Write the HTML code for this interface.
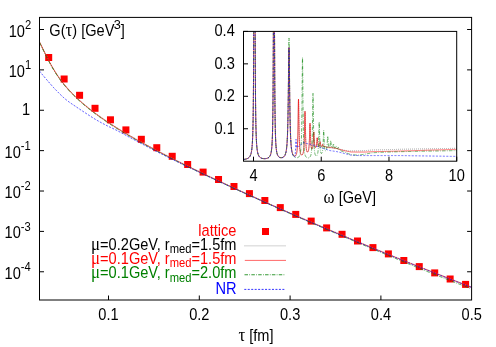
<!DOCTYPE html><html><head><meta charset="utf-8"><title>plot</title><style>html,body{margin:0;padding:0;background:#fff}svg{display:block;will-change:transform}text{font-family:"Liberation Sans",sans-serif;font-size:14.6px;fill:#000}.sy{font-family:"Liberation Serif",serif;font-size:16.8px}</style></head><body>
<svg width="496" height="347" viewBox="0 0 496 347">
<rect width="496" height="347" fill="#fff"/>
<defs><clipPath id="cm"><rect x="39.5" y="17.4" width="432.1" height="282.6"/></clipPath><clipPath id="ci"><rect x="243.5" y="31.4" width="213.2" height="129.79999999999998"/></clipPath></defs>
<g fill="#f00">
<rect x="45.20" y="54.00" width="7" height="7"/>
<rect x="60.64" y="75.50" width="7" height="7"/>
<rect x="76.08" y="91.80" width="7" height="7"/>
<rect x="91.52" y="104.80" width="7" height="7"/>
<rect x="106.96" y="116.30" width="7" height="7"/>
<rect x="122.40" y="126.40" width="7" height="7"/>
<rect x="137.84" y="135.80" width="7" height="7"/>
<rect x="153.28" y="144.20" width="7" height="7"/>
<rect x="168.72" y="152.80" width="7" height="7"/>
<rect x="184.16" y="161.00" width="7" height="7"/>
<rect x="199.60" y="168.60" width="7" height="7"/>
<rect x="215.04" y="176.00" width="7" height="7"/>
<rect x="230.48" y="183.00" width="7" height="7"/>
<rect x="245.92" y="190.10" width="7" height="7"/>
<rect x="261.36" y="197.00" width="7" height="7"/>
<rect x="276.80" y="204.10" width="7" height="7"/>
<rect x="292.24" y="210.90" width="7" height="7"/>
<rect x="307.68" y="217.60" width="7" height="7"/>
<rect x="323.12" y="224.40" width="7" height="7"/>
<rect x="338.56" y="230.80" width="7" height="7"/>
<rect x="354.00" y="237.50" width="7" height="7"/>
<rect x="369.44" y="244.10" width="7" height="7"/>
<rect x="384.88" y="250.40" width="7" height="7"/>
<rect x="400.32" y="257.00" width="7" height="7"/>
<rect x="415.76" y="263.10" width="7" height="7"/>
<rect x="431.20" y="269.40" width="7" height="7"/>
<rect x="446.64" y="275.50" width="7" height="7"/>
<rect x="462.08" y="280.90" width="7" height="7"/>
<rect x="262" y="228" width="7" height="7"/>
</g>
<g clip-path="url(#cm)" fill="none" stroke-width="0.7">
<path d="M39.50,41.75 L40.50,43.71 L41.50,45.73 L42.50,47.79 L43.50,49.86 L44.50,51.91 L45.50,53.95 L46.50,55.96 L47.50,57.94 L48.50,59.87 L49.50,61.77 L50.50,63.61 L51.50,65.41 L52.50,67.16 L53.50,68.86 L54.50,70.52 L55.50,72.13 L56.50,73.69 L57.50,75.21 L58.50,76.68 L59.50,78.11 L60.50,79.49 L61.50,80.83 L62.50,82.14 L63.50,83.40 L64.50,84.63 L65.50,85.83 L66.50,87.00 L67.50,88.15 L68.50,89.26 L69.50,90.35 L70.50,91.42 L71.50,92.47 L72.50,93.49 L73.50,94.50 L74.50,95.49 L75.50,96.46 L76.50,97.41 L77.50,98.35 L78.50,99.27 L79.50,100.18 L80.50,101.07 L81.50,101.95 L82.50,102.82 L83.50,103.68 L84.50,104.53 L85.50,105.36 L86.50,106.19 L87.50,107.00 L88.50,107.81 L89.50,108.61 L90.50,109.39 L91.50,110.17 L92.50,110.94 L93.50,111.70 L94.50,112.46 L95.50,113.20 L96.50,113.94 L97.50,114.67 L98.50,115.40 L99.50,116.12 L100.50,116.83 L101.50,117.54 L102.50,118.24 L103.50,118.93 L104.50,119.62 L105.50,120.30 L106.50,120.98 L107.50,121.65 L108.50,122.31 L109.50,122.98 L110.50,123.63 L111.50,124.28 L112.50,124.93 L113.50,125.57 L114.50,126.21 L115.50,126.85 L116.50,127.48 L117.50,128.10 L118.50,128.72 L119.50,129.34 L120.50,129.95 L121.50,130.56 L122.50,131.17 L123.50,131.77 L124.50,132.37 L125.50,132.97 L126.50,133.56 L127.50,134.15 L128.50,134.73 L129.50,135.32 L130.50,135.90 L131.50,136.47 L132.50,137.05 L133.50,137.62 L134.50,138.19 L135.50,138.75 L136.50,139.31 L137.50,139.87 L138.50,140.43 L139.50,140.99 L140.50,141.54 L141.50,142.09 L142.50,142.64 L143.50,143.19 L144.50,143.74 L145.50,144.28 L146.50,144.82 L147.50,145.36 L148.50,145.90 L149.50,146.43 L150.50,146.97 L151.50,147.50 L152.50,148.03 L153.50,148.56 L154.50,149.09 L155.50,149.61 L156.50,150.14 L157.50,150.66 L158.50,151.18 L159.50,151.70 L160.50,152.22 L161.50,152.74 L162.50,153.25 L163.50,153.77 L164.50,154.28 L165.50,154.79 L166.50,155.30 L167.50,155.81 L168.50,156.32 L169.50,156.83 L170.50,157.34 L171.50,157.84 L172.50,158.35 L173.50,158.85 L174.50,159.35 L175.50,159.85 L176.50,160.35 L177.50,160.85 L178.50,161.35 L179.50,161.84 L180.50,162.34 L181.50,162.83 L182.50,163.33 L183.50,163.82 L184.50,164.31 L185.50,164.81 L186.50,165.30 L187.50,165.79 L188.50,166.27 L189.50,166.76 L190.50,167.25 L191.50,167.74 L192.50,168.22 L193.50,168.71 L194.50,169.19 L195.50,169.67 L196.50,170.16 L197.50,170.64 L198.50,171.12 L199.50,171.60 L200.50,172.08 L201.50,172.56 L202.50,173.03 L203.50,173.51 L204.50,173.99 L205.50,174.47 L206.50,174.94 L207.50,175.42 L208.50,175.89 L209.50,176.36 L210.50,176.84 L211.50,177.31 L212.50,177.78 L213.50,178.25 L214.50,178.72 L215.50,179.19 L216.50,179.66 L217.50,180.13 L218.50,180.60 L219.50,181.07 L220.50,181.53 L221.50,182.00 L222.50,182.46 L223.50,182.93 L224.50,183.39 L225.50,183.86 L226.50,184.32 L227.50,184.79 L228.50,185.25 L229.50,185.71 L230.50,186.17 L231.50,186.63 L232.50,187.09 L233.50,187.55 L234.50,188.01 L235.50,188.47 L236.50,188.93 L237.50,189.39 L238.50,189.85 L239.50,190.30 L240.50,190.76 L241.50,191.22 L242.50,191.67 L243.50,192.13 L244.50,192.58 L245.50,193.04 L246.50,193.49 L247.50,193.94 L248.50,194.40 L249.50,194.85 L250.50,195.30 L251.50,195.75 L252.50,196.20 L253.50,196.65 L254.50,197.10 L255.50,197.55 L256.50,198.00 L257.50,198.45 L258.50,198.90 L259.50,199.35 L260.50,199.80 L261.50,200.24 L262.50,200.69 L263.50,201.14 L264.50,201.58 L265.50,202.03 L266.50,202.47 L267.50,202.92 L268.50,203.36 L269.50,203.81 L270.50,204.25 L271.50,204.69 L272.50,205.14 L273.50,205.58 L274.50,206.02 L275.50,206.46 L276.50,206.90 L277.50,207.34 L278.50,207.78 L279.50,208.22 L280.50,208.66 L281.50,209.10 L282.50,209.54 L283.50,209.98 L284.50,210.42 L285.50,210.86 L286.50,211.29 L287.50,211.73 L288.50,212.17 L289.50,212.61 L290.50,213.04 L291.50,213.48 L292.50,213.91 L293.50,214.35 L294.50,214.78 L295.50,215.22 L296.50,215.65 L297.50,216.08 L298.50,216.52 L299.50,216.95 L300.50,217.38 L301.50,217.81 L302.50,218.25 L303.50,218.68 L304.50,219.11 L305.50,219.54 L306.50,219.97 L307.50,220.40 L308.50,220.83 L309.50,221.26 L310.50,221.69 L311.50,222.12 L312.50,222.54 L313.50,222.97 L314.50,223.40 L315.50,223.83 L316.50,224.25 L317.50,224.68 L318.50,225.11 L319.50,225.53 L320.50,225.96 L321.50,226.39 L322.50,226.81 L323.50,227.23 L324.50,227.66 L325.50,228.08 L326.50,228.51 L327.50,228.93 L328.50,229.35 L329.50,229.78 L330.50,230.20 L331.50,230.62 L332.50,231.04 L333.50,231.47 L334.50,231.89 L335.50,232.31 L336.50,232.73 L337.50,233.15 L338.50,233.57 L339.50,233.99 L340.50,234.41 L341.50,234.83 L342.50,235.25 L343.50,235.66 L344.50,236.08 L345.50,236.50 L346.50,236.92 L347.50,237.34 L348.50,237.75 L349.50,238.17 L350.50,238.59 L351.50,239.00 L352.50,239.42 L353.50,239.83 L354.50,240.25 L355.50,240.66 L356.50,241.08 L357.50,241.49 L358.50,241.91 L359.50,242.32 L360.50,242.73 L361.50,243.15 L362.50,243.56 L363.50,243.97 L364.50,244.38 L365.50,244.80 L366.50,245.21 L367.50,245.62 L368.50,246.03 L369.50,246.44 L370.50,246.85 L371.50,247.26 L372.50,247.67 L373.50,248.08 L374.50,248.49 L375.50,248.90 L376.50,249.31 L377.50,249.72 L378.50,250.13 L379.50,250.53 L380.50,250.94 L381.50,251.35 L382.50,251.76 L383.50,252.16 L384.50,252.57 L385.50,252.98 L386.50,253.38 L387.50,253.79 L388.50,254.19 L389.50,254.60 L390.50,255.00 L391.50,255.41 L392.50,255.81 L393.50,256.22 L394.50,256.62 L395.50,257.03 L396.50,257.43 L397.50,257.83 L398.50,258.23 L399.50,258.64 L400.50,259.04 L401.50,259.44 L402.50,259.84 L403.50,260.24 L404.50,260.65 L405.50,261.05 L406.50,261.45 L407.50,261.85 L408.50,262.25 L409.50,262.65 L410.50,263.05 L411.50,263.45 L412.50,263.85 L413.50,264.25 L414.50,264.64 L415.50,265.04 L416.50,265.44 L417.50,265.84 L418.50,266.24 L419.50,266.63 L420.50,267.03 L421.50,267.43 L422.50,267.82 L423.50,268.22 L424.50,268.62 L425.50,269.01 L426.50,269.41 L427.50,269.80 L428.50,270.20 L429.50,270.59 L430.50,270.99 L431.50,271.38 L432.50,271.78 L433.50,272.17 L434.50,272.56 L435.50,272.96 L436.50,273.35 L437.50,273.74 L438.50,274.14 L439.50,274.53 L440.50,274.92 L441.50,275.31 L442.50,275.70 L443.50,276.09 L444.50,276.49 L445.50,276.88 L446.50,277.27 L447.50,277.66 L448.50,278.05 L449.50,278.44 L450.50,278.83 L451.50,279.22 L452.50,279.61 L453.50,279.99 L454.50,280.38 L455.50,280.77 L456.50,281.16 L457.50,281.55 L458.50,281.93 L459.50,282.32 L460.50,282.71 L461.50,283.10 L462.50,283.48 L463.50,283.87 L464.50,284.26 L465.50,284.64 L466.50,285.03 L467.50,285.41 L468.50,285.80 L469.50,286.18 L470.50,286.57 L471.50,286.95" stroke="#999" stroke-dasharray="1 1" stroke-width="1"/>
<path d="M39.50,42.05 L40.50,44.01 L41.50,46.03 L42.50,48.09 L43.50,50.16 L44.50,52.21 L45.50,54.25 L46.50,56.26 L47.50,58.24 L48.50,60.17 L49.50,62.07 L50.50,63.91 L51.50,65.71 L52.50,67.46 L53.50,69.16 L54.50,70.82 L55.50,72.43 L56.50,73.99 L57.50,75.51 L58.50,76.98 L59.50,78.41 L60.50,79.79 L61.50,81.13 L62.50,82.44 L63.50,83.70 L64.50,84.93 L65.50,86.13 L66.50,87.30 L67.50,88.45 L68.50,89.56 L69.50,90.65 L70.50,91.72 L71.50,92.77 L72.50,93.79 L73.50,94.80 L74.50,95.79 L75.50,96.76 L76.50,97.71 L77.50,98.65 L78.50,99.57 L79.50,100.48 L80.50,101.37 L81.50,102.25 L82.50,103.12 L83.50,103.98 L84.50,104.83 L85.50,105.66 L86.50,106.49 L87.50,107.30 L88.50,108.11 L89.50,108.91 L90.50,109.69 L91.50,110.47 L92.50,111.24 L93.50,112.00 L94.50,112.76 L95.50,113.50 L96.50,114.24 L97.50,114.97 L98.50,115.70 L99.50,116.42 L100.50,117.13 L101.50,117.84 L102.50,118.54 L103.50,119.23 L104.50,119.92 L105.50,120.60 L106.50,121.28 L107.50,121.95 L108.50,122.61 L109.50,123.28 L110.50,123.93 L111.50,124.58 L112.50,125.23 L113.50,125.87 L114.50,126.51 L115.50,127.15 L116.50,127.78 L117.50,128.40 L118.50,129.02 L119.50,129.64 L120.50,130.25 L121.50,130.86 L122.50,131.47 L123.50,132.07 L124.50,132.67 L125.50,133.27 L126.50,133.86 L127.50,134.45 L128.50,135.03 L129.50,135.62 L130.50,136.20 L131.50,136.77 L132.50,137.35 L133.50,137.92 L134.50,138.49 L135.50,139.05 L136.50,139.61 L137.50,140.17 L138.50,140.73 L139.50,141.29 L140.50,141.84 L141.50,142.39 L142.50,142.94 L143.50,143.49 L144.50,144.04 L145.50,144.58 L146.50,145.12 L147.50,145.66 L148.50,146.20 L149.50,146.73 L150.50,147.27 L151.50,147.80 L152.50,148.33 L153.50,148.86 L154.50,149.39 L155.50,149.91 L156.50,150.44 L157.50,150.96 L158.50,151.48 L159.50,152.00 L160.50,152.52 L161.50,153.04 L162.50,153.55 L163.50,154.07 L164.50,154.58 L165.50,155.09 L166.50,155.60 L167.50,156.11 L168.50,156.62 L169.50,157.13 L170.50,157.64 L171.50,158.14 L172.50,158.65 L173.50,159.15 L174.50,159.65 L175.50,160.15 L176.50,160.65 L177.50,161.15 L178.50,161.65 L179.50,162.14 L180.50,162.64 L181.50,163.13 L182.50,163.63 L183.50,164.12 L184.50,164.61 L185.50,165.11 L186.50,165.60 L187.50,166.09 L188.50,166.57 L189.50,167.06 L190.50,167.55 L191.50,168.04 L192.50,168.52 L193.50,169.01 L194.50,169.49 L195.50,169.97 L196.50,170.46 L197.50,170.94 L198.50,171.42 L199.50,171.90 L200.50,172.38 L201.50,172.86 L202.50,173.33 L203.50,173.81 L204.50,174.29 L205.50,174.77 L206.50,175.24 L207.50,175.72 L208.50,176.19 L209.50,176.66 L210.50,177.14 L211.50,177.61 L212.50,178.08 L213.50,178.55 L214.50,179.02 L215.50,179.49 L216.50,179.96 L217.50,180.43 L218.50,180.90 L219.50,181.37 L220.50,181.83 L221.50,182.30 L222.50,182.76 L223.50,183.23 L224.50,183.69 L225.50,184.16 L226.50,184.62 L227.50,185.09 L228.50,185.55 L229.50,186.01 L230.50,186.47 L231.50,186.93 L232.50,187.39 L233.50,187.85 L234.50,188.31 L235.50,188.77 L236.50,189.23 L237.50,189.69 L238.50,190.15 L239.50,190.60 L240.50,191.06 L241.50,191.52 L242.50,191.97 L243.50,192.43 L244.50,192.88 L245.50,193.34 L246.50,193.79 L247.50,194.24 L248.50,194.70 L249.50,195.15 L250.50,195.60 L251.50,196.05 L252.50,196.50 L253.50,196.95 L254.50,197.40 L255.50,197.85 L256.50,198.30 L257.50,198.75 L258.50,199.20 L259.50,199.65 L260.50,200.10 L261.50,200.54 L262.50,200.99 L263.50,201.44 L264.50,201.88 L265.50,202.33 L266.50,202.77 L267.50,203.22 L268.50,203.66 L269.50,204.11 L270.50,204.55 L271.50,204.99 L272.50,205.44 L273.50,205.88 L274.50,206.32 L275.50,206.76 L276.50,207.20 L277.50,207.64 L278.50,208.08 L279.50,208.52 L280.50,208.96 L281.50,209.40 L282.50,209.84 L283.50,210.28 L284.50,210.72 L285.50,211.16 L286.50,211.59 L287.50,212.03 L288.50,212.47 L289.50,212.91 L290.50,213.34 L291.50,213.78 L292.50,214.21 L293.50,214.65 L294.50,215.08 L295.50,215.52 L296.50,215.95 L297.50,216.38 L298.50,216.82 L299.50,217.25 L300.50,217.68 L301.50,218.11 L302.50,218.55 L303.50,218.98 L304.50,219.41 L305.50,219.84 L306.50,220.27 L307.50,220.70 L308.50,221.13 L309.50,221.56 L310.50,221.99 L311.50,222.42 L312.50,222.84 L313.50,223.27 L314.50,223.70 L315.50,224.13 L316.50,224.55 L317.50,224.98 L318.50,225.41 L319.50,225.83 L320.50,226.26 L321.50,226.69 L322.50,227.11 L323.50,227.53 L324.50,227.96 L325.50,228.38 L326.50,228.81 L327.50,229.23 L328.50,229.65 L329.50,230.08 L330.50,230.50 L331.50,230.92 L332.50,231.34 L333.50,231.77 L334.50,232.19 L335.50,232.61 L336.50,233.03 L337.50,233.45 L338.50,233.87 L339.50,234.29 L340.50,234.71 L341.50,235.13 L342.50,235.55 L343.50,235.96 L344.50,236.38 L345.50,236.80 L346.50,237.22 L347.50,237.64 L348.50,238.05 L349.50,238.47 L350.50,238.89 L351.50,239.30 L352.50,239.72 L353.50,240.13 L354.50,240.55 L355.50,240.96 L356.50,241.38 L357.50,241.79 L358.50,242.21 L359.50,242.62 L360.50,243.03 L361.50,243.45 L362.50,243.86 L363.50,244.27 L364.50,244.68 L365.50,245.10 L366.50,245.51 L367.50,245.92 L368.50,246.33 L369.50,246.74 L370.50,247.15 L371.50,247.56 L372.50,247.97 L373.50,248.38 L374.50,248.79 L375.50,249.20 L376.50,249.61 L377.50,250.02 L378.50,250.43 L379.50,250.83 L380.50,251.24 L381.50,251.65 L382.50,252.06 L383.50,252.46 L384.50,252.87 L385.50,253.28 L386.50,253.68 L387.50,254.09 L388.50,254.49 L389.50,254.90 L390.50,255.30 L391.50,255.71 L392.50,256.11 L393.50,256.52 L394.50,256.92 L395.50,257.33 L396.50,257.73 L397.50,258.13 L398.50,258.53 L399.50,258.94 L400.50,259.34 L401.50,259.74 L402.50,260.14 L403.50,260.54 L404.50,260.95 L405.50,261.35 L406.50,261.75 L407.50,262.15 L408.50,262.55 L409.50,262.95 L410.50,263.35 L411.50,263.75 L412.50,264.15 L413.50,264.55 L414.50,264.94 L415.50,265.34 L416.50,265.74 L417.50,266.14 L418.50,266.54 L419.50,266.93 L420.50,267.33 L421.50,267.73 L422.50,268.12 L423.50,268.52 L424.50,268.92 L425.50,269.31 L426.50,269.71 L427.50,270.10 L428.50,270.50 L429.50,270.89 L430.50,271.29 L431.50,271.68 L432.50,272.08 L433.50,272.47 L434.50,272.86 L435.50,273.26 L436.50,273.65 L437.50,274.04 L438.50,274.44 L439.50,274.83 L440.50,275.22 L441.50,275.61 L442.50,276.00 L443.50,276.39 L444.50,276.79 L445.50,277.18 L446.50,277.57 L447.50,277.96 L448.50,278.35 L449.50,278.74 L450.50,279.13 L451.50,279.52 L452.50,279.91 L453.50,280.29 L454.50,280.68 L455.50,281.07 L456.50,281.46 L457.50,281.85 L458.50,282.23 L459.50,282.62 L460.50,283.01 L461.50,283.40 L462.50,283.78 L463.50,284.17 L464.50,284.56 L465.50,284.94 L466.50,285.33 L467.50,285.71 L468.50,286.10 L469.50,286.48 L470.50,286.87 L471.50,287.25" stroke="#f00"/>
<path d="M39.50,42.55 L40.50,44.51 L41.50,46.53 L42.50,48.59 L43.50,50.66 L44.50,52.71 L45.50,54.75 L46.50,56.76 L47.50,58.74 L48.50,60.67 L49.50,62.57 L50.50,64.41 L51.50,66.21 L52.50,67.96 L53.50,69.66 L54.50,71.32 L55.50,72.93 L56.50,74.49 L57.50,76.01 L58.50,77.48 L59.50,78.91 L60.50,80.29 L61.50,81.63 L62.50,82.94 L63.50,84.20 L64.50,85.43 L65.50,86.63 L66.50,87.80 L67.50,88.95 L68.50,90.06 L69.50,91.15 L70.50,92.22 L71.50,93.27 L72.50,94.29 L73.50,95.30 L74.50,96.29 L75.50,97.26 L76.50,98.21 L77.50,99.15 L78.50,100.07 L79.50,100.98 L80.50,101.87 L81.50,102.75 L82.50,103.62 L83.50,104.48 L84.50,105.33 L85.50,106.16 L86.50,106.99 L87.50,107.80 L88.50,108.61 L89.50,109.41 L90.50,110.19 L91.50,110.97 L92.50,111.74 L93.50,112.50 L94.50,113.26 L95.50,114.00 L96.50,114.74 L97.50,115.47 L98.50,116.20 L99.50,116.92 L100.50,117.63 L101.50,118.34 L102.50,119.04 L103.50,119.73 L104.50,120.42 L105.50,121.10 L106.50,121.78 L107.50,122.45 L108.50,123.11 L109.50,123.78 L110.50,124.43 L111.50,125.08 L112.50,125.73 L113.50,126.37 L114.50,127.01 L115.50,127.65 L116.50,128.28 L117.50,128.90 L118.50,129.52 L119.50,130.14 L120.50,130.75 L121.50,131.36 L122.50,131.97 L123.50,132.57 L124.50,133.17 L125.50,133.77 L126.50,134.36 L127.50,134.95 L128.50,135.53 L129.50,136.12 L130.50,136.70 L131.50,137.27 L132.50,137.85 L133.50,138.42 L134.50,138.99 L135.50,139.55 L136.50,140.11 L137.50,140.67 L138.50,141.23 L139.50,141.79 L140.50,142.34 L141.50,142.89 L142.50,143.44 L143.50,143.99 L144.50,144.54 L145.50,145.08 L146.50,145.62 L147.50,146.16 L148.50,146.70 L149.50,147.23 L150.50,147.77 L151.50,148.30 L152.50,148.83 L153.50,149.35 L154.50,149.88 L155.50,150.40 L156.50,150.92 L157.50,151.45 L158.50,151.96 L159.50,152.48 L160.50,153.00 L161.50,153.51 L162.50,154.03 L163.50,154.54 L164.50,155.05 L165.50,155.56 L166.50,156.07 L167.50,156.58 L168.50,157.09 L169.50,157.59 L170.50,158.10 L171.50,158.60 L172.50,159.10 L173.50,159.60 L174.50,160.10 L175.50,160.60 L176.50,161.10 L177.50,161.59 L178.50,162.09 L179.50,162.58 L180.50,163.08 L181.50,163.57 L182.50,164.06 L183.50,164.55 L184.50,165.04 L185.50,165.53 L186.50,166.02 L187.50,166.51 L188.50,167.00 L189.50,167.48 L190.50,167.97 L191.50,168.45 L192.50,168.94 L193.50,169.42 L194.50,169.90 L195.50,170.38 L196.50,170.86 L197.50,171.34 L198.50,171.82 L199.50,172.30 L200.50,172.78 L201.50,173.25 L202.50,173.73 L203.50,174.21 L204.50,174.68 L205.50,175.15 L206.50,175.63 L207.50,176.10 L208.50,176.57 L209.50,177.04 L210.50,177.52 L211.50,177.99 L212.50,178.46 L213.50,178.92 L214.50,179.39 L215.50,179.86 L216.50,180.33 L217.50,180.79 L218.50,181.26 L219.50,181.73 L220.50,182.19 L221.50,182.66 L222.50,183.12 L223.50,183.58 L224.50,184.05 L225.50,184.51 L226.50,184.97 L227.50,185.43 L228.50,185.89 L229.50,186.35 L230.50,186.81 L231.50,187.27 L232.50,187.73 L233.50,188.19 L234.50,188.64 L235.50,189.10 L236.50,189.56 L237.50,190.01 L238.50,190.47 L239.50,190.92 L240.50,191.38 L241.50,191.83 L242.50,192.29 L243.50,192.74 L244.50,193.19 L245.50,193.64 L246.50,194.10 L247.50,194.55 L248.50,195.00 L249.50,195.45 L250.50,195.90 L251.50,196.36 L252.50,196.81 L253.50,197.26 L254.50,197.71 L255.50,198.17 L256.50,198.62 L257.50,199.07 L258.50,199.52 L259.50,199.97 L260.50,200.42 L261.50,200.87 L262.50,201.32 L263.50,201.77 L264.50,202.22 L265.50,202.67 L266.50,203.11 L267.50,203.56 L268.50,204.01 L269.50,204.46 L270.50,204.90 L271.50,205.35 L272.50,205.79 L273.50,206.24 L274.50,206.68 L275.50,207.13 L276.50,207.57 L277.50,208.01 L278.50,208.46 L279.50,208.90 L280.50,209.34 L281.50,209.78 L282.50,210.22 L283.50,210.67 L284.50,211.11 L285.50,211.55 L286.50,211.99 L287.50,212.43 L288.50,212.87 L289.50,213.30 L290.50,213.74 L291.50,214.18 L292.50,214.62 L293.50,215.06 L294.50,215.49 L295.50,215.93 L296.50,216.37 L297.50,216.80 L298.50,217.24 L299.50,217.67 L300.50,218.11 L301.50,218.54 L302.50,218.98 L303.50,219.41 L304.50,219.84 L305.50,220.28 L306.50,220.71 L307.50,221.14 L308.50,221.58 L309.50,222.01 L310.50,222.44 L311.50,222.87 L312.50,223.30 L313.50,223.73 L314.50,224.16 L315.50,224.59 L316.50,225.02 L317.50,225.45 L318.50,225.88 L319.50,226.31 L320.50,226.74 L321.50,227.16 L322.50,227.59 L323.50,228.02 L324.50,228.45 L325.50,228.87 L326.50,229.30 L327.50,229.72 L328.50,230.15 L329.50,230.58 L330.50,231.00 L331.50,231.43 L332.50,231.86 L333.50,232.29 L334.50,232.72 L335.50,233.15 L336.50,233.58 L337.50,234.01 L338.50,234.44 L339.50,234.86 L340.50,235.29 L341.50,235.72 L342.50,236.15 L343.50,236.57 L344.50,237.00 L345.50,237.42 L346.50,237.85 L347.50,238.28 L348.50,238.70 L349.50,239.12 L350.50,239.55 L351.50,239.97 L352.50,240.40 L353.50,240.82 L354.50,241.24 L355.50,241.67 L356.50,242.09 L357.50,242.51 L358.50,242.93 L359.50,243.36 L360.50,243.78 L361.50,244.20 L362.50,244.62 L363.50,245.04 L364.50,245.46 L365.50,245.88 L366.50,246.30 L367.50,246.72 L368.50,247.14 L369.50,247.56 L370.50,247.98 L371.50,248.39 L372.50,248.81 L373.50,249.23 L374.50,249.65 L375.50,250.06 L376.50,250.48 L377.50,250.90 L378.50,251.31 L379.50,251.73 L380.50,252.15 L381.50,252.57 L382.50,252.99 L383.50,253.41 L384.50,253.83 L385.50,254.25 L386.50,254.67 L387.50,255.09 L388.50,255.50 L389.50,255.92 L390.50,256.34 L391.50,256.76 L392.50,257.18 L393.50,257.59 L394.50,258.01 L395.50,258.43 L396.50,258.84 L397.50,259.26 L398.50,259.68 L399.50,260.09 L400.50,260.51 L401.50,260.92 L402.50,261.34 L403.50,261.75 L404.50,262.17 L405.50,262.58 L406.50,262.99 L407.50,263.41 L408.50,263.82 L409.50,264.23 L410.50,264.65 L411.50,265.06 L412.50,265.47 L413.50,265.88 L414.50,266.29 L415.50,266.71 L416.50,267.12 L417.50,267.53 L418.50,267.94 L419.50,268.35 L420.50,268.76 L421.50,269.17 L422.50,269.58 L423.50,269.99 L424.50,270.40 L425.50,270.81 L426.50,271.21 L427.50,271.61 L428.50,272.00 L429.50,272.40 L430.50,272.80 L431.50,273.19 L432.50,273.59 L433.50,273.99 L434.50,274.38 L435.50,274.78 L436.50,275.17 L437.50,275.57 L438.50,275.96 L439.50,276.36 L440.50,276.75 L441.50,277.15 L442.50,277.54 L443.50,277.93 L444.50,278.33 L445.50,278.72 L446.50,279.11 L447.50,279.50 L448.50,279.90 L449.50,280.29 L450.50,280.68 L451.50,281.07 L452.50,281.46 L453.50,281.85 L454.50,282.25 L455.50,282.64 L456.50,283.03 L457.50,283.42 L458.50,283.81 L459.50,284.20 L460.50,284.59 L461.50,284.97 L462.50,285.36 L463.50,285.75 L464.50,286.14 L465.50,286.53 L466.50,286.92 L467.50,287.30 L468.50,287.69 L469.50,288.08 L470.50,288.47 L471.50,288.85" stroke="#008000" stroke-dasharray="3.5 1.3 0.75 1.3"/>
<path d="M39.50,71.10 L40.50,72.32 L41.50,73.53 L42.50,74.74 L43.50,75.94 L44.50,77.12 L45.50,78.30 L46.50,79.47 L47.50,80.63 L48.50,81.80 L49.50,82.96 L50.50,84.12 L51.50,85.26 L52.50,86.38 L53.50,87.48 L54.50,88.56 L55.50,89.61 L56.50,90.64 L57.50,91.67 L58.50,92.68 L59.50,93.68 L60.50,94.67 L61.50,95.63 L62.50,96.57 L63.50,97.49 L64.50,98.37 L65.50,99.23 L66.50,100.04 L67.50,100.82 L68.50,101.57 L69.50,102.29 L70.50,102.99 L71.50,103.68 L72.50,104.35 L73.50,105.02 L74.50,105.69 L75.50,106.36 L76.50,107.04 L77.50,107.72 L78.50,108.39 L79.50,109.06 L80.50,109.73 L81.50,110.39 L82.50,111.05 L83.50,111.71 L84.50,112.36 L85.50,113.02 L86.50,113.66 L87.50,114.31 L88.50,114.97 L89.50,115.62 L90.50,116.27 L91.50,116.91 L92.50,117.55 L93.50,118.18 L94.50,118.80 L95.50,119.41 L96.50,120.00 L97.50,120.58 L98.50,121.15 L99.50,121.72 L100.50,122.27 L101.50,122.82 L102.50,123.36 L103.50,123.89 L104.50,124.42 L105.50,124.94 L106.50,125.45 L107.50,125.95 L108.50,126.44 L109.50,126.91 L110.50,127.38 L111.50,127.85 L112.50,128.31 L113.50,128.78 L114.50,129.26 L115.50,129.75 L116.50,130.25 L117.50,130.77 L118.50,131.29 L119.50,131.82 L120.50,132.35 L121.50,132.89 L122.50,133.44 L123.50,133.98 L124.50,134.53 L125.50,135.08 L126.50,135.63 L127.50,136.18 L128.50,136.72 L129.50,137.26 L130.50,137.80 L131.50,138.33 L132.50,138.87 L133.50,139.40 L134.50,139.93 L135.50,140.46 L136.50,140.99 L137.50,141.52 L138.50,142.05 L139.50,142.58 L140.50,143.11 L141.50,143.64 L142.50,144.16 L143.50,144.69 L144.50,145.22 L145.50,145.74 L146.50,146.27 L147.50,146.79 L148.50,147.32 L149.50,147.84 L150.50,148.36 L151.50,148.88 L152.50,149.40 L153.50,149.91 L154.50,150.42 L155.50,150.94 L156.50,151.45 L157.50,151.96 L158.50,152.46 L159.50,152.97 L160.50,153.47 L161.50,153.98 L162.50,154.48 L163.50,154.98 L164.50,155.48 L165.50,155.98 L166.50,156.47 L167.50,156.97 L168.50,157.46 L169.50,157.96 L170.50,158.45 L171.50,158.94 L172.50,159.43 L173.50,159.92 L174.50,160.41 L175.50,160.89 L176.50,161.38 L177.50,161.86 L178.50,162.35 L179.50,162.83 L180.50,163.31 L181.50,163.79 L182.50,164.27 L183.50,164.75 L184.50,165.23 L185.50,165.71 L186.50,166.18 L187.50,166.66 L188.50,167.13 L189.50,167.61 L190.50,168.08 L191.50,168.55 L192.50,169.03 L193.50,169.50 L194.50,169.97 L195.50,170.44 L196.50,170.90 L197.50,171.37 L198.50,171.84 L199.50,172.31 L200.50,172.78 L201.50,173.25 L202.50,173.73 L203.50,174.20 L204.50,174.67 L205.50,175.15 L206.50,175.62 L207.50,176.09 L208.50,176.56 L209.50,177.03 L210.50,177.50 L211.50,177.97 L212.50,178.44 L213.50,178.91 L214.50,179.37 L215.50,179.84 L216.50,180.31 L217.50,180.77 L218.50,181.24 L219.50,181.70 L220.50,182.16 L221.50,182.63 L222.50,183.09 L223.50,183.55 L224.50,184.01 L225.50,184.47 L226.50,184.93 L227.50,185.39 L228.50,185.85 L229.50,186.31 L230.50,186.77 L231.50,187.23 L232.50,187.68 L233.50,188.14 L234.50,188.60 L235.50,189.05 L236.50,189.51 L237.50,189.96 L238.50,190.42 L239.50,190.87 L240.50,191.32 L241.50,191.78 L242.50,192.23 L243.50,192.68 L244.50,193.13 L245.50,193.58 L246.50,194.03 L247.50,194.48 L248.50,194.93 L249.50,195.38 L250.50,195.83 L251.50,196.28 L252.50,196.73 L253.50,197.17 L254.50,197.62 L255.50,198.07 L256.50,198.51 L257.50,198.96 L258.50,199.41 L259.50,199.85 L260.50,200.30 L261.50,200.74 L262.50,201.19 L263.50,201.64 L264.50,202.08 L265.50,202.53 L266.50,202.97 L267.50,203.42 L268.50,203.86 L269.50,204.31 L270.50,204.75 L271.50,205.19 L272.50,205.64 L273.50,206.08 L274.50,206.52 L275.50,206.96 L276.50,207.40 L277.50,207.84 L278.50,208.28 L279.50,208.72 L280.50,209.16 L281.50,209.60 L282.50,210.04 L283.50,210.48 L284.50,210.92 L285.50,211.36 L286.50,211.79 L287.50,212.23 L288.50,212.67 L289.50,213.11 L290.50,213.54 L291.50,213.98 L292.50,214.41 L293.50,214.85 L294.50,215.28 L295.50,215.72 L296.50,216.15 L297.50,216.58 L298.50,217.02 L299.50,217.45 L300.50,217.88 L301.50,218.31 L302.50,218.75 L303.50,219.18 L304.50,219.61 L305.50,220.04 L306.50,220.47 L307.50,220.90 L308.50,221.33 L309.50,221.76 L310.50,222.19 L311.50,222.62 L312.50,223.04 L313.50,223.47 L314.50,223.90 L315.50,224.33 L316.50,224.75 L317.50,225.18 L318.50,225.61 L319.50,226.03 L320.50,226.46 L321.50,226.89 L322.50,227.31 L323.50,227.73 L324.50,228.16 L325.50,228.58 L326.50,229.01 L327.50,229.43 L328.50,229.85 L329.50,230.28 L330.50,230.70 L331.50,231.12 L332.50,231.54 L333.50,231.97 L334.50,232.39 L335.50,232.81 L336.50,233.23 L337.50,233.65 L338.50,234.07 L339.50,234.49 L340.50,234.91 L341.50,235.33 L342.50,235.75 L343.50,236.16 L344.50,236.58 L345.50,237.00 L346.50,237.42 L347.50,237.84 L348.50,238.25 L349.50,238.67 L350.50,239.09 L351.50,239.50 L352.50,239.92 L353.50,240.33 L354.50,240.75 L355.50,241.16 L356.50,241.58 L357.50,241.99 L358.50,242.41 L359.50,242.82 L360.50,243.23 L361.50,243.65 L362.50,244.06 L363.50,244.47 L364.50,244.88 L365.50,245.30 L366.50,245.71 L367.50,246.12 L368.50,246.53 L369.50,246.94 L370.50,247.35 L371.50,247.76 L372.50,248.17 L373.50,248.58 L374.50,248.99 L375.50,249.40 L376.50,249.81 L377.50,250.22 L378.50,250.63 L379.50,251.03 L380.50,251.44 L381.50,251.85 L382.50,252.26 L383.50,252.66 L384.50,253.07 L385.50,253.48 L386.50,253.88 L387.50,254.29 L388.50,254.69 L389.50,255.10 L390.50,255.50 L391.50,255.91 L392.50,256.31 L393.50,256.72 L394.50,257.12 L395.50,257.53 L396.50,257.93 L397.50,258.33 L398.50,258.73 L399.50,259.14 L400.50,259.54 L401.50,259.94 L402.50,260.34 L403.50,260.74 L404.50,261.15 L405.50,261.55 L406.50,261.95 L407.50,262.35 L408.50,262.75 L409.50,263.15 L410.50,263.55 L411.50,263.95 L412.50,264.35 L413.50,264.75 L414.50,265.14 L415.50,265.54 L416.50,265.94 L417.50,266.34 L418.50,266.74 L419.50,267.13 L420.50,267.53 L421.50,267.93 L422.50,268.32 L423.50,268.72 L424.50,269.12 L425.50,269.51 L426.50,269.91 L427.50,270.30 L428.50,270.70 L429.50,271.09 L430.50,271.49 L431.50,271.88 L432.50,272.28 L433.50,272.67 L434.50,273.06 L435.50,273.46 L436.50,273.85 L437.50,274.24 L438.50,274.64 L439.50,275.03 L440.50,275.42 L441.50,275.81 L442.50,276.20 L443.50,276.59 L444.50,276.99 L445.50,277.38 L446.50,277.77 L447.50,278.16 L448.50,278.55 L449.50,278.94 L450.50,279.33 L451.50,279.72 L452.50,280.11 L453.50,280.49 L454.50,280.88 L455.50,281.27 L456.50,281.66 L457.50,282.05 L458.50,282.43 L459.50,282.82 L460.50,283.21 L461.50,283.60 L462.50,283.98 L463.50,284.37 L464.50,284.76 L465.50,285.14 L466.50,285.53 L467.50,285.91 L468.50,286.30 L469.50,286.68 L470.50,287.07 L471.50,287.45" stroke="#00f" stroke-dasharray="2 1.46"/>
</g>
<rect x="243.5" y="31.4" width="213.2" height="129.79999999999998" fill="#fff"/>
<g clip-path="url(#ci)" fill="none" stroke-width="0.6">
<path d="M243.50,159.48 L243.60,159.47 L243.70,159.45 L243.80,159.44 L243.90,159.43 L244.00,159.41 L244.10,159.40 L244.20,159.38 L244.30,159.37 L244.40,159.35 L244.50,159.34 L244.60,159.32 L244.70,159.30 L244.80,159.29 L244.90,159.27 L245.00,159.25 L245.10,159.23 L245.20,159.21 L245.30,159.19 L245.40,159.17 L245.50,159.15 L245.60,159.13 L245.70,159.10 L245.80,159.08 L245.90,159.05 L246.00,159.03 L246.10,159.00 L246.20,158.98 L246.30,158.95 L246.40,158.92 L246.50,158.89 L246.60,158.85 L246.70,158.82 L246.80,158.79 L246.90,158.75 L247.00,158.72 L247.10,158.68 L247.20,158.64 L247.30,158.60 L247.40,158.55 L247.50,158.51 L247.60,158.46 L247.70,158.41 L247.80,158.36 L247.90,158.30 L248.00,158.25 L248.10,158.19 L248.20,158.13 L248.30,158.06 L248.40,157.99 L248.50,157.92 L248.60,157.85 L248.70,157.77 L248.80,157.69 L248.90,157.60 L249.00,157.51 L249.10,157.41 L249.20,157.31 L249.30,157.20 L249.40,157.08 L249.50,156.96 L249.60,156.83 L249.70,156.69 L249.80,156.54 L249.90,156.39 L250.00,156.22 L250.10,156.04 L250.20,155.85 L250.30,155.64 L250.40,155.42 L250.50,155.18 L250.60,154.93 L250.70,154.65 L250.80,154.35 L250.90,154.03 L251.00,153.68 L251.10,153.29 L251.20,152.87 L251.30,152.41 L251.40,151.91 L251.50,151.35 L251.60,150.73 L251.70,150.05 L251.80,149.29 L251.90,148.44 L252.00,147.49 L252.10,146.42 L252.20,145.20 L252.30,143.81 L252.40,142.23 L252.50,140.39 L252.60,138.27 L252.70,135.78 L252.80,132.85 L252.90,129.36 L253.00,125.16 L253.10,120.06 L253.20,113.77 L253.30,105.91 L253.40,95.93 L253.50,83.01 L253.60,65.95 L253.70,42.89 L253.80,15.17 L253.90,15.17 L254.00,15.17 L254.10,15.17 L254.20,15.17 L254.30,15.17 L254.40,15.17 L254.50,15.17 L254.60,15.17 L254.70,15.17 L254.80,15.17 L254.90,15.17 L255.00,15.17 L255.10,15.17 L255.20,42.86 L255.30,65.92 L255.40,82.97 L255.50,95.89 L255.60,105.86 L255.70,113.72 L255.80,120.00 L255.90,125.10 L256.00,129.30 L256.10,132.78 L256.20,135.71 L256.30,138.19 L256.40,140.31 L256.50,142.14 L256.60,143.73 L256.70,145.11 L256.80,146.32 L256.90,147.39 L257.00,148.34 L257.10,149.18 L257.20,149.94 L257.30,150.62 L257.40,151.23 L257.50,151.78 L257.60,152.28 L257.70,152.73 L257.80,153.15 L257.90,153.53 L258.00,153.88 L258.10,154.20 L258.20,154.49 L258.30,154.76 L258.40,155.01 L258.50,155.25 L258.60,155.46 L258.70,155.66 L258.80,155.85 L258.90,156.02 L259.00,156.18 L259.10,156.34 L259.20,156.48 L259.30,156.61 L259.40,156.74 L259.50,156.85 L259.60,156.96 L259.70,157.07 L259.80,157.16 L259.90,157.25 L260.00,157.34 L260.10,157.42 L260.20,157.50 L260.30,157.57 L260.40,157.64 L260.50,157.71 L260.60,157.77 L260.70,157.83 L260.80,157.88 L260.90,157.93 L261.00,157.98 L261.10,158.03 L261.20,158.07 L261.30,158.11 L261.40,158.15 L261.50,158.19 L261.60,158.23 L261.70,158.26 L261.80,158.29 L261.90,158.32 L262.00,158.35 L262.10,158.38 L262.20,158.40 L262.30,158.43 L262.40,158.45 L262.50,158.47 L262.60,158.49 L262.70,158.51 L262.80,158.53 L262.90,158.54 L263.00,158.56 L263.10,158.57 L263.20,158.59 L263.30,158.60 L263.40,158.61 L263.50,158.62 L263.60,158.63 L263.70,158.63 L263.80,158.64 L263.90,158.65 L264.00,158.65 L264.10,158.66 L264.20,158.66 L264.30,158.66 L264.40,158.66 L264.50,158.66 L264.60,158.66 L264.70,158.66 L264.80,158.66 L264.90,158.66 L265.00,158.65 L265.10,158.65 L265.20,158.64 L265.30,158.64 L265.40,158.63 L265.50,158.62 L265.60,158.61 L265.70,158.60 L265.80,158.59 L265.90,158.57 L266.00,158.56 L266.10,158.54 L266.20,158.53 L266.30,158.51 L266.40,158.49 L266.50,158.47 L266.60,158.45 L266.70,158.43 L266.80,158.40 L266.90,158.38 L267.00,158.35 L267.10,158.32 L267.20,158.29 L267.30,158.25 L267.40,158.22 L267.50,158.18 L267.60,158.14 L267.70,158.10 L267.80,158.06 L267.90,158.01 L268.00,157.96 L268.10,157.91 L268.20,157.85 L268.30,157.79 L268.40,157.73 L268.50,157.67 L268.60,157.60 L268.70,157.52 L268.80,157.44 L268.90,157.36 L269.00,157.27 L269.10,157.17 L269.20,157.07 L269.30,156.96 L269.40,156.84 L269.50,156.72 L269.60,156.59 L269.70,156.44 L269.80,156.29 L269.90,156.12 L270.00,155.94 L270.10,155.75 L270.20,155.54 L270.30,155.31 L270.40,155.07 L270.50,154.80 L270.60,154.51 L270.70,154.19 L270.80,153.84 L270.90,153.46 L271.00,153.03 L271.10,152.56 L271.20,152.04 L271.30,151.46 L271.40,150.82 L271.50,150.09 L271.60,149.27 L271.70,148.34 L271.80,147.28 L271.90,146.07 L272.00,144.67 L272.10,143.05 L272.20,141.15 L272.30,138.91 L272.40,136.24 L272.50,133.03 L272.60,129.13 L272.70,124.32 L272.80,118.32 L272.90,110.69 L273.00,100.81 L273.10,87.77 L273.20,70.15 L273.30,45.69 L273.40,28.12 L273.50,16.44 L273.60,15.17 L273.70,15.17 L273.80,15.17 L273.90,15.17 L274.00,15.17 L274.10,15.17 L274.20,15.17 L274.30,15.17 L274.40,16.40 L274.50,28.07 L274.60,45.66 L274.70,70.10 L274.80,87.73 L274.90,100.76 L275.00,110.63 L275.10,118.25 L275.20,124.26 L275.30,129.06 L275.40,132.95 L275.50,136.15 L275.60,138.82 L275.70,141.05 L275.80,142.94 L275.90,144.56 L276.00,145.95 L276.10,147.16 L276.20,148.21 L276.30,149.14 L276.40,149.95 L276.50,150.67 L276.60,151.31 L276.70,151.89 L276.80,152.40 L276.90,152.86 L277.00,153.28 L277.10,153.65 L277.20,154.00 L277.30,154.31 L277.40,154.59 L277.50,154.85 L277.60,155.09 L277.70,155.31 L277.80,155.51 L277.90,155.69 L278.00,155.86 L278.10,156.02 L278.20,156.17 L278.30,156.30 L278.40,156.43 L278.50,156.54 L278.60,156.65 L278.70,156.75 L278.80,156.84 L278.90,156.92 L279.00,157.00 L279.10,157.07 L279.20,157.14 L279.30,157.20 L279.40,157.26 L279.50,157.32 L279.60,157.36 L279.70,157.41 L279.80,157.45 L279.90,157.49 L280.00,157.52 L280.10,157.55 L280.20,157.58 L280.30,157.61 L280.40,157.63 L280.50,157.65 L280.60,157.67 L280.70,157.68 L280.80,157.69 L280.90,157.70 L281.00,157.71 L281.10,157.71 L281.20,157.71 L281.30,157.71 L281.40,157.71 L281.50,157.70 L281.60,157.69 L281.70,157.68 L281.80,157.67 L281.90,157.65 L282.00,157.63 L282.10,157.61 L282.20,157.59 L282.30,157.56 L282.40,157.53 L282.50,157.50 L282.60,157.47 L282.70,157.43 L282.80,157.39 L282.90,157.34 L283.00,157.30 L283.10,157.24 L283.20,157.19 L283.30,157.13 L283.40,157.07 L283.50,157.00 L283.60,156.92 L283.70,156.84 L283.80,156.76 L283.90,156.67 L284.00,156.57 L284.10,156.47 L284.20,156.36 L284.30,156.24 L284.40,156.12 L284.50,155.98 L284.60,155.84 L284.70,155.68 L284.80,155.51 L284.90,155.33 L285.00,155.14 L285.10,154.93 L285.20,154.70 L285.30,154.46 L285.40,154.20 L285.50,153.91 L285.60,153.60 L285.70,153.26 L285.80,152.90 L285.90,152.50 L286.00,152.06 L286.10,151.58 L286.20,151.05 L286.30,150.46 L286.40,149.82 L286.50,149.10 L286.60,148.31 L286.70,147.42 L286.80,146.43 L286.90,145.32 L287.00,144.07 L287.10,142.65 L287.20,141.04 L287.30,139.21 L287.40,137.12 L287.50,134.72 L287.60,131.95 L287.70,128.76 L287.80,125.06 L287.90,120.78 L288.00,115.82 L288.10,110.09 L288.20,103.53 L288.30,96.09 L288.40,87.85 L288.50,78.99 L288.60,69.93 L288.70,61.34 L288.80,54.12 L288.90,49.25 L289.00,47.52 L289.10,49.24 L289.20,54.10 L289.30,61.31 L289.40,69.90 L289.50,78.95 L289.60,87.80 L289.70,96.04 L289.80,103.46 L289.90,110.02 L290.00,115.73 L290.10,120.69 L290.20,124.96 L290.30,128.65 L290.40,131.83 L290.50,134.59 L290.60,136.98 L290.70,139.07 L290.80,140.89 L290.90,142.48 L291.00,143.89 L291.10,145.13 L291.20,146.23 L291.30,147.21 L291.40,148.09 L291.50,148.87 L291.60,149.57 L291.70,150.20 L291.80,150.78 L291.90,151.29 L292.00,151.76 L292.10,152.18 L292.20,152.57 L292.30,152.92 L292.40,153.24 L292.50,153.54 L292.60,153.81 L292.70,154.05 L292.80,154.28 L292.90,154.48 L293.00,154.67 L293.10,154.84 L293.20,155.00 L293.30,155.14 L293.40,155.27 L293.50,155.39 L293.60,155.50 L293.70,155.59 L293.80,155.68 L293.90,155.76 L294.00,155.82 L294.10,155.88 L294.20,155.93 L294.30,155.97 L294.40,156.01 L294.50,156.03 L294.60,156.04 L294.70,156.05 L294.80,156.05 L294.90,156.04 L295.00,156.02 L295.10,155.99 L295.20,155.94 L295.30,155.89 L295.40,155.83 L295.50,155.75 L295.60,155.66 L295.70,155.55 L295.80,155.42 L295.90,155.28 L296.00,155.11 L296.10,154.91 L296.20,154.69 L296.30,154.43 L296.40,154.14 L296.50,153.80 L296.60,153.40 L296.70,152.94 L296.80,152.40 L296.90,151.77 L297.00,151.03 L297.10,150.14 L297.20,149.09 L297.30,147.81 L297.40,146.26 L297.50,144.37 L297.60,142.04 L297.70,139.15 L297.80,135.58 L297.90,131.17 L298.00,125.82 L298.10,119.55 L298.20,112.69 L298.30,106.06 L298.40,101.07 L298.50,99.17 L298.60,101.04 L298.70,106.02 L298.80,112.62 L298.90,119.47 L299.00,125.72 L299.10,131.05 L299.20,135.43 L299.30,138.98 L299.40,141.85 L299.50,144.15 L299.60,146.03 L299.70,147.55 L299.80,148.80 L299.90,149.84 L300.00,150.70 L300.10,151.42 L300.20,152.02 L300.30,152.54 L300.40,152.97 L300.50,153.34 L300.60,153.65 L300.70,153.92 L300.80,154.15 L300.90,154.34 L301.00,154.50 L301.10,154.63 L301.20,154.74 L301.30,154.83 L301.40,154.90 L301.50,154.95 L301.60,154.98 L301.70,154.99 L301.80,154.99 L301.90,154.97 L302.00,154.94 L302.10,154.89 L302.20,154.82 L302.30,154.74 L302.40,154.63 L302.50,154.51 L302.60,154.36 L302.70,154.19 L302.80,153.99 L302.90,153.76 L303.00,153.49 L303.10,153.17 L303.20,152.81 L303.30,152.39 L303.40,151.89 L303.50,151.30 L303.60,150.61 L303.70,149.78 L303.80,148.78 L303.90,147.58 L304.00,146.11 L304.10,144.30 L304.20,142.08 L304.30,139.32 L304.40,135.93 L304.50,131.81 L304.60,127.00 L304.70,121.72 L304.80,116.63 L304.90,112.79 L305.00,111.31 L305.10,112.70 L305.20,116.46 L305.30,121.46 L305.40,126.64 L305.50,131.37 L305.60,135.40 L305.70,138.70 L305.80,141.37 L305.90,143.51 L306.00,145.22 L306.10,146.60 L306.20,147.71 L306.30,148.61 L306.40,149.35 L306.50,149.94 L306.60,150.43 L306.70,150.83 L306.80,151.15 L306.90,151.41 L307.00,151.62 L307.10,151.77 L307.20,151.89 L307.30,151.97 L307.40,152.01 L307.50,152.03 L307.60,152.01 L307.70,151.96 L307.80,151.88 L307.90,151.77 L308.00,151.63 L308.10,151.45 L308.20,151.23 L308.30,150.96 L308.40,150.64 L308.50,150.25 L308.60,149.79 L308.70,149.24 L308.80,148.57 L308.90,147.75 L309.00,146.76 L309.10,145.54 L309.20,144.03 L309.30,142.17 L309.40,139.88 L309.50,137.11 L309.60,133.87 L309.70,130.32 L309.80,126.89 L309.90,124.29 L310.00,123.27 L310.10,124.16 L310.20,126.64 L310.30,129.94 L310.40,133.37 L310.50,136.48 L310.60,139.13 L310.70,141.29 L310.80,143.02 L310.90,144.40 L311.00,145.49 L311.10,146.35 L311.20,147.03 L311.30,147.56 L311.40,147.98 L311.50,148.30 L311.60,148.53 L311.70,148.70 L311.80,148.80 L311.90,148.85 L312.00,148.85 L312.10,148.79 L312.20,148.68 L312.30,148.52 L312.40,148.29 L312.50,148.00 L312.60,147.62 L312.70,147.14 L312.80,146.55 L312.90,145.80 L313.00,144.88 L313.10,143.72 L313.20,142.29 L313.30,140.55 L313.40,138.51 L313.50,136.28 L313.60,134.12 L313.70,132.48 L313.80,131.83 L313.90,132.39 L314.00,133.94 L314.10,136.01 L314.20,138.16 L314.30,140.11 L314.40,141.76 L314.50,143.11 L314.60,144.18 L314.70,145.03 L314.80,145.70 L314.90,146.21 L315.00,146.62 L315.10,146.92 L315.20,147.15 L315.30,147.31 L315.40,147.42 L315.50,147.47 L315.60,147.48 L315.70,147.44 L315.80,147.35 L315.90,147.22 L316.00,147.02 L316.10,146.77 L316.20,146.43 L316.30,146.01 L316.40,145.47 L316.50,144.79 L316.60,143.95 L316.70,142.92 L316.80,141.71 L316.90,140.38 L317.00,139.09 L317.10,138.12 L317.20,137.73 L317.30,138.06 L317.40,138.98 L317.50,140.20 L317.60,141.47 L317.70,142.63 L317.80,143.60 L317.90,144.39 L318.00,145.01 L318.10,145.50 L318.20,145.88 L318.30,146.16 L318.40,146.37 L318.50,146.52 L318.60,146.61 L318.70,146.66 L318.80,146.66 L318.90,146.61 L319.00,146.52 L319.10,146.38 L319.20,146.18 L319.30,145.90 L319.40,145.55 L319.50,145.10 L319.60,144.54 L319.70,143.87 L319.80,143.14 L319.90,142.43 L320.00,141.89 L320.10,141.68 L320.20,141.87 L320.30,142.39 L320.40,143.08 L320.50,143.80 L320.60,144.44 L320.70,144.99 L320.80,145.43 L320.90,145.78 L321.00,146.04 L321.10,146.25 L321.20,146.40 L321.30,146.50 L321.40,146.57 L321.50,146.60 L321.60,146.59 L321.70,146.56 L321.80,146.48 L321.90,146.37 L322.00,146.21 L322.10,146.00 L322.20,145.73 L322.30,145.40 L322.40,145.04 L322.50,144.69 L322.60,144.42 L322.70,144.32 L322.80,144.43 L322.90,144.69 L323.00,145.05 L323.10,145.41 L323.20,145.74 L323.30,146.02 L323.40,146.24 L323.50,146.42 L323.60,146.56 L323.70,146.66 L323.80,146.73 L323.90,146.78 L324.00,146.81 L324.10,146.82 L324.20,146.81 L324.30,146.78 L324.40,146.73 L324.50,146.65 L324.60,146.56 L324.70,146.45 L324.80,146.34 L324.90,146.26 L325.00,146.23 L325.10,146.28 L325.20,146.39 L325.30,146.52 L325.40,146.66 L325.50,146.78 L325.60,146.89 L325.70,146.98 L325.80,147.06 L325.90,147.12 L326.00,147.17 L326.10,147.21 L326.20,147.25 L326.30,147.28 L326.40,147.31 L326.50,147.33 L326.60,147.35 L326.70,147.36 L326.80,147.38 L326.90,147.39 L327.00,147.40 L327.10,147.42 L327.20,147.43 L327.30,147.45 L327.40,147.46 L327.50,147.48 L327.60,147.49 L327.70,147.51 L327.80,147.52 L327.90,147.53 L328.00,147.55 L328.10,147.56 L328.20,147.57 L328.30,147.58 L328.40,147.59 L328.50,147.60 L328.60,147.61 L328.70,147.62 L328.80,147.63 L328.90,147.64 L329.00,147.65 L329.10,147.66 L329.20,147.67 L329.30,147.68 L329.40,147.69 L329.50,147.70 L329.60,147.71 L329.70,147.72 L329.80,147.73 L329.90,147.74 L330.00,147.75 L330.10,147.76 L330.20,147.77 L330.30,147.78 L330.40,147.79 L330.50,147.80 L330.60,147.81 L330.70,147.82 L330.80,147.83 L330.90,147.84 L331.00,147.85 L331.10,147.86 L331.20,147.87 L331.30,147.88 L331.40,147.89 L331.50,147.90 L331.60,147.91 L331.70,147.92 L331.80,147.94 L331.90,147.95 L332.00,147.96 L332.10,147.97 L332.20,147.98 L332.30,147.99 L332.40,148.00 L332.50,148.01 L332.60,148.02 L332.70,148.03 L332.80,148.05 L332.90,148.06 L333.00,148.07 L333.10,148.08 L333.20,148.09 L333.30,148.10 L333.40,148.11 L333.50,148.12 L333.60,148.14 L333.70,148.15 L333.80,148.16 L333.90,148.17 L334.00,148.18 L334.10,148.19 L334.20,148.21 L334.30,148.22 L334.40,148.23 L334.50,148.24 L334.60,148.25 L334.70,148.27 L334.80,148.28 L334.90,148.29 L335.00,148.30 L335.10,148.31 L335.20,148.33 L335.30,148.34 L335.40,148.35 L335.50,148.36 L335.60,148.37 L335.70,148.39 L335.80,148.40 L335.90,148.41 L336.00,148.42 L336.10,148.44 L336.20,148.45 L336.30,148.46 L336.40,148.47 L336.50,148.49 L336.60,148.50 L336.70,148.51 L336.80,148.52 L336.90,148.54 L337.00,148.55 L337.10,148.57 L337.20,148.60 L337.30,148.62 L337.40,148.64 L337.50,148.67 L337.60,148.69 L337.70,148.71 L337.80,148.74 L337.90,148.76 L338.00,148.78 L338.10,148.81 L338.20,148.83 L338.30,148.86 L338.40,148.88 L338.50,148.90 L338.60,148.93 L338.70,148.95 L338.80,148.97 L338.90,149.00 L339.00,149.02 L339.10,149.05 L339.20,149.07 L339.30,149.09 L339.40,149.12 L339.50,149.14 L339.60,149.17 L339.70,149.19 L339.80,149.21 L339.90,149.24 L340.00,149.26 L340.10,149.29 L340.20,149.31 L340.30,149.33 L340.40,149.36 L340.50,149.38 L340.60,149.41 L340.70,149.43 L340.80,149.45 L340.90,149.48 L341.00,149.50 L341.10,149.53 L341.20,149.55 L341.30,149.57 L341.40,149.60 L341.50,149.62 L341.60,149.65 L341.70,149.67 L341.80,149.69 L341.90,149.72 L342.00,149.74 L342.10,149.77 L342.20,149.79 L342.30,149.82 L342.40,149.84 L342.50,149.86 L342.60,149.89 L342.70,149.91 L342.80,149.94 L342.90,149.96 L343.00,149.99 L343.10,150.01 L343.20,150.03 L343.30,150.06 L343.40,150.08 L343.50,150.11 L343.60,150.13 L343.70,150.16 L343.80,150.18 L343.90,150.20 L344.00,150.23 L344.10,150.25 L344.20,150.26 L344.30,150.28 L344.40,150.29 L344.50,150.31 L344.60,150.33 L344.70,150.34 L344.80,150.36 L344.90,150.38 L345.00,150.39 L345.10,150.41 L345.20,150.43 L345.30,150.44 L345.40,150.46 L345.50,150.47 L345.60,150.49 L345.70,150.51 L345.80,150.52 L345.90,150.54 L346.00,150.56 L346.10,150.57 L346.20,150.59 L346.30,150.61 L346.40,150.62 L346.50,150.64 L346.60,150.65 L346.70,150.67 L346.80,150.69 L346.90,150.70 L347.00,150.72 L347.10,150.74 L347.20,150.75 L347.30,150.77 L347.40,150.79 L347.50,150.80 L347.60,150.82 L347.70,150.84 L347.80,150.85 L347.90,150.87 L348.00,150.88 L348.10,150.90 L348.20,150.92 L348.30,150.93 L348.40,150.93 L348.50,150.93 L348.60,150.93 L348.70,150.93 L348.80,150.93 L348.90,150.92 L349.00,150.92 L349.10,150.92 L349.20,150.92 L349.30,150.92 L349.40,150.92 L349.50,150.91 L349.60,150.91 L349.70,150.91 L349.80,150.91 L349.90,150.91 L350.00,150.91 L350.10,150.90 L350.20,150.90 L350.30,150.90 L350.40,150.90 L350.50,150.90 L350.60,150.90 L350.70,150.90 L350.80,150.89 L350.90,150.89 L351.00,150.89 L351.10,150.89 L351.20,150.89 L351.30,150.89 L351.40,150.88 L351.50,150.88 L351.60,150.88 L351.70,150.88 L351.80,150.88 L351.90,150.88 L352.00,150.87 L352.10,150.87 L352.20,150.87 L352.30,150.87 L352.40,150.87 L352.50,150.87 L352.60,150.87 L352.70,150.86 L352.80,150.86 L352.90,150.86 L353.00,150.86 L353.10,150.86 L353.20,150.86 L353.30,150.85 L353.40,150.85 L353.50,150.85 L353.60,150.85 L353.70,150.85 L353.80,150.85 L353.90,150.84 L354.00,150.84 L354.10,150.84 L354.20,150.84 L354.30,150.84 L354.40,150.84 L354.50,150.83 L354.60,150.83 L354.70,150.83 L354.80,150.83 L354.90,150.83 L355.00,150.83 L355.10,150.82 L355.20,150.82 L355.30,150.82 L355.40,150.82 L355.50,150.82 L355.60,150.82 L355.70,150.82 L355.80,150.81 L355.90,150.81 L356.00,150.81 L356.10,150.81 L356.20,150.81 L356.30,150.81 L356.40,150.80 L356.50,150.80 L356.60,150.80 L356.70,150.80 L356.80,150.80 L356.90,150.80 L357.00,150.79 L357.10,150.79 L357.20,150.79 L357.30,150.79 L357.40,150.79 L357.50,150.79 L357.60,150.78 L357.70,150.78 L357.80,150.78 L357.90,150.78 L358.00,150.78 L358.10,150.78 L358.20,150.77 L358.30,150.77 L358.40,150.77 L358.50,150.77 L358.60,150.77 L358.70,150.77 L358.80,150.77 L358.90,150.76 L359.00,150.76 L359.10,150.76 L359.20,150.76 L359.30,150.76 L359.40,150.76 L359.50,150.75 L359.60,150.75 L359.70,150.75 L359.80,150.75 L359.90,150.75 L360.00,150.75 L360.10,150.74 L360.20,150.74 L360.30,150.74 L360.40,150.74 L360.50,150.74 L360.60,150.74 L360.70,150.73 L360.80,150.73 L360.90,150.73 L361.00,150.73 L361.10,150.73 L361.20,150.73 L361.30,150.72 L361.40,150.72 L361.50,150.72 L361.60,150.72 L361.70,150.72 L361.80,150.72 L361.90,150.71 L362.00,150.71 L362.10,150.71 L362.20,150.71 L362.30,150.71 L362.40,150.71 L362.50,150.70 L362.60,150.70 L362.70,150.70 L362.80,150.70 L362.90,150.70 L363.00,150.70 L363.10,150.69 L363.20,150.69 L363.30,150.69 L363.40,150.69 L363.50,150.69 L363.60,150.69 L363.70,150.69 L363.80,150.68 L363.90,150.68 L364.00,150.68 L364.10,150.68 L364.20,150.68 L364.30,150.68 L364.40,150.67 L364.50,150.67 L364.60,150.67 L364.70,150.67 L364.80,150.67 L364.90,150.67 L365.00,150.66 L365.10,150.66 L365.20,150.66 L365.30,150.66 L365.40,150.65 L365.50,150.64 L365.60,150.63 L365.70,150.62 L365.80,150.61 L365.90,150.60 L366.00,150.59 L366.10,150.58 L366.20,150.57 L366.30,150.56 L366.40,150.55 L366.50,150.54 L366.60,150.53 L366.70,150.52 L366.80,150.51 L366.90,150.50 L367.00,150.49 L367.10,150.48 L367.20,150.47 L367.30,150.46 L367.40,150.45 L367.50,150.44 L367.60,150.43 L367.70,150.42 L367.80,150.41 L367.90,150.40 L368.00,150.39 L368.10,150.38 L368.20,150.37 L368.30,150.36 L368.40,150.35 L368.50,150.34 L368.60,150.33 L368.70,150.32 L368.80,150.31 L368.90,150.30 L369.00,150.29 L369.10,150.28 L369.20,150.27 L369.30,150.26 L369.40,150.25 L369.50,150.24 L369.60,150.23 L369.70,150.22 L369.80,150.21 L369.90,150.20 L370.00,150.19 L370.10,150.18 L370.20,150.17 L370.30,150.16 L370.40,150.15 L370.50,150.14 L370.60,150.13 L370.70,150.12 L370.80,150.11 L370.90,150.10 L371.00,150.09 L371.10,150.08 L371.20,150.07 L371.30,150.06 L371.40,150.05 L371.50,150.04 L371.60,150.03 L371.70,150.03 L371.80,150.02 L371.90,150.01 L372.00,150.00 L372.10,149.99 L372.20,149.98 L372.30,149.97 L372.40,149.96 L372.50,149.96 L372.60,149.96 L372.70,149.96 L372.80,149.96 L372.90,149.95 L373.00,149.95 L373.10,149.95 L373.20,149.95 L373.30,149.95 L373.40,149.94 L373.50,149.94 L373.60,149.94 L373.70,149.94 L373.80,149.93 L373.90,149.93 L374.00,149.93 L374.10,149.93 L374.20,149.93 L374.30,149.92 L374.40,149.92 L374.50,149.92 L374.60,149.92 L374.70,149.92 L374.80,149.91 L374.90,149.91 L375.00,149.91 L375.10,149.91 L375.20,149.91 L375.30,149.90 L375.40,149.90 L375.50,149.90 L375.60,149.90 L375.70,149.90 L375.80,149.89 L375.90,149.89 L376.00,149.89 L376.10,149.89 L376.20,149.89 L376.30,149.88 L376.40,149.88 L376.50,149.88 L376.60,149.88 L376.70,149.88 L376.80,149.87 L376.90,149.87 L377.00,149.87 L377.10,149.87 L377.20,149.87 L377.30,149.86 L377.40,149.86 L377.50,149.86 L377.60,149.86 L377.70,149.85 L377.80,149.85 L377.90,149.85 L378.00,149.85 L378.10,149.85 L378.20,149.84 L378.30,149.84 L378.40,149.84 L378.50,149.84 L378.60,149.84 L378.70,149.83 L378.80,149.83 L378.90,149.83 L379.00,149.83 L379.10,149.83 L379.20,149.82 L379.30,149.82 L379.40,149.82 L379.50,149.82 L379.60,149.82 L379.70,149.81 L379.80,149.81 L379.90,149.81 L380.00,149.81 L380.10,149.81 L380.20,149.80 L380.30,149.80 L380.40,149.80 L380.50,149.80 L380.60,149.80 L380.70,149.79 L380.80,149.79 L380.90,149.79 L381.00,149.79 L381.10,149.78 L381.20,149.78 L381.30,149.78 L381.40,149.78 L381.50,149.78 L381.60,149.77 L381.70,149.77 L381.80,149.77 L381.90,149.77 L382.00,149.77 L382.10,149.76 L382.20,149.76 L382.30,149.76 L382.40,149.76 L382.50,149.76 L382.60,149.75 L382.70,149.75 L382.80,149.75 L382.90,149.75 L383.00,149.75 L383.10,149.74 L383.20,149.74 L383.30,149.74 L383.40,149.74 L383.50,149.74 L383.60,149.73 L383.70,149.73 L383.80,149.73 L383.90,149.73 L384.00,149.72 L384.10,149.72 L384.20,149.72 L384.30,149.72 L384.40,149.72 L384.50,149.71 L384.60,149.71 L384.70,149.71 L384.80,149.71 L384.90,149.71 L385.00,149.70 L385.10,149.70 L385.20,149.70 L385.30,149.70 L385.40,149.70 L385.50,149.69 L385.60,149.69 L385.70,149.69 L385.80,149.69 L385.90,149.69 L386.00,149.68 L386.10,149.68 L386.20,149.68 L386.30,149.68 L386.40,149.67 L386.50,149.67 L386.60,149.67 L386.70,149.67 L386.80,149.66 L386.90,149.66 L387.00,149.66 L387.10,149.65 L387.20,149.65 L387.30,149.65 L387.40,149.65 L387.50,149.64 L387.60,149.64 L387.70,149.64 L387.80,149.63 L387.90,149.63 L388.00,149.63 L388.10,149.63 L388.20,149.62 L388.30,149.62 L388.40,149.62 L388.50,149.61 L388.60,149.61 L388.70,149.61 L388.80,149.61 L388.90,149.60 L389.00,149.60 L389.10,149.60 L389.20,149.59 L389.30,149.59 L389.40,149.59 L389.50,149.59 L389.60,149.58 L389.70,149.58 L389.80,149.58 L389.90,149.57 L390.00,149.57 L390.10,149.57 L390.20,149.57 L390.30,149.56 L390.40,149.56 L390.50,149.56 L390.60,149.55 L390.70,149.55 L390.80,149.55 L390.90,149.54 L391.00,149.54 L391.10,149.54 L391.20,149.54 L391.30,149.53 L391.40,149.53 L391.50,149.53 L391.60,149.52 L391.70,149.52 L391.80,149.52 L391.90,149.52 L392.00,149.51 L392.10,149.51 L392.20,149.51 L392.30,149.50 L392.40,149.50 L392.50,149.50 L392.60,149.50 L392.70,149.49 L392.80,149.49 L392.90,149.49 L393.00,149.48 L393.10,149.48 L393.20,149.48 L393.30,149.48 L393.40,149.47 L393.50,149.47 L393.60,149.47 L393.70,149.46 L393.80,149.46 L393.90,149.46 L394.00,149.45 L394.10,149.45 L394.20,149.45 L394.30,149.45 L394.40,149.44 L394.50,149.44 L394.60,149.44 L394.70,149.43 L394.80,149.43 L394.90,149.43 L395.00,149.43 L395.10,149.42 L395.20,149.42 L395.30,149.42 L395.40,149.41 L395.50,149.41 L395.60,149.41 L395.70,149.41 L395.80,149.40 L395.90,149.40 L396.00,149.40 L396.10,149.39 L396.20,149.39 L396.30,149.39 L396.40,149.39 L396.50,149.38 L396.60,149.38 L396.70,149.38 L396.80,149.37 L396.90,149.37 L397.00,149.37 L397.10,149.37 L397.20,149.36 L397.30,149.36 L397.40,149.36 L397.50,149.35 L397.60,149.35 L397.70,149.35 L397.80,149.34 L397.90,149.34 L398.00,149.34 L398.10,149.34 L398.20,149.33 L398.30,149.33 L398.40,149.33 L398.50,149.32 L398.60,149.32 L398.70,149.32 L398.80,149.32 L398.90,149.31 L399.00,149.31 L399.10,149.31 L399.20,149.30 L399.30,149.30 L399.40,149.30 L399.50,149.30 L399.60,149.29 L399.70,149.29 L399.80,149.29 L399.90,149.28 L400.00,149.28 L400.10,149.28 L400.20,149.28 L400.30,149.28 L400.40,149.27 L400.50,149.27 L400.60,149.27 L400.70,149.27 L400.80,149.27 L400.90,149.27 L401.00,149.26 L401.10,149.26 L401.20,149.26 L401.30,149.26 L401.40,149.26 L401.50,149.25 L401.60,149.25 L401.70,149.25 L401.80,149.25 L401.90,149.25 L402.00,149.25 L402.10,149.24 L402.20,149.24 L402.30,149.24 L402.40,149.24 L402.50,149.24 L402.60,149.24 L402.70,149.23 L402.80,149.23 L402.90,149.23 L403.00,149.23 L403.10,149.23 L403.20,149.23 L403.30,149.22 L403.40,149.22 L403.50,149.22 L403.60,149.22 L403.70,149.22 L403.80,149.21 L403.90,149.21 L404.00,149.21 L404.10,149.21 L404.20,149.21 L404.30,149.21 L404.40,149.20 L404.50,149.20 L404.60,149.20 L404.70,149.20 L404.80,149.20 L404.90,149.20 L405.00,149.19 L405.10,149.19 L405.20,149.19 L405.30,149.19 L405.40,149.19 L405.50,149.19 L405.60,149.18 L405.70,149.18 L405.80,149.18 L405.90,149.18 L406.00,149.18 L406.10,149.18 L406.20,149.17 L406.30,149.17 L406.40,149.17 L406.50,149.17 L406.60,149.17 L406.70,149.16 L406.80,149.16 L406.90,149.16 L407.00,149.16 L407.10,149.16 L407.20,149.16 L407.30,149.15 L407.40,149.15 L407.50,149.15 L407.60,149.15 L407.70,149.15 L407.80,149.15 L407.90,149.14 L408.00,149.14 L408.10,149.14 L408.20,149.14 L408.30,149.14 L408.40,149.14 L408.50,149.13 L408.60,149.13 L408.70,149.13 L408.80,149.13 L408.90,149.13 L409.00,149.12 L409.10,149.12 L409.20,149.12 L409.30,149.12 L409.40,149.12 L409.50,149.12 L409.60,149.11 L409.70,149.11 L409.80,149.11 L409.90,149.11 L410.00,149.11 L410.10,149.11 L410.20,149.10 L410.30,149.10 L410.40,149.10 L410.50,149.10 L410.60,149.10 L410.70,149.10 L410.80,149.09 L410.90,149.09 L411.00,149.09 L411.10,149.09 L411.20,149.09 L411.30,149.08 L411.40,149.08 L411.50,149.08 L411.60,149.08 L411.70,149.08 L411.80,149.08 L411.90,149.07 L412.00,149.07 L412.10,149.07 L412.20,149.07 L412.30,149.07 L412.40,149.07 L412.50,149.06 L412.60,149.06 L412.70,149.06 L412.80,149.06 L412.90,149.06 L413.00,149.06 L413.10,149.05 L413.20,149.05 L413.30,149.05 L413.40,149.05 L413.50,149.05 L413.60,149.04 L413.70,149.04 L413.80,149.04 L413.90,149.04 L414.00,149.04 L414.10,149.04 L414.20,149.03 L414.30,149.03 L414.40,149.03 L414.50,149.03 L414.60,149.03 L414.70,149.03 L414.80,149.02 L414.90,149.02 L415.00,149.02 L415.10,149.02 L415.20,149.02 L415.30,149.02 L415.40,149.01 L415.50,149.01 L415.60,149.01 L415.70,149.01 L415.80,149.01 L415.90,149.00 L416.00,149.00 L416.10,149.00 L416.20,149.00 L416.30,149.00 L416.40,149.00 L416.50,148.99 L416.60,148.99 L416.70,148.99 L416.80,148.99 L416.90,148.99 L417.00,148.99 L417.10,148.98 L417.20,148.98 L417.30,148.98 L417.40,148.98 L417.50,148.98 L417.60,148.98 L417.70,148.97 L417.80,148.97 L417.90,148.97 L418.00,148.97 L418.10,148.97 L418.20,148.96 L418.30,148.96 L418.40,148.96 L418.50,148.96 L418.60,148.96 L418.70,148.96 L418.80,148.95 L418.90,148.95 L419.00,148.95 L419.10,148.95 L419.20,148.95 L419.30,148.95 L419.40,148.94 L419.50,148.94 L419.60,148.94 L419.70,148.94 L419.80,148.94 L419.90,148.94 L420.00,148.93 L420.10,148.93 L420.20,148.93 L420.30,148.93 L420.40,148.93 L420.50,148.92 L420.60,148.92 L420.70,148.92 L420.80,148.92 L420.90,148.92 L421.00,148.92 L421.10,148.91 L421.20,148.91 L421.30,148.91 L421.40,148.91 L421.50,148.91 L421.60,148.91 L421.70,148.90 L421.80,148.90 L421.90,148.90 L422.00,148.90 L422.10,148.90 L422.20,148.90 L422.30,148.89 L422.40,148.89 L422.50,148.89 L422.60,148.89 L422.70,148.89 L422.80,148.88 L422.90,148.88 L423.00,148.88 L423.10,148.88 L423.20,148.88 L423.30,148.88 L423.40,148.87 L423.50,148.87 L423.60,148.87 L423.70,148.87 L423.80,148.87 L423.90,148.87 L424.00,148.86 L424.10,148.86 L424.20,148.86 L424.30,148.86 L424.40,148.86 L424.50,148.85 L424.60,148.85 L424.70,148.85 L424.80,148.85 L424.90,148.85 L425.00,148.85 L425.10,148.84 L425.20,148.84 L425.30,148.84 L425.40,148.84 L425.50,148.84 L425.60,148.84 L425.70,148.83 L425.80,148.83 L425.90,148.83 L426.00,148.83 L426.10,148.83 L426.20,148.83 L426.30,148.82 L426.40,148.82 L426.50,148.82 L426.60,148.82 L426.70,148.82 L426.80,148.81 L426.90,148.81 L427.00,148.81 L427.10,148.81 L427.20,148.81 L427.30,148.81 L427.40,148.80 L427.50,148.80 L427.60,148.80 L427.70,148.80 L427.80,148.80 L427.90,148.80 L428.00,148.79 L428.10,148.79 L428.20,148.79 L428.30,148.79 L428.40,148.79 L428.50,148.79 L428.60,148.78 L428.70,148.78 L428.80,148.78 L428.90,148.78 L429.00,148.78 L429.10,148.77 L429.20,148.77 L429.30,148.77 L429.40,148.77 L429.50,148.77 L429.60,148.77 L429.70,148.76 L429.80,148.76 L429.90,148.76 L430.00,148.76 L430.10,148.76 L430.20,148.76 L430.30,148.75 L430.40,148.75 L430.50,148.75 L430.60,148.75 L430.70,148.75 L430.80,148.74 L430.90,148.74 L431.00,148.74 L431.10,148.74 L431.20,148.74 L431.30,148.74 L431.40,148.73 L431.50,148.73 L431.60,148.73 L431.70,148.73 L431.80,148.73 L431.90,148.73 L432.00,148.72 L432.10,148.72 L432.20,148.72 L432.30,148.72 L432.40,148.72 L432.50,148.72 L432.60,148.71 L432.70,148.71 L432.80,148.71 L432.90,148.71 L433.00,148.71 L433.10,148.70 L433.20,148.70 L433.30,148.70 L433.40,148.70 L433.50,148.70 L433.60,148.70 L433.70,148.69 L433.80,148.69 L433.90,148.69 L434.00,148.69 L434.10,148.69 L434.20,148.69 L434.30,148.68 L434.40,148.68 L434.50,148.68 L434.60,148.68 L434.70,148.68 L434.80,148.68 L434.90,148.67 L435.00,148.67 L435.10,148.67 L435.20,148.67 L435.30,148.67 L435.40,148.66 L435.50,148.66 L435.60,148.66 L435.70,148.66 L435.80,148.66 L435.90,148.66 L436.00,148.65 L436.10,148.65 L436.20,148.65 L436.30,148.65 L436.40,148.65 L436.50,148.65 L436.60,148.64 L436.70,148.64 L436.80,148.64 L436.90,148.64 L437.00,148.64 L437.10,148.63 L437.20,148.63 L437.30,148.63 L437.40,148.63 L437.50,148.63 L437.60,148.63 L437.70,148.62 L437.80,148.62 L437.90,148.62 L438.00,148.62 L438.10,148.62 L438.20,148.62 L438.30,148.61 L438.40,148.61 L438.50,148.61 L438.60,148.61 L438.70,148.61 L438.80,148.61 L438.90,148.60 L439.00,148.60 L439.10,148.60 L439.20,148.60 L439.30,148.60 L439.40,148.59 L439.50,148.59 L439.60,148.59 L439.70,148.59 L439.80,148.59 L439.90,148.59 L440.00,148.58 L440.10,148.58 L440.20,148.58 L440.30,148.58 L440.40,148.58 L440.50,148.58 L440.60,148.57 L440.70,148.57 L440.80,148.57 L440.90,148.57 L441.00,148.57 L441.10,148.56 L441.20,148.56 L441.30,148.56 L441.40,148.56 L441.50,148.56 L441.60,148.56 L441.70,148.55 L441.80,148.55 L441.90,148.55 L442.00,148.55 L442.10,148.55 L442.20,148.55 L442.30,148.54 L442.40,148.54 L442.50,148.54 L442.60,148.54 L442.70,148.54 L442.80,148.54 L442.90,148.53 L443.00,148.53 L443.10,148.53 L443.20,148.53 L443.30,148.53 L443.40,148.52 L443.50,148.52 L443.60,148.52 L443.70,148.52 L443.80,148.52 L443.90,148.52 L444.00,148.51 L444.10,148.51 L444.20,148.51 L444.30,148.51 L444.40,148.51 L444.50,148.51 L444.60,148.50 L444.70,148.50 L444.80,148.50 L444.90,148.50 L445.00,148.50 L445.10,148.49 L445.20,148.49 L445.30,148.49 L445.40,148.49 L445.50,148.49 L445.60,148.49 L445.70,148.48 L445.80,148.48 L445.90,148.48 L446.00,148.48 L446.10,148.48 L446.20,148.48 L446.30,148.47 L446.40,148.47 L446.50,148.47 L446.60,148.47 L446.70,148.47 L446.80,148.47 L446.90,148.46 L447.00,148.46 L447.10,148.46 L447.20,148.46 L447.30,148.46 L447.40,148.45 L447.50,148.45 L447.60,148.45 L447.70,148.45 L447.80,148.45 L447.90,148.45 L448.00,148.44 L448.10,148.44 L448.20,148.44 L448.30,148.44 L448.40,148.44 L448.50,148.44 L448.60,148.43 L448.70,148.43 L448.80,148.43 L448.90,148.43 L449.00,148.43 L449.10,148.42 L449.20,148.42 L449.30,148.42 L449.40,148.42 L449.50,148.42 L449.60,148.42 L449.70,148.41 L449.80,148.41 L449.90,148.41 L450.00,148.41 L450.10,148.41 L450.20,148.41 L450.30,148.40 L450.40,148.40 L450.50,148.40 L450.60,148.40 L450.70,148.40 L450.80,148.39 L450.90,148.39 L451.00,148.39 L451.10,148.39 L451.20,148.39 L451.30,148.39 L451.40,148.38 L451.50,148.38 L451.60,148.38 L451.70,148.38 L451.80,148.38 L451.90,148.38 L452.00,148.37 L452.10,148.37 L452.20,148.37 L452.30,148.37 L452.40,148.37 L452.50,148.37 L452.60,148.36 L452.70,148.36 L452.80,148.36 L452.90,148.36 L453.00,148.36 L453.10,148.35 L453.20,148.35 L453.30,148.35 L453.40,148.35 L453.50,148.35 L453.60,148.35 L453.70,148.34 L453.80,148.34 L453.90,148.34 L454.00,148.34 L454.10,148.34 L454.20,148.34 L454.30,148.33 L454.40,148.33 L454.50,148.33 L454.60,148.33 L454.70,148.33 L454.80,148.32 L454.90,148.32 L455.00,148.32 L455.10,148.32 L455.20,148.32 L455.30,148.32 L455.40,148.31 L455.50,148.31 L455.60,148.31 L455.70,148.31 L455.80,148.31 L455.90,148.31 L456.00,148.30 L456.10,148.30 L456.20,148.30 L456.30,148.30 L456.40,148.30 L456.50,148.29 L456.60,148.29 L456.70,148.29" stroke="#999" stroke-dasharray="1 1" stroke-width="1"/>
<path d="M243.50,159.48 L243.60,159.47 L243.70,159.45 L243.80,159.44 L243.90,159.43 L244.00,159.41 L244.10,159.40 L244.20,159.38 L244.30,159.37 L244.40,159.35 L244.50,159.34 L244.60,159.32 L244.70,159.30 L244.80,159.29 L244.90,159.27 L245.00,159.25 L245.10,159.23 L245.20,159.21 L245.30,159.19 L245.40,159.17 L245.50,159.15 L245.60,159.13 L245.70,159.10 L245.80,159.08 L245.90,159.05 L246.00,159.03 L246.10,159.00 L246.20,158.98 L246.30,158.95 L246.40,158.92 L246.50,158.89 L246.60,158.85 L246.70,158.82 L246.80,158.79 L246.90,158.75 L247.00,158.72 L247.10,158.68 L247.20,158.64 L247.30,158.60 L247.40,158.55 L247.50,158.51 L247.60,158.46 L247.70,158.41 L247.80,158.36 L247.90,158.30 L248.00,158.25 L248.10,158.19 L248.20,158.13 L248.30,158.06 L248.40,157.99 L248.50,157.92 L248.60,157.85 L248.70,157.77 L248.80,157.69 L248.90,157.60 L249.00,157.51 L249.10,157.41 L249.20,157.31 L249.30,157.20 L249.40,157.08 L249.50,156.96 L249.60,156.83 L249.70,156.69 L249.80,156.54 L249.90,156.39 L250.00,156.22 L250.10,156.04 L250.20,155.85 L250.30,155.64 L250.40,155.42 L250.50,155.18 L250.60,154.93 L250.70,154.65 L250.80,154.35 L250.90,154.03 L251.00,153.68 L251.10,153.29 L251.20,152.87 L251.30,152.41 L251.40,151.91 L251.50,151.35 L251.60,150.73 L251.70,150.05 L251.80,149.29 L251.90,148.44 L252.00,147.49 L252.10,146.42 L252.20,145.20 L252.30,143.81 L252.40,142.23 L252.50,140.39 L252.60,138.27 L252.70,135.78 L252.80,132.85 L252.90,129.36 L253.00,125.16 L253.10,120.06 L253.20,113.77 L253.30,105.91 L253.40,95.93 L253.50,83.01 L253.60,65.95 L253.70,42.89 L253.80,15.17 L253.90,15.17 L254.00,15.17 L254.10,15.17 L254.20,15.17 L254.30,15.17 L254.40,15.17 L254.50,15.17 L254.60,15.17 L254.70,15.17 L254.80,15.17 L254.90,15.17 L255.00,15.17 L255.10,15.17 L255.20,42.86 L255.30,65.92 L255.40,82.97 L255.50,95.89 L255.60,105.86 L255.70,113.72 L255.80,120.00 L255.90,125.10 L256.00,129.30 L256.10,132.78 L256.20,135.71 L256.30,138.19 L256.40,140.31 L256.50,142.14 L256.60,143.73 L256.70,145.11 L256.80,146.32 L256.90,147.39 L257.00,148.34 L257.10,149.18 L257.20,149.94 L257.30,150.62 L257.40,151.23 L257.50,151.78 L257.60,152.28 L257.70,152.73 L257.80,153.15 L257.90,153.53 L258.00,153.88 L258.10,154.20 L258.20,154.49 L258.30,154.76 L258.40,155.01 L258.50,155.25 L258.60,155.46 L258.70,155.66 L258.80,155.85 L258.90,156.02 L259.00,156.18 L259.10,156.34 L259.20,156.48 L259.30,156.61 L259.40,156.74 L259.50,156.85 L259.60,156.96 L259.70,157.07 L259.80,157.16 L259.90,157.25 L260.00,157.34 L260.10,157.42 L260.20,157.50 L260.30,157.57 L260.40,157.64 L260.50,157.71 L260.60,157.77 L260.70,157.83 L260.80,157.88 L260.90,157.93 L261.00,157.98 L261.10,158.03 L261.20,158.07 L261.30,158.11 L261.40,158.15 L261.50,158.19 L261.60,158.23 L261.70,158.26 L261.80,158.29 L261.90,158.32 L262.00,158.35 L262.10,158.38 L262.20,158.40 L262.30,158.43 L262.40,158.45 L262.50,158.47 L262.60,158.49 L262.70,158.51 L262.80,158.53 L262.90,158.54 L263.00,158.56 L263.10,158.57 L263.20,158.59 L263.30,158.60 L263.40,158.61 L263.50,158.62 L263.60,158.63 L263.70,158.63 L263.80,158.64 L263.90,158.65 L264.00,158.65 L264.10,158.66 L264.20,158.66 L264.30,158.66 L264.40,158.66 L264.50,158.66 L264.60,158.66 L264.70,158.66 L264.80,158.66 L264.90,158.66 L265.00,158.65 L265.10,158.65 L265.20,158.64 L265.30,158.64 L265.40,158.63 L265.50,158.62 L265.60,158.61 L265.70,158.60 L265.80,158.59 L265.90,158.57 L266.00,158.56 L266.10,158.54 L266.20,158.53 L266.30,158.51 L266.40,158.49 L266.50,158.47 L266.60,158.45 L266.70,158.43 L266.80,158.40 L266.90,158.38 L267.00,158.35 L267.10,158.32 L267.20,158.29 L267.30,158.25 L267.40,158.22 L267.50,158.18 L267.60,158.14 L267.70,158.10 L267.80,158.06 L267.90,158.01 L268.00,157.96 L268.10,157.91 L268.20,157.85 L268.30,157.79 L268.40,157.73 L268.50,157.67 L268.60,157.60 L268.70,157.52 L268.80,157.44 L268.90,157.36 L269.00,157.27 L269.10,157.17 L269.20,157.07 L269.30,156.96 L269.40,156.84 L269.50,156.72 L269.60,156.59 L269.70,156.44 L269.80,156.29 L269.90,156.12 L270.00,155.94 L270.10,155.75 L270.20,155.54 L270.30,155.31 L270.40,155.07 L270.50,154.80 L270.60,154.51 L270.70,154.19 L270.80,153.84 L270.90,153.46 L271.00,153.03 L271.10,152.56 L271.20,152.04 L271.30,151.46 L271.40,150.82 L271.50,150.09 L271.60,149.27 L271.70,148.34 L271.80,147.28 L271.90,146.07 L272.00,144.67 L272.10,143.05 L272.20,141.15 L272.30,138.91 L272.40,136.24 L272.50,133.03 L272.60,129.13 L272.70,124.32 L272.80,118.32 L272.90,110.69 L273.00,100.81 L273.10,87.77 L273.20,70.15 L273.30,45.69 L273.40,28.12 L273.50,16.44 L273.60,15.17 L273.70,15.17 L273.80,15.17 L273.90,15.17 L274.00,15.17 L274.10,15.17 L274.20,15.17 L274.30,15.17 L274.40,16.40 L274.50,28.07 L274.60,45.66 L274.70,70.10 L274.80,87.73 L274.90,100.76 L275.00,110.63 L275.10,118.25 L275.20,124.26 L275.30,129.06 L275.40,132.95 L275.50,136.15 L275.60,138.82 L275.70,141.05 L275.80,142.94 L275.90,144.56 L276.00,145.95 L276.10,147.16 L276.20,148.21 L276.30,149.14 L276.40,149.95 L276.50,150.67 L276.60,151.31 L276.70,151.89 L276.80,152.40 L276.90,152.86 L277.00,153.28 L277.10,153.65 L277.20,154.00 L277.30,154.31 L277.40,154.59 L277.50,154.85 L277.60,155.09 L277.70,155.31 L277.80,155.51 L277.90,155.69 L278.00,155.86 L278.10,156.02 L278.20,156.17 L278.30,156.30 L278.40,156.43 L278.50,156.54 L278.60,156.65 L278.70,156.75 L278.80,156.84 L278.90,156.92 L279.00,157.00 L279.10,157.07 L279.20,157.14 L279.30,157.20 L279.40,157.26 L279.50,157.32 L279.60,157.36 L279.70,157.41 L279.80,157.45 L279.90,157.49 L280.00,157.52 L280.10,157.55 L280.20,157.58 L280.30,157.61 L280.40,157.63 L280.50,157.65 L280.60,157.67 L280.70,157.68 L280.80,157.69 L280.90,157.70 L281.00,157.71 L281.10,157.71 L281.20,157.71 L281.30,157.71 L281.40,157.71 L281.50,157.70 L281.60,157.69 L281.70,157.68 L281.80,157.67 L281.90,157.65 L282.00,157.63 L282.10,157.61 L282.20,157.59 L282.30,157.56 L282.40,157.53 L282.50,157.50 L282.60,157.47 L282.70,157.43 L282.80,157.39 L282.90,157.34 L283.00,157.30 L283.10,157.24 L283.20,157.19 L283.30,157.13 L283.40,157.07 L283.50,157.00 L283.60,156.92 L283.70,156.84 L283.80,156.76 L283.90,156.67 L284.00,156.57 L284.10,156.47 L284.20,156.36 L284.30,156.24 L284.40,156.12 L284.50,155.98 L284.60,155.84 L284.70,155.68 L284.80,155.51 L284.90,155.33 L285.00,155.14 L285.10,154.93 L285.20,154.70 L285.30,154.46 L285.40,154.20 L285.50,153.91 L285.60,153.60 L285.70,153.26 L285.80,152.90 L285.90,152.50 L286.00,152.06 L286.10,151.58 L286.20,151.05 L286.30,150.46 L286.40,149.82 L286.50,149.10 L286.60,148.31 L286.70,147.42 L286.80,146.43 L286.90,145.32 L287.00,144.07 L287.10,142.65 L287.20,141.04 L287.30,139.21 L287.40,137.12 L287.50,134.72 L287.60,131.95 L287.70,128.76 L287.80,125.06 L287.90,120.78 L288.00,115.82 L288.10,110.09 L288.20,103.53 L288.30,96.09 L288.40,87.85 L288.50,78.99 L288.60,69.93 L288.70,61.34 L288.80,54.12 L288.90,49.25 L289.00,47.52 L289.10,49.24 L289.20,54.10 L289.30,61.31 L289.40,69.90 L289.50,78.95 L289.60,87.80 L289.70,96.04 L289.80,103.46 L289.90,110.02 L290.00,115.73 L290.10,120.69 L290.20,124.96 L290.30,128.65 L290.40,131.83 L290.50,134.59 L290.60,136.98 L290.70,139.07 L290.80,140.89 L290.90,142.48 L291.00,143.89 L291.10,145.13 L291.20,146.23 L291.30,147.21 L291.40,148.09 L291.50,148.87 L291.60,149.57 L291.70,150.20 L291.80,150.78 L291.90,151.29 L292.00,151.76 L292.10,152.18 L292.20,152.57 L292.30,152.92 L292.40,153.24 L292.50,153.54 L292.60,153.81 L292.70,154.05 L292.80,154.28 L292.90,154.48 L293.00,154.67 L293.10,154.84 L293.20,155.00 L293.30,155.14 L293.40,155.27 L293.50,155.39 L293.60,155.50 L293.70,155.59 L293.80,155.68 L293.90,155.76 L294.00,155.82 L294.10,155.88 L294.20,155.93 L294.30,155.97 L294.40,156.01 L294.50,156.03 L294.60,156.04 L294.70,156.05 L294.80,156.05 L294.90,156.04 L295.00,156.02 L295.10,155.99 L295.20,155.94 L295.30,155.89 L295.40,155.83 L295.50,155.75 L295.60,155.66 L295.70,155.55 L295.80,155.42 L295.90,155.28 L296.00,155.11 L296.10,154.91 L296.20,154.69 L296.30,154.43 L296.40,154.14 L296.50,153.80 L296.60,153.40 L296.70,152.94 L296.80,152.40 L296.90,151.77 L297.00,151.03 L297.10,150.14 L297.20,149.09 L297.30,147.81 L297.40,146.26 L297.50,144.37 L297.60,142.04 L297.70,139.15 L297.80,135.58 L297.90,131.17 L298.00,125.82 L298.10,119.55 L298.20,112.69 L298.30,106.06 L298.40,101.07 L298.50,99.17 L298.60,101.04 L298.70,106.02 L298.80,112.62 L298.90,119.47 L299.00,125.72 L299.10,131.05 L299.20,135.43 L299.30,138.98 L299.40,141.85 L299.50,144.15 L299.60,146.03 L299.70,147.55 L299.80,148.80 L299.90,149.84 L300.00,150.70 L300.10,151.42 L300.20,152.02 L300.30,152.54 L300.40,152.97 L300.50,153.34 L300.60,153.65 L300.70,153.92 L300.80,154.15 L300.90,154.34 L301.00,154.50 L301.10,154.63 L301.20,154.74 L301.30,154.83 L301.40,154.90 L301.50,154.95 L301.60,154.98 L301.70,154.99 L301.80,154.99 L301.90,154.97 L302.00,154.94 L302.10,154.89 L302.20,154.82 L302.30,154.74 L302.40,154.63 L302.50,154.51 L302.60,154.36 L302.70,154.19 L302.80,153.99 L302.90,153.76 L303.00,153.49 L303.10,153.17 L303.20,152.81 L303.30,152.39 L303.40,151.89 L303.50,151.30 L303.60,150.61 L303.70,149.78 L303.80,148.78 L303.90,147.58 L304.00,146.11 L304.10,144.30 L304.20,142.08 L304.30,139.32 L304.40,135.93 L304.50,131.81 L304.60,127.00 L304.70,121.72 L304.80,116.63 L304.90,112.79 L305.00,111.31 L305.10,112.70 L305.20,116.46 L305.30,121.46 L305.40,126.64 L305.50,131.37 L305.60,135.40 L305.70,138.70 L305.80,141.37 L305.90,143.51 L306.00,145.22 L306.10,146.60 L306.20,147.71 L306.30,148.61 L306.40,149.35 L306.50,149.94 L306.60,150.43 L306.70,150.83 L306.80,151.15 L306.90,151.41 L307.00,151.62 L307.10,151.77 L307.20,151.89 L307.30,151.97 L307.40,152.01 L307.50,152.03 L307.60,152.01 L307.70,151.96 L307.80,151.88 L307.90,151.77 L308.00,151.63 L308.10,151.45 L308.20,151.23 L308.30,150.96 L308.40,150.64 L308.50,150.25 L308.60,149.79 L308.70,149.24 L308.80,148.57 L308.90,147.75 L309.00,146.76 L309.10,145.54 L309.20,144.03 L309.30,142.17 L309.40,139.88 L309.50,137.11 L309.60,133.87 L309.70,130.32 L309.80,126.89 L309.90,124.29 L310.00,123.27 L310.10,124.16 L310.20,126.64 L310.30,129.94 L310.40,133.37 L310.50,136.48 L310.60,139.13 L310.70,141.29 L310.80,143.02 L310.90,144.40 L311.00,145.49 L311.10,146.35 L311.20,147.03 L311.30,147.56 L311.40,147.98 L311.50,148.30 L311.60,148.53 L311.70,148.70 L311.80,148.80 L311.90,148.85 L312.00,148.85 L312.10,148.79 L312.20,148.68 L312.30,148.52 L312.40,148.29 L312.50,148.00 L312.60,147.62 L312.70,147.14 L312.80,146.55 L312.90,145.80 L313.00,144.88 L313.10,143.72 L313.20,142.29 L313.30,140.55 L313.40,138.51 L313.50,136.28 L313.60,134.12 L313.70,132.48 L313.80,131.83 L313.90,132.39 L314.00,133.94 L314.10,136.01 L314.20,138.16 L314.30,140.11 L314.40,141.76 L314.50,143.11 L314.60,144.18 L314.70,145.03 L314.80,145.70 L314.90,146.21 L315.00,146.62 L315.10,146.92 L315.20,147.15 L315.30,147.31 L315.40,147.42 L315.50,147.47 L315.60,147.48 L315.70,147.44 L315.80,147.35 L315.90,147.22 L316.00,147.02 L316.10,146.77 L316.20,146.43 L316.30,146.01 L316.40,145.47 L316.50,144.79 L316.60,143.95 L316.70,142.92 L316.80,141.71 L316.90,140.38 L317.00,139.09 L317.10,138.12 L317.20,137.73 L317.30,138.06 L317.40,138.98 L317.50,140.20 L317.60,141.47 L317.70,142.63 L317.80,143.60 L317.90,144.39 L318.00,145.01 L318.10,145.50 L318.20,145.88 L318.30,146.16 L318.40,146.37 L318.50,146.52 L318.60,146.61 L318.70,146.66 L318.80,146.66 L318.90,146.61 L319.00,146.52 L319.10,146.38 L319.20,146.18 L319.30,145.90 L319.40,145.55 L319.50,145.10 L319.60,144.54 L319.70,143.87 L319.80,143.14 L319.90,142.43 L320.00,141.89 L320.10,141.68 L320.20,141.87 L320.30,142.39 L320.40,143.08 L320.50,143.80 L320.60,144.44 L320.70,144.99 L320.80,145.43 L320.90,145.78 L321.00,146.04 L321.10,146.25 L321.20,146.40 L321.30,146.50 L321.40,146.57 L321.50,146.60 L321.60,146.59 L321.70,146.56 L321.80,146.48 L321.90,146.37 L322.00,146.21 L322.10,146.00 L322.20,145.73 L322.30,145.40 L322.40,145.04 L322.50,144.69 L322.60,144.43 L322.70,144.32 L322.80,144.43 L322.90,144.69 L323.00,145.05 L323.10,145.41 L323.20,145.74 L323.30,146.02 L323.40,146.25 L323.50,146.42 L323.60,146.56 L323.70,146.66 L323.80,146.73 L323.90,146.78 L324.00,146.81 L324.10,146.82 L324.20,146.81 L324.30,146.78 L324.40,146.73 L324.50,146.65 L324.60,146.56 L324.70,146.45 L324.80,146.34 L324.90,146.26 L325.00,146.23 L325.10,146.28 L325.20,146.37 L325.30,146.50 L325.40,146.63 L325.50,146.74 L325.60,146.84 L325.70,146.93 L325.80,146.99 L325.90,147.05 L326.00,147.09 L326.10,147.12 L326.20,147.15 L326.30,147.17 L326.40,147.19 L326.50,147.21 L326.60,147.22 L326.70,147.23 L326.80,147.24 L326.90,147.25 L327.00,147.26 L327.10,147.26 L327.20,147.27 L327.30,147.27 L327.40,147.27 L327.50,147.28 L327.60,147.28 L327.70,147.28 L327.80,147.28 L327.90,147.28 L328.00,147.29 L328.10,147.29 L328.20,147.29 L328.30,147.29 L328.40,147.29 L328.50,147.29 L328.60,147.29 L328.70,147.29 L328.80,147.29 L328.90,147.29 L329.00,147.29 L329.10,147.29 L329.20,147.29 L329.30,147.29 L329.40,147.29 L329.50,147.29 L329.60,147.29 L329.70,147.30 L329.80,147.30 L329.90,147.30 L330.00,147.30 L330.10,147.31 L330.20,147.33 L330.30,147.35 L330.40,147.36 L330.50,147.38 L330.60,147.39 L330.70,147.41 L330.80,147.43 L330.90,147.44 L331.00,147.46 L331.10,147.48 L331.20,147.49 L331.30,147.51 L331.40,147.53 L331.50,147.54 L331.60,147.56 L331.70,147.58 L331.80,147.60 L331.90,147.61 L332.00,147.63 L332.10,147.65 L332.20,147.66 L332.30,147.68 L332.40,147.70 L332.50,147.72 L332.60,147.73 L332.70,147.75 L332.80,147.77 L332.90,147.79 L333.00,147.81 L333.10,147.82 L333.20,147.84 L333.30,147.86 L333.40,147.88 L333.50,147.89 L333.60,147.91 L333.70,147.93 L333.80,147.95 L333.90,147.97 L334.00,147.99 L334.10,148.00 L334.20,148.02 L334.30,148.04 L334.40,148.06 L334.50,148.08 L334.60,148.10 L334.70,148.11 L334.80,148.13 L334.90,148.15 L335.00,148.17 L335.10,148.19 L335.20,148.21 L335.30,148.23 L335.40,148.24 L335.50,148.26 L335.60,148.28 L335.70,148.30 L335.80,148.32 L335.90,148.34 L336.00,148.36 L336.10,148.38 L336.20,148.40 L336.30,148.41 L336.40,148.43 L336.50,148.45 L336.60,148.47 L336.70,148.49 L336.80,148.51 L336.90,148.53 L337.00,148.55 L337.10,148.58 L337.20,148.61 L337.30,148.63 L337.40,148.66 L337.50,148.69 L337.60,148.72 L337.70,148.75 L337.80,148.78 L337.90,148.81 L338.00,148.84 L338.10,148.87 L338.20,148.89 L338.30,148.92 L338.40,148.95 L338.50,148.98 L338.60,149.01 L338.70,149.04 L338.80,149.07 L338.90,149.10 L339.00,149.13 L339.10,149.16 L339.20,149.19 L339.30,149.21 L339.40,149.24 L339.50,149.27 L339.60,149.30 L339.70,149.33 L339.80,149.36 L339.90,149.39 L340.00,149.42 L340.10,149.45 L340.20,149.48 L340.30,149.51 L340.40,149.54 L340.50,149.57 L340.60,149.60 L340.70,149.62 L340.80,149.65 L340.90,149.68 L341.00,149.71 L341.10,149.74 L341.20,149.77 L341.30,149.80 L341.40,149.83 L341.50,149.86 L341.60,149.89 L341.70,149.92 L341.80,149.95 L341.90,149.98 L342.00,150.01 L342.10,150.04 L342.20,150.07 L342.30,150.10 L342.40,150.13 L342.50,150.15 L342.60,150.18 L342.70,150.21 L342.80,150.24 L342.90,150.27 L343.00,150.30 L343.10,150.33 L343.20,150.36 L343.30,150.39 L343.40,150.42 L343.50,150.45 L343.60,150.48 L343.70,150.51 L343.80,150.54 L343.90,150.57 L344.00,150.60 L344.10,150.63 L344.20,150.65 L344.30,150.67 L344.40,150.69 L344.50,150.71 L344.60,150.73 L344.70,150.75 L344.80,150.77 L344.90,150.79 L345.00,150.81 L345.10,150.83 L345.20,150.85 L345.30,150.87 L345.40,150.89 L345.50,150.91 L345.60,150.93 L345.70,150.95 L345.80,150.97 L345.90,150.98 L346.00,151.00 L346.10,151.02 L346.20,151.04 L346.30,151.06 L346.40,151.08 L346.50,151.10 L346.60,151.12 L346.70,151.14 L346.80,151.16 L346.90,151.18 L347.00,151.20 L347.10,151.22 L347.20,151.24 L347.30,151.26 L347.40,151.28 L347.50,151.30 L347.60,151.32 L347.70,151.34 L347.80,151.36 L347.90,151.38 L348.00,151.40 L348.10,151.42 L348.20,151.44 L348.30,151.46 L348.40,151.48 L348.50,151.50 L348.60,151.52 L348.70,151.54 L348.80,151.56 L348.90,151.58 L349.00,151.60 L349.10,151.62 L349.20,151.64 L349.30,151.66 L349.40,151.68 L349.50,151.70 L349.60,151.72 L349.70,151.74 L349.80,151.76 L349.90,151.78 L350.00,151.80 L350.10,151.82 L350.20,151.84 L350.30,151.86 L350.40,151.88 L350.50,151.90 L350.60,151.92 L350.70,151.94 L350.80,151.96 L350.90,151.98 L351.00,152.00 L351.10,152.02 L351.20,152.04 L351.30,152.04 L351.40,152.04 L351.50,152.04 L351.60,152.04 L351.70,152.04 L351.80,152.04 L351.90,152.04 L352.00,152.04 L352.10,152.04 L352.20,152.04 L352.30,152.04 L352.40,152.04 L352.50,152.04 L352.60,152.04 L352.70,152.04 L352.80,152.04 L352.90,152.04 L353.00,152.04 L353.10,152.04 L353.20,152.04 L353.30,152.04 L353.40,152.04 L353.50,152.04 L353.60,152.04 L353.70,152.04 L353.80,152.04 L353.90,152.04 L354.00,152.04 L354.10,152.04 L354.20,152.04 L354.30,152.04 L354.40,152.04 L354.50,152.04 L354.60,152.04 L354.70,152.04 L354.80,152.04 L354.90,152.04 L355.00,152.04 L355.10,152.04 L355.20,152.04 L355.30,152.05 L355.40,152.05 L355.50,152.05 L355.60,152.05 L355.70,152.05 L355.80,152.05 L355.90,152.05 L356.00,152.05 L356.10,152.05 L356.20,152.05 L356.30,152.05 L356.40,152.05 L356.50,152.05 L356.60,152.05 L356.70,152.05 L356.80,152.05 L356.90,152.05 L357.00,152.05 L357.10,152.05 L357.20,152.05 L357.30,152.05 L357.40,152.05 L357.50,152.05 L357.60,152.05 L357.70,152.05 L357.80,152.05 L357.90,152.05 L358.00,152.05 L358.10,152.05 L358.20,152.05 L358.30,152.05 L358.40,152.05 L358.50,152.05 L358.60,152.05 L358.70,152.05 L358.80,152.05 L358.90,152.05 L359.00,152.05 L359.10,152.05 L359.20,152.05 L359.30,152.05 L359.40,152.05 L359.50,152.05 L359.60,152.05 L359.70,152.05 L359.80,152.05 L359.90,152.05 L360.00,152.05 L360.10,152.05 L360.20,152.05 L360.30,152.05 L360.40,152.05 L360.50,152.05 L360.60,152.05 L360.70,152.05 L360.80,152.05 L360.90,152.05 L361.00,152.05 L361.10,152.05 L361.20,152.05 L361.30,152.05 L361.40,152.05 L361.50,152.05 L361.60,152.05 L361.70,152.05 L361.80,152.05 L361.90,152.05 L362.00,152.05 L362.10,152.05 L362.20,152.06 L362.30,152.06 L362.40,152.06 L362.50,152.06 L362.60,152.06 L362.70,152.06 L362.80,152.06 L362.90,152.06 L363.00,152.06 L363.10,152.06 L363.20,152.06 L363.30,152.06 L363.40,152.06 L363.50,152.06 L363.60,152.06 L363.70,152.06 L363.80,152.06 L363.90,152.06 L364.00,152.06 L364.10,152.06 L364.20,152.06 L364.30,152.06 L364.40,152.06 L364.50,152.06 L364.60,152.06 L364.70,152.06 L364.80,152.06 L364.90,152.06 L365.00,152.06 L365.10,152.06 L365.20,152.06 L365.30,152.06 L365.40,152.05 L365.50,152.05 L365.60,152.04 L365.70,152.04 L365.80,152.03 L365.90,152.03 L366.00,152.02 L366.10,152.01 L366.20,152.01 L366.30,152.00 L366.40,152.00 L366.50,151.99 L366.60,151.99 L366.70,151.98 L366.80,151.97 L366.90,151.97 L367.00,151.96 L367.10,151.96 L367.20,151.95 L367.30,151.95 L367.40,151.94 L367.50,151.94 L367.60,151.93 L367.70,151.92 L367.80,151.92 L367.90,151.91 L368.00,151.91 L368.10,151.90 L368.20,151.90 L368.30,151.89 L368.40,151.88 L368.50,151.88 L368.60,151.87 L368.70,151.87 L368.80,151.86 L368.90,151.86 L369.00,151.85 L369.10,151.85 L369.20,151.84 L369.30,151.83 L369.40,151.83 L369.50,151.82 L369.60,151.82 L369.70,151.81 L369.80,151.81 L369.90,151.80 L370.00,151.79 L370.10,151.79 L370.20,151.78 L370.30,151.78 L370.40,151.77 L370.50,151.77 L370.60,151.76 L370.70,151.76 L370.80,151.75 L370.90,151.74 L371.00,151.74 L371.10,151.73 L371.20,151.73 L371.30,151.72 L371.40,151.72 L371.50,151.71 L371.60,151.70 L371.70,151.70 L371.80,151.69 L371.90,151.69 L372.00,151.68 L372.10,151.68 L372.20,151.67 L372.30,151.67 L372.40,151.66 L372.50,151.66 L372.60,151.66 L372.70,151.66 L372.80,151.66 L372.90,151.65 L373.00,151.65 L373.10,151.65 L373.20,151.65 L373.30,151.65 L373.40,151.64 L373.50,151.64 L373.60,151.64 L373.70,151.64 L373.80,151.63 L373.90,151.63 L374.00,151.63 L374.10,151.63 L374.20,151.63 L374.30,151.62 L374.40,151.62 L374.50,151.62 L374.60,151.62 L374.70,151.62 L374.80,151.61 L374.90,151.61 L375.00,151.61 L375.10,151.61 L375.20,151.61 L375.30,151.60 L375.40,151.60 L375.50,151.60 L375.60,151.60 L375.70,151.60 L375.80,151.59 L375.90,151.59 L376.00,151.59 L376.10,151.59 L376.20,151.59 L376.30,151.58 L376.40,151.58 L376.50,151.58 L376.60,151.58 L376.70,151.58 L376.80,151.57 L376.90,151.57 L377.00,151.57 L377.10,151.57 L377.20,151.57 L377.30,151.56 L377.40,151.56 L377.50,151.56 L377.60,151.56 L377.70,151.55 L377.80,151.55 L377.90,151.55 L378.00,151.55 L378.10,151.55 L378.20,151.54 L378.30,151.54 L378.40,151.54 L378.50,151.54 L378.60,151.54 L378.70,151.53 L378.80,151.53 L378.90,151.53 L379.00,151.53 L379.10,151.53 L379.20,151.52 L379.30,151.52 L379.40,151.52 L379.50,151.52 L379.60,151.52 L379.70,151.51 L379.80,151.51 L379.90,151.51 L380.00,151.51 L380.10,151.51 L380.20,151.50 L380.30,151.50 L380.40,151.50 L380.50,151.50 L380.60,151.50 L380.70,151.49 L380.80,151.49 L380.90,151.49 L381.00,151.49 L381.10,151.48 L381.20,151.48 L381.30,151.48 L381.40,151.48 L381.50,151.48 L381.60,151.47 L381.70,151.47 L381.80,151.47 L381.90,151.47 L382.00,151.47 L382.10,151.46 L382.20,151.46 L382.30,151.46 L382.40,151.46 L382.50,151.46 L382.60,151.45 L382.70,151.45 L382.80,151.45 L382.90,151.45 L383.00,151.45 L383.10,151.44 L383.20,151.44 L383.30,151.44 L383.40,151.44 L383.50,151.44 L383.60,151.43 L383.70,151.43 L383.80,151.43 L383.90,151.43 L384.00,151.42 L384.10,151.42 L384.20,151.42 L384.30,151.42 L384.40,151.42 L384.50,151.41 L384.60,151.41 L384.70,151.41 L384.80,151.41 L384.90,151.41 L385.00,151.40 L385.10,151.40 L385.20,151.40 L385.30,151.40 L385.40,151.40 L385.50,151.39 L385.60,151.39 L385.70,151.39 L385.80,151.39 L385.90,151.39 L386.00,151.38 L386.10,151.38 L386.20,151.38 L386.30,151.38 L386.40,151.37 L386.50,151.37 L386.60,151.37 L386.70,151.37 L386.80,151.37 L386.90,151.36 L387.00,151.36 L387.10,151.36 L387.20,151.36 L387.30,151.36 L387.40,151.35 L387.50,151.35 L387.60,151.35 L387.70,151.35 L387.80,151.34 L387.90,151.34 L388.00,151.34 L388.10,151.34 L388.20,151.34 L388.30,151.33 L388.40,151.33 L388.50,151.33 L388.60,151.33 L388.70,151.33 L388.80,151.32 L388.90,151.32 L389.00,151.32 L389.10,151.32 L389.20,151.31 L389.30,151.31 L389.40,151.31 L389.50,151.31 L389.60,151.31 L389.70,151.30 L389.80,151.30 L389.90,151.30 L390.00,151.30 L390.10,151.30 L390.20,151.29 L390.30,151.29 L390.40,151.29 L390.50,151.29 L390.60,151.28 L390.70,151.28 L390.80,151.28 L390.90,151.28 L391.00,151.28 L391.10,151.27 L391.20,151.27 L391.30,151.27 L391.40,151.27 L391.50,151.26 L391.60,151.26 L391.70,151.26 L391.80,151.26 L391.90,151.26 L392.00,151.25 L392.10,151.25 L392.20,151.25 L392.30,151.25 L392.40,151.25 L392.50,151.24 L392.60,151.24 L392.70,151.24 L392.80,151.24 L392.90,151.23 L393.00,151.23 L393.10,151.23 L393.20,151.23 L393.30,151.23 L393.40,151.22 L393.50,151.22 L393.60,151.22 L393.70,151.22 L393.80,151.22 L393.90,151.21 L394.00,151.21 L394.10,151.21 L394.20,151.21 L394.30,151.20 L394.40,151.20 L394.50,151.20 L394.60,151.20 L394.70,151.20 L394.80,151.19 L394.90,151.19 L395.00,151.19 L395.10,151.19 L395.20,151.18 L395.30,151.18 L395.40,151.18 L395.50,151.18 L395.60,151.18 L395.70,151.17 L395.80,151.17 L395.90,151.17 L396.00,151.17 L396.10,151.17 L396.20,151.16 L396.30,151.16 L396.40,151.16 L396.50,151.16 L396.60,151.15 L396.70,151.15 L396.80,151.15 L396.90,151.15 L397.00,151.15 L397.10,151.14 L397.20,151.14 L397.30,151.14 L397.40,151.14 L397.50,151.14 L397.60,151.13 L397.70,151.13 L397.80,151.13 L397.90,151.13 L398.00,151.12 L398.10,151.12 L398.20,151.12 L398.30,151.12 L398.40,151.12 L398.50,151.11 L398.60,151.11 L398.70,151.11 L398.80,151.11 L398.90,151.10 L399.00,151.10 L399.10,151.10 L399.20,151.10 L399.30,151.10 L399.40,151.09 L399.50,151.09 L399.60,151.09 L399.70,151.09 L399.80,151.09 L399.90,151.08 L400.00,151.08 L400.10,151.08 L400.20,151.07 L400.30,151.07 L400.40,151.07 L400.50,151.07 L400.60,151.06 L400.70,151.06 L400.80,151.06 L400.90,151.05 L401.00,151.05 L401.10,151.05 L401.20,151.04 L401.30,151.04 L401.40,151.04 L401.50,151.03 L401.60,151.03 L401.70,151.03 L401.80,151.03 L401.90,151.02 L402.00,151.02 L402.10,151.02 L402.20,151.01 L402.30,151.01 L402.40,151.01 L402.50,151.00 L402.60,151.00 L402.70,151.00 L402.80,151.00 L402.90,150.99 L403.00,150.99 L403.10,150.99 L403.20,150.98 L403.30,150.98 L403.40,150.98 L403.50,150.97 L403.60,150.97 L403.70,150.97 L403.80,150.96 L403.90,150.96 L404.00,150.96 L404.10,150.96 L404.20,150.95 L404.30,150.95 L404.40,150.95 L404.50,150.94 L404.60,150.94 L404.70,150.94 L404.80,150.93 L404.90,150.93 L405.00,150.93 L405.10,150.93 L405.20,150.92 L405.30,150.92 L405.40,150.92 L405.50,150.91 L405.60,150.91 L405.70,150.91 L405.80,150.90 L405.90,150.90 L406.00,150.90 L406.10,150.89 L406.20,150.89 L406.30,150.89 L406.40,150.89 L406.50,150.88 L406.60,150.88 L406.70,150.88 L406.80,150.87 L406.90,150.87 L407.00,150.87 L407.10,150.86 L407.20,150.86 L407.30,150.86 L407.40,150.85 L407.50,150.85 L407.60,150.85 L407.70,150.85 L407.80,150.84 L407.90,150.84 L408.00,150.84 L408.10,150.83 L408.20,150.83 L408.30,150.83 L408.40,150.82 L408.50,150.82 L408.60,150.82 L408.70,150.81 L408.80,150.81 L408.90,150.81 L409.00,150.81 L409.10,150.80 L409.20,150.80 L409.30,150.80 L409.40,150.79 L409.50,150.79 L409.60,150.79 L409.70,150.78 L409.80,150.78 L409.90,150.78 L410.00,150.78 L410.10,150.77 L410.20,150.77 L410.30,150.77 L410.40,150.76 L410.50,150.76 L410.60,150.76 L410.70,150.75 L410.80,150.75 L410.90,150.75 L411.00,150.74 L411.10,150.74 L411.20,150.74 L411.30,150.74 L411.40,150.73 L411.50,150.73 L411.60,150.73 L411.70,150.72 L411.80,150.72 L411.90,150.72 L412.00,150.71 L412.10,150.71 L412.20,150.71 L412.30,150.70 L412.40,150.70 L412.50,150.70 L412.60,150.70 L412.70,150.69 L412.80,150.69 L412.90,150.69 L413.00,150.68 L413.10,150.68 L413.20,150.68 L413.30,150.67 L413.40,150.67 L413.50,150.67 L413.60,150.66 L413.70,150.66 L413.80,150.66 L413.90,150.66 L414.00,150.65 L414.10,150.65 L414.20,150.65 L414.30,150.64 L414.40,150.64 L414.50,150.64 L414.60,150.63 L414.70,150.63 L414.80,150.63 L414.90,150.63 L415.00,150.62 L415.10,150.62 L415.20,150.62 L415.30,150.61 L415.40,150.61 L415.50,150.61 L415.60,150.60 L415.70,150.60 L415.80,150.60 L415.90,150.59 L416.00,150.59 L416.10,150.59 L416.20,150.59 L416.30,150.58 L416.40,150.58 L416.50,150.58 L416.60,150.57 L416.70,150.57 L416.80,150.57 L416.90,150.56 L417.00,150.56 L417.10,150.56 L417.20,150.55 L417.30,150.55 L417.40,150.55 L417.50,150.55 L417.60,150.54 L417.70,150.54 L417.80,150.54 L417.90,150.53 L418.00,150.53 L418.10,150.53 L418.20,150.52 L418.30,150.52 L418.40,150.52 L418.50,150.51 L418.60,150.51 L418.70,150.51 L418.80,150.51 L418.90,150.50 L419.00,150.50 L419.10,150.50 L419.20,150.49 L419.30,150.49 L419.40,150.49 L419.50,150.48 L419.60,150.48 L419.70,150.48 L419.80,150.48 L419.90,150.47 L420.00,150.47 L420.10,150.47 L420.20,150.46 L420.30,150.46 L420.40,150.46 L420.50,150.45 L420.60,150.45 L420.70,150.45 L420.80,150.44 L420.90,150.44 L421.00,150.44 L421.10,150.44 L421.20,150.43 L421.30,150.43 L421.40,150.43 L421.50,150.42 L421.60,150.42 L421.70,150.42 L421.80,150.41 L421.90,150.41 L422.00,150.41 L422.10,150.40 L422.20,150.40 L422.30,150.40 L422.40,150.40 L422.50,150.39 L422.60,150.39 L422.70,150.39 L422.80,150.38 L422.90,150.38 L423.00,150.38 L423.10,150.37 L423.20,150.37 L423.30,150.37 L423.40,150.36 L423.50,150.36 L423.60,150.36 L423.70,150.36 L423.80,150.35 L423.90,150.35 L424.00,150.35 L424.10,150.34 L424.20,150.34 L424.30,150.34 L424.40,150.33 L424.50,150.33 L424.60,150.33 L424.70,150.32 L424.80,150.32 L424.90,150.32 L425.00,150.32 L425.10,150.31 L425.20,150.31 L425.30,150.31 L425.40,150.30 L425.50,150.30 L425.60,150.30 L425.70,150.29 L425.80,150.29 L425.90,150.29 L426.00,150.28 L426.10,150.28 L426.20,150.28 L426.30,150.28 L426.40,150.27 L426.50,150.27 L426.60,150.27 L426.70,150.26 L426.80,150.26 L426.90,150.26 L427.00,150.25 L427.10,150.25 L427.20,150.25 L427.30,150.24 L427.40,150.24 L427.50,150.24 L427.60,150.24 L427.70,150.23 L427.80,150.23 L427.90,150.23 L428.00,150.22 L428.10,150.22 L428.20,150.22 L428.30,150.21 L428.40,150.21 L428.50,150.21 L428.60,150.21 L428.70,150.20 L428.80,150.20 L428.90,150.20 L429.00,150.19 L429.10,150.19 L429.20,150.19 L429.30,150.18 L429.40,150.18 L429.50,150.18 L429.60,150.17 L429.70,150.17 L429.80,150.17 L429.90,150.17 L430.00,150.16 L430.10,150.16 L430.20,150.16 L430.30,150.15 L430.40,150.15 L430.50,150.15 L430.60,150.14 L430.70,150.14 L430.80,150.14 L430.90,150.13 L431.00,150.13 L431.10,150.13 L431.20,150.13 L431.30,150.12 L431.40,150.12 L431.50,150.12 L431.60,150.11 L431.70,150.11 L431.80,150.11 L431.90,150.10 L432.00,150.10 L432.10,150.10 L432.20,150.09 L432.30,150.09 L432.40,150.09 L432.50,150.09 L432.60,150.08 L432.70,150.08 L432.80,150.08 L432.90,150.07 L433.00,150.07 L433.10,150.07 L433.20,150.06 L433.30,150.06 L433.40,150.06 L433.50,150.05 L433.60,150.05 L433.70,150.05 L433.80,150.05 L433.90,150.04 L434.00,150.04 L434.10,150.04 L434.20,150.03 L434.30,150.03 L434.40,150.03 L434.50,150.02 L434.60,150.02 L434.70,150.02 L434.80,150.01 L434.90,150.01 L435.00,150.01 L435.10,150.01 L435.20,150.00 L435.30,150.00 L435.40,150.00 L435.50,149.99 L435.60,149.99 L435.70,149.99 L435.80,149.98 L435.90,149.98 L436.00,149.98 L436.10,149.97 L436.20,149.97 L436.30,149.97 L436.40,149.97 L436.50,149.96 L436.60,149.96 L436.70,149.96 L436.80,149.95 L436.90,149.95 L437.00,149.95 L437.10,149.94 L437.20,149.94 L437.30,149.94 L437.40,149.93 L437.50,149.93 L437.60,149.93 L437.70,149.93 L437.80,149.92 L437.90,149.92 L438.00,149.92 L438.10,149.91 L438.20,149.91 L438.30,149.91 L438.40,149.90 L438.50,149.90 L438.60,149.90 L438.70,149.89 L438.80,149.89 L438.90,149.89 L439.00,149.89 L439.10,149.88 L439.20,149.88 L439.30,149.88 L439.40,149.87 L439.50,149.87 L439.60,149.87 L439.70,149.86 L439.80,149.86 L439.90,149.86 L440.00,149.85 L440.10,149.85 L440.20,149.85 L440.30,149.85 L440.40,149.84 L440.50,149.84 L440.60,149.84 L440.70,149.83 L440.80,149.83 L440.90,149.83 L441.00,149.82 L441.10,149.82 L441.20,149.82 L441.30,149.82 L441.40,149.81 L441.50,149.81 L441.60,149.81 L441.70,149.80 L441.80,149.80 L441.90,149.80 L442.00,149.79 L442.10,149.79 L442.20,149.79 L442.30,149.78 L442.40,149.78 L442.50,149.78 L442.60,149.78 L442.70,149.77 L442.80,149.77 L442.90,149.77 L443.00,149.76 L443.10,149.76 L443.20,149.76 L443.30,149.75 L443.40,149.75 L443.50,149.75 L443.60,149.74 L443.70,149.74 L443.80,149.74 L443.90,149.74 L444.00,149.73 L444.10,149.73 L444.20,149.73 L444.30,149.72 L444.40,149.72 L444.50,149.72 L444.60,149.71 L444.70,149.71 L444.80,149.71 L444.90,149.70 L445.00,149.70 L445.10,149.70 L445.20,149.70 L445.30,149.69 L445.40,149.69 L445.50,149.69 L445.60,149.68 L445.70,149.68 L445.80,149.68 L445.90,149.67 L446.00,149.67 L446.10,149.67 L446.20,149.66 L446.30,149.66 L446.40,149.66 L446.50,149.66 L446.60,149.65 L446.70,149.65 L446.80,149.65 L446.90,149.64 L447.00,149.64 L447.10,149.64 L447.20,149.63 L447.30,149.63 L447.40,149.63 L447.50,149.62 L447.60,149.62 L447.70,149.62 L447.80,149.62 L447.90,149.61 L448.00,149.61 L448.10,149.61 L448.20,149.60 L448.30,149.60 L448.40,149.60 L448.50,149.59 L448.60,149.59 L448.70,149.59 L448.80,149.58 L448.90,149.58 L449.00,149.58 L449.10,149.58 L449.20,149.57 L449.30,149.57 L449.40,149.57 L449.50,149.56 L449.60,149.56 L449.70,149.56 L449.80,149.55 L449.90,149.55 L450.00,149.55 L450.10,149.54 L450.20,149.54 L450.30,149.54 L450.40,149.54 L450.50,149.53 L450.60,149.53 L450.70,149.53 L450.80,149.52 L450.90,149.52 L451.00,149.52 L451.10,149.51 L451.20,149.51 L451.30,149.51 L451.40,149.50 L451.50,149.50 L451.60,149.50 L451.70,149.50 L451.80,149.49 L451.90,149.49 L452.00,149.49 L452.10,149.48 L452.20,149.48 L452.30,149.48 L452.40,149.47 L452.50,149.47 L452.60,149.47 L452.70,149.46 L452.80,149.46 L452.90,149.46 L453.00,149.46 L453.10,149.45 L453.20,149.45 L453.30,149.45 L453.40,149.44 L453.50,149.44 L453.60,149.44 L453.70,149.43 L453.80,149.43 L453.90,149.43 L454.00,149.42 L454.10,149.42 L454.20,149.42 L454.30,149.42 L454.40,149.41 L454.50,149.41 L454.60,149.41 L454.70,149.40 L454.80,149.40 L454.90,149.40 L455.00,149.39 L455.10,149.39 L455.20,149.39 L455.30,149.38 L455.40,149.38 L455.50,149.38 L455.60,149.38 L455.70,149.37 L455.80,149.37 L455.90,149.37 L456.00,149.36 L456.10,149.36 L456.20,149.36 L456.30,149.35 L456.40,149.35 L456.50,149.35 L456.60,149.34 L456.70,149.34" stroke="#f00"/>
<path d="M243.50,159.47 L243.60,159.46 L243.70,159.45 L243.80,159.43 L243.90,159.42 L244.00,159.41 L244.10,159.39 L244.20,159.38 L244.30,159.36 L244.40,159.35 L244.50,159.33 L244.60,159.31 L244.70,159.30 L244.80,159.28 L244.90,159.26 L245.00,159.24 L245.10,159.22 L245.20,159.20 L245.30,159.18 L245.40,159.16 L245.50,159.14 L245.60,159.12 L245.70,159.10 L245.80,159.07 L245.90,159.05 L246.00,159.02 L246.10,159.00 L246.20,158.97 L246.30,158.94 L246.40,158.91 L246.50,158.88 L246.60,158.85 L246.70,158.81 L246.80,158.78 L246.90,158.74 L247.00,158.71 L247.10,158.67 L247.20,158.63 L247.30,158.59 L247.40,158.54 L247.50,158.50 L247.60,158.45 L247.70,158.40 L247.80,158.35 L247.90,158.30 L248.00,158.24 L248.10,158.18 L248.20,158.12 L248.30,158.05 L248.40,157.99 L248.50,157.92 L248.60,157.84 L248.70,157.76 L248.80,157.68 L248.90,157.59 L249.00,157.50 L249.10,157.40 L249.20,157.30 L249.30,157.19 L249.40,157.07 L249.50,156.95 L249.60,156.82 L249.70,156.68 L249.80,156.53 L249.90,156.38 L250.00,156.21 L250.10,156.03 L250.20,155.84 L250.30,155.63 L250.40,155.41 L250.50,155.18 L250.60,154.92 L250.70,154.64 L250.80,154.34 L250.90,154.02 L251.00,153.67 L251.10,153.28 L251.20,152.86 L251.30,152.40 L251.40,151.90 L251.50,151.34 L251.60,150.73 L251.70,150.04 L251.80,149.28 L251.90,148.44 L252.00,147.48 L252.10,146.41 L252.20,145.19 L252.30,143.80 L252.40,142.22 L252.50,140.39 L252.60,138.26 L252.70,135.77 L252.80,132.84 L252.90,129.35 L253.00,125.15 L253.10,120.05 L253.20,113.76 L253.30,105.90 L253.40,95.92 L253.50,83.00 L253.60,65.94 L253.70,42.88 L253.80,15.17 L253.90,15.17 L254.00,15.17 L254.10,15.17 L254.20,15.17 L254.30,15.17 L254.40,15.17 L254.50,15.17 L254.60,15.17 L254.70,15.17 L254.80,15.17 L254.90,15.17 L255.00,15.17 L255.10,15.17 L255.20,42.85 L255.30,65.91 L255.40,82.96 L255.50,95.88 L255.60,105.85 L255.70,113.71 L255.80,119.99 L255.90,125.09 L256.00,129.29 L256.10,132.77 L256.20,135.70 L256.30,138.18 L256.40,140.30 L256.50,142.13 L256.60,143.71 L256.70,145.10 L256.80,146.31 L256.90,147.38 L257.00,148.33 L257.10,149.17 L257.20,149.93 L257.30,150.61 L257.40,151.22 L257.50,151.77 L257.60,152.27 L257.70,152.72 L257.80,153.14 L257.90,153.52 L258.00,153.87 L258.10,154.19 L258.20,154.48 L258.30,154.75 L258.40,155.00 L258.50,155.24 L258.60,155.45 L258.70,155.65 L258.80,155.84 L258.90,156.01 L259.00,156.17 L259.10,156.33 L259.20,156.47 L259.30,156.60 L259.40,156.72 L259.50,156.84 L259.60,156.95 L259.70,157.05 L259.80,157.15 L259.90,157.24 L260.00,157.33 L260.10,157.41 L260.20,157.49 L260.30,157.56 L260.40,157.63 L260.50,157.69 L260.60,157.75 L260.70,157.81 L260.80,157.87 L260.90,157.92 L261.00,157.97 L261.10,158.02 L261.20,158.06 L261.30,158.10 L261.40,158.14 L261.50,158.18 L261.60,158.21 L261.70,158.25 L261.80,158.28 L261.90,158.31 L262.00,158.34 L262.10,158.37 L262.20,158.39 L262.30,158.41 L262.40,158.44 L262.50,158.46 L262.60,158.48 L262.70,158.50 L262.80,158.51 L262.90,158.53 L263.00,158.55 L263.10,158.56 L263.20,158.57 L263.30,158.58 L263.40,158.59 L263.50,158.60 L263.60,158.61 L263.70,158.62 L263.80,158.63 L263.90,158.63 L264.00,158.64 L264.10,158.64 L264.20,158.65 L264.30,158.65 L264.40,158.65 L264.50,158.65 L264.60,158.65 L264.70,158.65 L264.80,158.65 L264.90,158.64 L265.00,158.64 L265.10,158.63 L265.20,158.63 L265.30,158.62 L265.40,158.61 L265.50,158.60 L265.60,158.59 L265.70,158.58 L265.80,158.57 L265.90,158.56 L266.00,158.54 L266.10,158.53 L266.20,158.51 L266.30,158.49 L266.40,158.47 L266.50,158.45 L266.60,158.43 L266.70,158.41 L266.80,158.39 L266.90,158.36 L267.00,158.33 L267.10,158.30 L267.20,158.27 L267.30,158.24 L267.40,158.20 L267.50,158.16 L267.60,158.13 L267.70,158.08 L267.80,158.04 L267.90,157.99 L268.00,157.94 L268.10,157.89 L268.20,157.84 L268.30,157.78 L268.40,157.71 L268.50,157.65 L268.60,157.58 L268.70,157.50 L268.80,157.42 L268.90,157.34 L269.00,157.25 L269.10,157.15 L269.20,157.05 L269.30,156.94 L269.40,156.82 L269.50,156.70 L269.60,156.57 L269.70,156.42 L269.80,156.27 L269.90,156.10 L270.00,155.92 L270.10,155.73 L270.20,155.52 L270.30,155.29 L270.40,155.05 L270.50,154.78 L270.60,154.49 L270.70,154.17 L270.80,153.82 L270.90,153.44 L271.00,153.01 L271.10,152.54 L271.20,152.02 L271.30,151.44 L271.40,150.80 L271.50,150.07 L271.60,149.25 L271.70,148.32 L271.80,147.26 L271.90,146.05 L272.00,144.65 L272.10,143.02 L272.20,141.12 L272.30,138.88 L272.40,136.22 L272.50,133.01 L272.60,129.11 L272.70,124.30 L272.80,118.29 L272.90,110.66 L273.00,100.79 L273.10,87.75 L273.20,70.12 L273.30,45.67 L273.40,28.10 L273.50,16.41 L273.60,15.17 L273.70,15.17 L273.80,15.17 L273.90,15.17 L274.00,15.17 L274.10,15.17 L274.20,15.17 L274.30,15.17 L274.40,16.37 L274.50,28.05 L274.60,45.63 L274.70,70.08 L274.80,87.70 L274.90,100.74 L275.00,110.60 L275.10,118.23 L275.20,124.23 L275.30,129.03 L275.40,132.92 L275.50,136.13 L275.60,138.79 L275.70,141.02 L275.80,142.91 L275.90,144.53 L276.00,145.92 L276.10,147.13 L276.20,148.18 L276.30,149.11 L276.40,149.92 L276.50,150.64 L276.60,151.28 L276.70,151.85 L276.80,152.37 L276.90,152.83 L277.00,153.24 L277.10,153.62 L277.20,153.96 L277.30,154.27 L277.40,154.56 L277.50,154.82 L277.60,155.05 L277.70,155.27 L277.80,155.47 L277.90,155.66 L278.00,155.83 L278.10,155.98 L278.20,156.13 L278.30,156.26 L278.40,156.38 L278.50,156.50 L278.60,156.60 L278.70,156.70 L278.80,156.79 L278.90,156.88 L279.00,156.96 L279.10,157.03 L279.20,157.10 L279.30,157.16 L279.40,157.21 L279.50,157.27 L279.60,157.31 L279.70,157.36 L279.80,157.40 L279.90,157.44 L280.00,157.47 L280.10,157.50 L280.20,157.53 L280.30,157.55 L280.40,157.57 L280.50,157.59 L280.60,157.60 L280.70,157.62 L280.80,157.63 L280.90,157.63 L281.00,157.64 L281.10,157.64 L281.20,157.64 L281.30,157.64 L281.40,157.63 L281.50,157.62 L281.60,157.61 L281.70,157.60 L281.80,157.59 L281.90,157.57 L282.00,157.55 L282.10,157.52 L282.20,157.50 L282.30,157.47 L282.40,157.44 L282.50,157.40 L282.60,157.36 L282.70,157.32 L282.80,157.28 L282.90,157.23 L283.00,157.17 L283.10,157.12 L283.20,157.06 L283.30,156.99 L283.40,156.92 L283.50,156.85 L283.60,156.77 L283.70,156.68 L283.80,156.59 L283.90,156.50 L284.00,156.39 L284.10,156.28 L284.20,156.16 L284.30,156.03 L284.40,155.90 L284.50,155.75 L284.60,155.59 L284.70,155.43 L284.80,155.24 L284.90,155.05 L285.00,154.84 L285.10,154.62 L285.20,154.37 L285.30,154.11 L285.40,153.82 L285.50,153.51 L285.60,153.18 L285.70,152.81 L285.80,152.42 L285.90,151.98 L286.00,151.51 L286.10,150.99 L286.20,150.41 L286.30,149.78 L286.40,149.08 L286.50,148.31 L286.60,147.45 L286.70,146.49 L286.80,145.41 L286.90,144.21 L287.00,142.85 L287.10,141.31 L287.20,139.57 L287.30,137.58 L287.40,135.31 L287.50,132.70 L287.60,129.70 L287.70,126.23 L287.80,122.21 L287.90,117.56 L288.00,112.17 L288.10,105.95 L288.20,98.82 L288.30,90.75 L288.40,81.79 L288.50,72.17 L288.60,62.32 L288.70,52.99 L288.80,45.15 L288.90,39.86 L289.00,37.99 L289.10,39.86 L289.20,45.15 L289.30,52.99 L289.40,62.33 L289.50,72.17 L289.60,81.80 L289.70,90.76 L289.80,98.84 L289.90,105.97 L290.00,112.19 L290.10,117.58 L290.20,122.23 L290.30,126.25 L290.40,129.72 L290.50,132.73 L290.60,135.34 L290.70,137.61 L290.80,139.60 L290.90,141.34 L291.00,142.88 L291.10,144.24 L291.20,145.45 L291.30,146.53 L291.40,147.49 L291.50,148.35 L291.60,149.13 L291.70,149.83 L291.80,150.46 L291.90,151.04 L292.00,151.56 L292.10,152.04 L292.20,152.47 L292.30,152.87 L292.40,153.24 L292.50,153.58 L292.60,153.89 L292.70,154.17 L292.80,154.44 L292.90,154.68 L293.00,154.91 L293.10,155.12 L293.20,155.32 L293.30,155.50 L293.40,155.67 L293.50,155.83 L293.60,155.98 L293.70,156.12 L293.80,156.25 L293.90,156.37 L294.00,156.48 L294.10,156.59 L294.20,156.68 L294.30,156.78 L294.40,156.86 L294.50,156.94 L294.60,157.02 L294.70,157.09 L294.80,157.16 L294.90,157.22 L295.00,157.28 L295.10,157.33 L295.20,157.38 L295.30,157.43 L295.40,157.47 L295.50,157.51 L295.60,157.55 L295.70,157.58 L295.80,157.61 L295.90,157.63 L296.00,157.66 L296.10,157.68 L296.20,157.70 L296.30,157.71 L296.40,157.72 L296.50,157.73 L296.60,157.74 L296.70,157.74 L296.80,157.74 L296.90,157.74 L297.00,157.74 L297.10,157.73 L297.20,157.72 L297.30,157.70 L297.40,157.68 L297.50,157.66 L297.60,157.64 L297.70,157.61 L297.80,157.57 L297.90,157.54 L298.00,157.49 L298.10,157.44 L298.20,157.39 L298.30,157.33 L298.40,157.27 L298.50,157.19 L298.60,157.11 L298.70,157.03 L298.80,156.93 L298.90,156.82 L299.00,156.71 L299.10,156.58 L299.20,156.44 L299.30,156.28 L299.40,156.11 L299.50,155.92 L299.60,155.70 L299.70,155.47 L299.80,155.20 L299.90,154.91 L300.00,154.58 L300.10,154.21 L300.20,153.79 L300.30,153.32 L300.40,152.78 L300.50,152.17 L300.60,151.46 L300.70,150.64 L300.80,149.70 L300.90,148.59 L301.00,147.29 L301.10,145.75 L301.20,143.91 L301.30,141.70 L301.40,139.02 L301.50,135.74 L301.60,131.70 L301.70,126.71 L301.80,120.53 L301.90,112.90 L302.00,103.65 L302.10,92.80 L302.20,80.92 L302.30,69.46 L302.40,60.83 L302.50,57.57 L302.60,60.84 L302.70,69.47 L302.80,80.93 L302.90,92.82 L303.00,103.67 L303.10,112.93 L303.20,120.56 L303.30,126.75 L303.40,131.74 L303.50,135.78 L303.60,139.07 L303.70,141.75 L303.80,143.97 L303.90,145.81 L304.00,147.36 L304.10,148.67 L304.20,149.78 L304.30,150.73 L304.40,151.55 L304.50,152.26 L304.60,152.88 L304.70,153.42 L304.80,153.90 L304.90,154.32 L305.00,154.69 L305.10,155.03 L305.20,155.32 L305.30,155.59 L305.40,155.83 L305.50,156.05 L305.60,156.25 L305.70,156.42 L305.80,156.58 L305.90,156.73 L306.00,156.86 L306.10,156.98 L306.20,157.09 L306.30,157.19 L306.40,157.28 L306.50,157.37 L306.60,157.44 L306.70,157.51 L306.80,157.57 L306.90,157.63 L307.00,157.68 L307.10,157.72 L307.20,157.76 L307.30,157.80 L307.40,157.83 L307.50,157.85 L307.60,157.87 L307.70,157.89 L307.80,157.91 L307.90,157.92 L308.00,157.92 L308.10,157.92 L308.20,157.92 L308.30,157.91 L308.40,157.90 L308.50,157.89 L308.60,157.87 L308.70,157.85 L308.80,157.82 L308.90,157.79 L309.00,157.75 L309.10,157.70 L309.20,157.65 L309.30,157.60 L309.40,157.54 L309.50,157.47 L309.60,157.39 L309.70,157.30 L309.80,157.20 L309.90,157.09 L310.00,156.97 L310.10,156.83 L310.20,156.68 L310.30,156.51 L310.40,156.32 L310.50,156.11 L310.60,155.87 L310.70,155.60 L310.80,155.29 L310.90,154.94 L311.00,154.54 L311.10,154.08 L311.20,153.55 L311.30,152.94 L311.40,152.22 L311.50,151.38 L311.60,150.38 L311.70,149.19 L311.80,147.75 L311.90,146.02 L312.00,143.89 L312.10,141.28 L312.20,138.06 L312.30,134.06 L312.40,129.14 L312.50,123.16 L312.60,116.15 L312.70,108.48 L312.80,101.08 L312.90,95.51 L313.00,93.39 L313.10,95.48 L313.20,101.04 L313.30,108.41 L313.40,116.05 L313.50,123.03 L313.60,128.99 L313.70,133.89 L313.80,137.85 L313.90,141.05 L314.00,143.64 L314.10,145.73 L314.20,147.44 L314.30,148.84 L314.40,150.00 L314.50,150.97 L314.60,151.78 L314.70,152.47 L314.80,153.05 L314.90,153.54 L315.00,153.96 L315.10,154.32 L315.20,154.62 L315.30,154.89 L315.40,155.11 L315.50,155.30 L315.60,155.46 L315.70,155.59 L315.80,155.70 L315.90,155.79 L316.00,155.86 L316.10,155.90 L316.20,155.93 L316.30,155.94 L316.40,155.93 L316.50,155.91 L316.60,155.86 L316.70,155.80 L316.80,155.71 L316.90,155.60 L317.00,155.47 L317.10,155.31 L317.20,155.12 L317.30,154.89 L317.40,154.62 L317.50,154.30 L317.60,153.92 L317.70,153.47 L317.80,152.93 L317.90,152.29 L318.00,151.51 L318.10,150.56 L318.20,149.41 L318.30,147.99 L318.40,146.23 L318.50,144.06 L318.60,141.38 L318.70,138.14 L318.80,134.33 L318.90,130.17 L319.00,126.14 L319.10,123.10 L319.20,121.93 L319.30,123.02 L319.40,125.99 L319.50,129.93 L319.60,134.01 L319.70,137.74 L319.80,140.90 L319.90,143.50 L320.00,145.59 L320.10,147.26 L320.20,148.60 L320.30,149.67 L320.40,150.52 L320.50,151.21 L320.60,151.77 L320.70,152.21 L320.80,152.56 L320.90,152.84 L321.00,153.06 L321.10,153.22 L321.20,153.33 L321.30,153.41 L321.40,153.44 L321.50,153.43 L321.60,153.39 L321.70,153.32 L321.80,153.20 L321.90,153.05 L322.00,152.85 L322.10,152.61 L322.20,152.31 L322.30,151.94 L322.40,151.49 L322.50,150.95 L322.60,150.29 L322.70,149.47 L322.80,148.48 L322.90,147.25 L323.00,145.72 L323.10,143.85 L323.20,141.59 L323.30,138.93 L323.40,136.03 L323.50,133.23 L323.60,131.09 L323.70,130.25 L323.80,130.96 L323.90,132.96 L324.00,135.63 L324.10,138.40 L324.20,140.92 L324.30,143.06 L324.40,144.80 L324.50,146.19 L324.60,147.29 L324.70,148.16 L324.80,148.84 L324.90,149.38 L325.00,149.79 L325.10,150.12 L325.20,150.37 L325.30,150.55 L325.40,150.68 L325.50,150.76 L325.60,150.80 L325.70,150.80 L325.80,150.77 L325.90,150.70 L326.00,150.60 L326.10,150.45 L326.20,150.27 L326.30,150.04 L326.40,149.75 L326.50,149.41 L326.60,148.98 L326.70,148.46 L326.80,147.82 L326.90,147.04 L327.00,146.07 L327.10,144.88 L327.20,143.44 L327.30,141.76 L327.40,139.93 L327.50,138.15 L327.60,136.79 L327.70,136.24 L327.80,136.65 L327.90,137.87 L328.00,139.50 L328.10,141.20 L328.20,142.74 L328.30,144.03 L328.40,145.08 L328.50,145.90 L328.60,146.54 L328.70,147.03 L328.80,147.40 L328.90,147.67 L329.00,147.86 L329.10,147.97 L329.20,148.03 L329.30,148.02 L329.40,147.97 L329.50,147.85 L329.60,147.67 L329.70,147.43 L329.80,147.10 L329.90,146.68 L330.00,146.14 L330.10,145.47 L330.20,144.66 L330.30,143.70 L330.40,142.64 L330.50,141.61 L330.60,140.83 L330.70,140.53 L330.80,140.81 L330.90,141.56 L331.00,142.56 L331.10,143.59 L331.20,144.53 L331.30,145.32 L331.40,145.96 L331.50,146.47 L331.60,146.87 L331.70,147.17 L331.80,147.40 L331.90,147.57 L332.00,147.68 L332.10,147.75 L332.20,147.78 L332.30,147.76 L332.40,147.71 L332.50,147.60 L332.60,147.44 L332.70,147.23 L332.80,146.94 L332.90,146.56 L333.00,146.09 L333.10,145.53 L333.20,144.91 L333.30,144.31 L333.40,143.85 L333.50,143.69 L333.60,143.87 L333.70,144.33 L333.80,144.95 L333.90,145.59 L334.00,146.17 L334.10,146.65 L334.20,147.05 L334.30,147.36 L334.40,147.60 L334.50,147.78 L334.60,147.92 L334.70,148.01 L334.80,148.06 L334.90,148.08 L335.00,148.06 L335.10,147.99 L335.20,147.89 L335.30,147.74 L335.40,147.52 L335.50,147.25 L335.60,146.92 L335.70,146.54 L335.80,146.18 L335.90,145.91 L336.00,145.82 L336.10,145.95 L336.20,146.26 L336.30,146.67 L336.40,147.09 L336.50,147.47 L336.60,147.80 L336.70,148.06 L336.80,148.26 L336.90,148.42 L337.00,148.54 L337.10,148.63 L337.20,148.68 L337.30,148.70 L337.40,148.69 L337.50,148.65 L337.60,148.57 L337.70,148.44 L337.80,148.27 L337.90,148.06 L338.00,147.81 L338.10,147.57 L338.20,147.40 L338.30,147.36 L338.40,147.49 L338.50,147.75 L338.60,148.08 L338.70,148.42 L338.80,148.74 L338.90,149.01 L339.00,149.24 L339.10,149.44 L339.20,149.60 L339.30,149.74 L339.40,149.86 L339.50,149.96 L339.60,150.05 L339.70,150.13 L339.80,150.21 L339.90,150.28 L340.00,150.34 L340.10,150.40 L340.20,150.45 L340.30,150.51 L340.40,150.56 L340.50,150.60 L340.60,150.65 L340.70,150.70 L340.80,150.74 L340.90,150.78 L341.00,150.83 L341.10,150.87 L341.20,150.91 L341.30,150.95 L341.40,150.99 L341.50,151.03 L341.60,151.07 L341.70,151.10 L341.80,151.14 L341.90,151.18 L342.00,151.22 L342.10,151.26 L342.20,151.29 L342.30,151.33 L342.40,151.37 L342.50,151.40 L342.60,151.44 L342.70,151.48 L342.80,151.51 L342.90,151.55 L343.00,151.59 L343.10,151.62 L343.20,151.66 L343.30,151.70 L343.40,151.73 L343.50,151.77 L343.60,151.81 L343.70,151.84 L343.80,151.88 L343.90,151.92 L344.00,151.95 L344.10,151.99 L344.20,152.03 L344.30,152.07 L344.40,152.11 L344.50,152.15 L344.60,152.19 L344.70,152.22 L344.80,152.26 L344.90,152.30 L345.00,152.34 L345.10,152.38 L345.20,152.42 L345.30,152.46 L345.40,152.50 L345.50,152.54 L345.60,152.58 L345.70,152.62 L345.80,152.66 L345.90,152.70 L346.00,152.74 L346.10,152.78 L346.20,152.81 L346.30,152.85 L346.40,152.89 L346.50,152.93 L346.60,152.97 L346.70,153.01 L346.80,153.05 L346.90,153.09 L347.00,153.13 L347.10,153.17 L347.20,153.21 L347.30,153.25 L347.40,153.29 L347.50,153.33 L347.60,153.37 L347.70,153.41 L347.80,153.45 L347.90,153.49 L348.00,153.53 L348.10,153.57 L348.20,153.61 L348.30,153.65 L348.40,153.68 L348.50,153.72 L348.60,153.76 L348.70,153.80 L348.80,153.84 L348.90,153.88 L349.00,153.92 L349.10,153.96 L349.20,154.00 L349.30,154.04 L349.40,154.08 L349.50,154.12 L349.60,154.16 L349.70,154.20 L349.80,154.24 L349.90,154.28 L350.00,154.32 L350.10,154.36 L350.20,154.40 L350.30,154.44 L350.40,154.48 L350.50,154.52 L350.60,154.56 L350.70,154.60 L350.80,154.64 L350.90,154.68 L351.00,154.72 L351.10,154.76 L351.20,154.80 L351.30,154.80 L351.40,154.81 L351.50,154.81 L351.60,154.82 L351.70,154.82 L351.80,154.83 L351.90,154.83 L352.00,154.83 L352.10,154.84 L352.20,154.84 L352.30,154.85 L352.40,154.85 L352.50,154.86 L352.60,154.86 L352.70,154.87 L352.80,154.87 L352.90,154.88 L353.00,154.88 L353.10,154.89 L353.20,154.89 L353.30,154.90 L353.40,154.90 L353.50,154.90 L353.60,154.91 L353.70,154.91 L353.80,154.92 L353.90,154.92 L354.00,154.93 L354.10,154.93 L354.20,154.94 L354.30,154.94 L354.40,154.95 L354.50,154.95 L354.60,154.96 L354.70,154.96 L354.80,154.97 L354.90,154.97 L355.00,154.97 L355.10,154.98 L355.20,154.98 L355.30,154.99 L355.40,154.99 L355.50,155.00 L355.60,155.00 L355.70,155.01 L355.80,155.01 L355.90,155.02 L356.00,155.02 L356.10,155.03 L356.20,155.03 L356.30,155.03 L356.40,155.04 L356.50,155.04 L356.60,155.05 L356.70,155.05 L356.80,155.06 L356.90,155.06 L357.00,155.07 L357.10,155.07 L357.20,155.08 L357.30,155.08 L357.40,155.09 L357.50,155.09 L357.60,155.09 L357.70,155.10 L357.80,155.10 L357.90,155.11 L358.00,155.11 L358.10,155.12 L358.20,155.12 L358.30,155.11 L358.40,155.09 L358.50,155.08 L358.60,155.07 L358.70,155.05 L358.80,155.04 L358.90,155.03 L359.00,155.01 L359.10,155.00 L359.20,154.98 L359.30,154.97 L359.40,154.96 L359.50,154.94 L359.60,154.93 L359.70,154.92 L359.80,154.90 L359.90,154.89 L360.00,154.87 L360.10,154.86 L360.20,154.85 L360.30,154.83 L360.40,154.82 L360.50,154.80 L360.60,154.79 L360.70,154.78 L360.80,154.76 L360.90,154.75 L361.00,154.74 L361.10,154.72 L361.20,154.71 L361.30,154.69 L361.40,154.68 L361.50,154.67 L361.60,154.65 L361.70,154.64 L361.80,154.62 L361.90,154.61 L362.00,154.60 L362.10,154.58 L362.20,154.57 L362.30,154.56 L362.40,154.54 L362.50,154.53 L362.60,154.51 L362.70,154.50 L362.80,154.49 L362.90,154.47 L363.00,154.46 L363.10,154.44 L363.20,154.43 L363.30,154.42 L363.40,154.40 L363.50,154.39 L363.60,154.38 L363.70,154.36 L363.80,154.35 L363.90,154.33 L364.00,154.32 L364.10,154.31 L364.20,154.29 L364.30,154.28 L364.40,154.26 L364.50,154.25 L364.60,154.24 L364.70,154.22 L364.80,154.21 L364.90,154.20 L365.00,154.18 L365.10,154.17 L365.20,154.15 L365.30,154.14 L365.40,154.12 L365.50,154.10 L365.60,154.08 L365.70,154.06 L365.80,154.04 L365.90,154.02 L366.00,154.00 L366.10,153.98 L366.20,153.96 L366.30,153.94 L366.40,153.92 L366.50,153.90 L366.60,153.88 L366.70,153.86 L366.80,153.84 L366.90,153.82 L367.00,153.80 L367.10,153.78 L367.20,153.76 L367.30,153.74 L367.40,153.72 L367.50,153.70 L367.60,153.68 L367.70,153.66 L367.80,153.64 L367.90,153.62 L368.00,153.61 L368.10,153.59 L368.20,153.57 L368.30,153.55 L368.40,153.53 L368.50,153.51 L368.60,153.49 L368.70,153.47 L368.80,153.45 L368.90,153.43 L369.00,153.41 L369.10,153.39 L369.20,153.37 L369.30,153.35 L369.40,153.33 L369.50,153.31 L369.60,153.29 L369.70,153.27 L369.80,153.25 L369.90,153.23 L370.00,153.21 L370.10,153.19 L370.20,153.17 L370.30,153.15 L370.40,153.13 L370.50,153.11 L370.60,153.09 L370.70,153.07 L370.80,153.05 L370.90,153.03 L371.00,153.01 L371.10,152.99 L371.20,152.97 L371.30,152.95 L371.40,152.93 L371.50,152.91 L371.60,152.89 L371.70,152.87 L371.80,152.85 L371.90,152.83 L372.00,152.81 L372.10,152.79 L372.20,152.77 L372.30,152.75 L372.40,152.75 L372.50,152.74 L372.60,152.74 L372.70,152.73 L372.80,152.73 L372.90,152.72 L373.00,152.72 L373.10,152.71 L373.20,152.71 L373.30,152.70 L373.40,152.70 L373.50,152.69 L373.60,152.69 L373.70,152.68 L373.80,152.68 L373.90,152.67 L374.00,152.67 L374.10,152.67 L374.20,152.66 L374.30,152.66 L374.40,152.65 L374.50,152.65 L374.60,152.64 L374.70,152.64 L374.80,152.63 L374.90,152.63 L375.00,152.62 L375.10,152.62 L375.20,152.61 L375.30,152.61 L375.40,152.60 L375.50,152.60 L375.60,152.59 L375.70,152.59 L375.80,152.58 L375.90,152.58 L376.00,152.57 L376.10,152.57 L376.20,152.56 L376.30,152.56 L376.40,152.55 L376.50,152.55 L376.60,152.54 L376.70,152.54 L376.80,152.53 L376.90,152.53 L377.00,152.52 L377.10,152.52 L377.20,152.51 L377.30,152.51 L377.40,152.51 L377.50,152.50 L377.60,152.50 L377.70,152.49 L377.80,152.49 L377.90,152.48 L378.00,152.48 L378.10,152.47 L378.20,152.47 L378.30,152.46 L378.40,152.46 L378.50,152.45 L378.60,152.45 L378.70,152.44 L378.80,152.44 L378.90,152.43 L379.00,152.43 L379.10,152.42 L379.20,152.42 L379.30,152.41 L379.40,152.41 L379.50,152.40 L379.60,152.40 L379.70,152.39 L379.80,152.39 L379.90,152.38 L380.00,152.38 L380.10,152.37 L380.20,152.37 L380.30,152.36 L380.40,152.36 L380.50,152.35 L380.60,152.35 L380.70,152.34 L380.80,152.34 L380.90,152.34 L381.00,152.33 L381.10,152.33 L381.20,152.32 L381.30,152.32 L381.40,152.31 L381.50,152.31 L381.60,152.30 L381.70,152.30 L381.80,152.29 L381.90,152.29 L382.00,152.28 L382.10,152.28 L382.20,152.27 L382.30,152.27 L382.40,152.26 L382.50,152.26 L382.60,152.25 L382.70,152.25 L382.80,152.24 L382.90,152.24 L383.00,152.23 L383.10,152.23 L383.20,152.22 L383.30,152.22 L383.40,152.21 L383.50,152.21 L383.60,152.20 L383.70,152.20 L383.80,152.19 L383.90,152.19 L384.00,152.18 L384.10,152.18 L384.20,152.17 L384.30,152.17 L384.40,152.16 L384.50,152.16 L384.60,152.15 L384.70,152.15 L384.80,152.15 L384.90,152.14 L385.00,152.14 L385.10,152.13 L385.20,152.13 L385.30,152.12 L385.40,152.12 L385.50,152.11 L385.60,152.11 L385.70,152.10 L385.80,152.10 L385.90,152.09 L386.00,152.09 L386.10,152.08 L386.20,152.08 L386.30,152.07 L386.40,152.07 L386.50,152.06 L386.60,152.06 L386.70,152.06 L386.80,152.06 L386.90,152.05 L387.00,152.05 L387.10,152.05 L387.20,152.04 L387.30,152.04 L387.40,152.04 L387.50,152.04 L387.60,152.03 L387.70,152.03 L387.80,152.03 L387.90,152.02 L388.00,152.02 L388.10,152.02 L388.20,152.02 L388.30,152.01 L388.40,152.01 L388.50,152.01 L388.60,152.00 L388.70,152.00 L388.80,152.00 L388.90,152.00 L389.00,151.99 L389.10,151.99 L389.20,151.99 L389.30,151.98 L389.40,151.98 L389.50,151.98 L389.60,151.98 L389.70,151.97 L389.80,151.97 L389.90,151.97 L390.00,151.96 L390.10,151.96 L390.20,151.96 L390.30,151.96 L390.40,151.95 L390.50,151.95 L390.60,151.95 L390.70,151.94 L390.80,151.94 L390.90,151.94 L391.00,151.93 L391.10,151.93 L391.20,151.93 L391.30,151.93 L391.40,151.92 L391.50,151.92 L391.60,151.92 L391.70,151.91 L391.80,151.91 L391.90,151.91 L392.00,151.91 L392.10,151.90 L392.20,151.90 L392.30,151.90 L392.40,151.89 L392.50,151.89 L392.60,151.89 L392.70,151.89 L392.80,151.88 L392.90,151.88 L393.00,151.88 L393.10,151.87 L393.20,151.87 L393.30,151.87 L393.40,151.87 L393.50,151.86 L393.60,151.86 L393.70,151.86 L393.80,151.85 L393.90,151.85 L394.00,151.85 L394.10,151.85 L394.20,151.84 L394.30,151.84 L394.40,151.84 L394.50,151.83 L394.60,151.83 L394.70,151.83 L394.80,151.83 L394.90,151.82 L395.00,151.82 L395.10,151.82 L395.20,151.81 L395.30,151.81 L395.40,151.81 L395.50,151.81 L395.60,151.80 L395.70,151.80 L395.80,151.80 L395.90,151.79 L396.00,151.79 L396.10,151.79 L396.20,151.79 L396.30,151.78 L396.40,151.78 L396.50,151.78 L396.60,151.77 L396.70,151.77 L396.80,151.77 L396.90,151.76 L397.00,151.76 L397.10,151.76 L397.20,151.76 L397.30,151.75 L397.40,151.75 L397.50,151.75 L397.60,151.74 L397.70,151.74 L397.80,151.74 L397.90,151.74 L398.00,151.73 L398.10,151.73 L398.20,151.73 L398.30,151.72 L398.40,151.72 L398.50,151.72 L398.60,151.72 L398.70,151.71 L398.80,151.71 L398.90,151.71 L399.00,151.70 L399.10,151.70 L399.20,151.70 L399.30,151.70 L399.40,151.69 L399.50,151.69 L399.60,151.69 L399.70,151.68 L399.80,151.68 L399.90,151.68 L400.00,151.68 L400.10,151.67 L400.20,151.67 L400.30,151.67 L400.40,151.67 L400.50,151.67 L400.60,151.66 L400.70,151.66 L400.80,151.66 L400.90,151.66 L401.00,151.66 L401.10,151.65 L401.20,151.65 L401.30,151.65 L401.40,151.65 L401.50,151.65 L401.60,151.65 L401.70,151.64 L401.80,151.64 L401.90,151.64 L402.00,151.64 L402.10,151.64 L402.20,151.63 L402.30,151.63 L402.40,151.63 L402.50,151.63 L402.60,151.63 L402.70,151.62 L402.80,151.62 L402.90,151.62 L403.00,151.62 L403.10,151.62 L403.20,151.61 L403.30,151.61 L403.40,151.61 L403.50,151.61 L403.60,151.61 L403.70,151.61 L403.80,151.60 L403.90,151.60 L404.00,151.60 L404.10,151.60 L404.20,151.60 L404.30,151.59 L404.40,151.59 L404.50,151.59 L404.60,151.59 L404.70,151.59 L404.80,151.58 L404.90,151.58 L405.00,151.58 L405.10,151.58 L405.20,151.58 L405.30,151.57 L405.40,151.57 L405.50,151.57 L405.60,151.57 L405.70,151.57 L405.80,151.57 L405.90,151.56 L406.00,151.56 L406.10,151.56 L406.20,151.56 L406.30,151.56 L406.40,151.55 L406.50,151.55 L406.60,151.55 L406.70,151.55 L406.80,151.55 L406.90,151.54 L407.00,151.54 L407.10,151.54 L407.20,151.54 L407.30,151.54 L407.40,151.54 L407.50,151.53 L407.60,151.53 L407.70,151.53 L407.80,151.53 L407.90,151.53 L408.00,151.52 L408.10,151.52 L408.20,151.52 L408.30,151.52 L408.40,151.52 L408.50,151.51 L408.60,151.51 L408.70,151.51 L408.80,151.51 L408.90,151.51 L409.00,151.50 L409.10,151.50 L409.20,151.50 L409.30,151.50 L409.40,151.50 L409.50,151.50 L409.60,151.49 L409.70,151.49 L409.80,151.49 L409.90,151.49 L410.00,151.49 L410.10,151.48 L410.20,151.48 L410.30,151.48 L410.40,151.48 L410.50,151.48 L410.60,151.47 L410.70,151.47 L410.80,151.47 L410.90,151.47 L411.00,151.47 L411.10,151.46 L411.20,151.46 L411.30,151.46 L411.40,151.46 L411.50,151.46 L411.60,151.46 L411.70,151.45 L411.80,151.45 L411.90,151.45 L412.00,151.45 L412.10,151.45 L412.20,151.44 L412.30,151.44 L412.40,151.44 L412.50,151.44 L412.60,151.44 L412.70,151.43 L412.80,151.43 L412.90,151.43 L413.00,151.43 L413.10,151.43 L413.20,151.42 L413.30,151.42 L413.40,151.42 L413.50,151.42 L413.60,151.42 L413.70,151.42 L413.80,151.41 L413.90,151.41 L414.00,151.41 L414.10,151.41 L414.20,151.41 L414.30,151.40 L414.40,151.40 L414.50,151.40 L414.60,151.40 L414.70,151.40 L414.80,151.39 L414.90,151.39 L415.00,151.39 L415.10,151.39 L415.20,151.39 L415.30,151.38 L415.40,151.38 L415.50,151.38 L415.60,151.38 L415.70,151.38 L415.80,151.37 L415.90,151.37 L416.00,151.37 L416.10,151.37 L416.20,151.37 L416.30,151.37 L416.40,151.36 L416.50,151.36 L416.60,151.36 L416.70,151.36 L416.80,151.36 L416.90,151.35 L417.00,151.35 L417.10,151.35 L417.20,151.35 L417.30,151.35 L417.40,151.34 L417.50,151.34 L417.60,151.34 L417.70,151.34 L417.80,151.34 L417.90,151.33 L418.00,151.33 L418.10,151.33 L418.20,151.33 L418.30,151.33 L418.40,151.33 L418.50,151.32 L418.60,151.32 L418.70,151.32 L418.80,151.32 L418.90,151.32 L419.00,151.31 L419.10,151.31 L419.20,151.31 L419.30,151.31 L419.40,151.31 L419.50,151.30 L419.60,151.30 L419.70,151.30 L419.80,151.30 L419.90,151.30 L420.00,151.29 L420.10,151.29 L420.20,151.29 L420.30,151.29 L420.40,151.29 L420.50,151.29 L420.60,151.28 L420.70,151.28 L420.80,151.28 L420.90,151.28 L421.00,151.28 L421.10,151.27 L421.20,151.27 L421.30,151.27 L421.40,151.27 L421.50,151.27 L421.60,151.26 L421.70,151.26 L421.80,151.26 L421.90,151.26 L422.00,151.26 L422.10,151.25 L422.20,151.25 L422.30,151.25 L422.40,151.25 L422.50,151.25 L422.60,151.24 L422.70,151.24 L422.80,151.24 L422.90,151.24 L423.00,151.24 L423.10,151.24 L423.20,151.23 L423.30,151.23 L423.40,151.23 L423.50,151.23 L423.60,151.23 L423.70,151.22 L423.80,151.22 L423.90,151.22 L424.00,151.22 L424.10,151.22 L424.20,151.21 L424.30,151.21 L424.40,151.21 L424.50,151.21 L424.60,151.21 L424.70,151.20 L424.80,151.20 L424.90,151.20 L425.00,151.20 L425.10,151.20 L425.20,151.20 L425.30,151.19 L425.40,151.19 L425.50,151.19 L425.60,151.19 L425.70,151.19 L425.80,151.18 L425.90,151.18 L426.00,151.18 L426.10,151.18 L426.20,151.18 L426.30,151.17 L426.40,151.17 L426.50,151.17 L426.60,151.17 L426.70,151.17 L426.80,151.16 L426.90,151.16 L427.00,151.16 L427.10,151.16 L427.20,151.16 L427.30,151.15 L427.40,151.15 L427.50,151.15 L427.60,151.15 L427.70,151.15 L427.80,151.15 L427.90,151.14 L428.00,151.14 L428.10,151.14 L428.20,151.14 L428.30,151.14 L428.40,151.13 L428.50,151.13 L428.60,151.13 L428.70,151.13 L428.80,151.13 L428.90,151.12 L429.00,151.12 L429.10,151.12 L429.20,151.12 L429.30,151.12 L429.40,151.11 L429.50,151.11 L429.60,151.11 L429.70,151.11 L429.80,151.11 L429.90,151.11 L430.00,151.10 L430.10,151.10 L430.20,151.10 L430.30,151.10 L430.40,151.10 L430.50,151.09 L430.60,151.09 L430.70,151.09 L430.80,151.09 L430.90,151.09 L431.00,151.08 L431.10,151.08 L431.20,151.08 L431.30,151.08 L431.40,151.08 L431.50,151.07 L431.60,151.07 L431.70,151.07 L431.80,151.07 L431.90,151.07 L432.00,151.06 L432.10,151.06 L432.20,151.06 L432.30,151.06 L432.40,151.06 L432.50,151.06 L432.60,151.05 L432.70,151.05 L432.80,151.05 L432.90,151.05 L433.00,151.05 L433.10,151.04 L433.20,151.04 L433.30,151.04 L433.40,151.04 L433.50,151.04 L433.60,151.03 L433.70,151.03 L433.80,151.03 L433.90,151.03 L434.00,151.03 L434.10,151.02 L434.20,151.02 L434.30,151.02 L434.40,151.02 L434.50,151.02 L434.60,151.01 L434.70,151.01 L434.80,151.01 L434.90,151.01 L435.00,151.01 L435.10,151.01 L435.20,151.00 L435.30,151.00 L435.40,151.00 L435.50,151.00 L435.60,151.00 L435.70,150.99 L435.80,150.99 L435.90,150.99 L436.00,150.99 L436.10,150.99 L436.20,150.98 L436.30,150.98 L436.40,150.98 L436.50,150.98 L436.60,150.98 L436.70,150.97 L436.80,150.97 L436.90,150.97 L437.00,150.97 L437.10,150.97 L437.20,150.96 L437.30,150.96 L437.40,150.96 L437.50,150.96 L437.60,150.96 L437.70,150.96 L437.80,150.95 L437.90,150.95 L438.00,150.95 L438.10,150.95 L438.20,150.95 L438.30,150.94 L438.40,150.94 L438.50,150.94 L438.60,150.94 L438.70,150.94 L438.80,150.93 L438.90,150.93 L439.00,150.93 L439.10,150.93 L439.20,150.93 L439.30,150.92 L439.40,150.92 L439.50,150.92 L439.60,150.92 L439.70,150.92 L439.80,150.92 L439.90,150.91 L440.00,150.91 L440.10,150.91 L440.20,150.91 L440.30,150.91 L440.40,150.90 L440.50,150.90 L440.60,150.90 L440.70,150.90 L440.80,150.90 L440.90,150.89 L441.00,150.89 L441.10,150.89 L441.20,150.89 L441.30,150.89 L441.40,150.88 L441.50,150.88 L441.60,150.88 L441.70,150.88 L441.80,150.88 L441.90,150.87 L442.00,150.87 L442.10,150.87 L442.20,150.87 L442.30,150.87 L442.40,150.87 L442.50,150.86 L442.60,150.86 L442.70,150.86 L442.80,150.86 L442.90,150.86 L443.00,150.85 L443.10,150.85 L443.20,150.85 L443.30,150.85 L443.40,150.85 L443.50,150.84 L443.60,150.84 L443.70,150.84 L443.80,150.84 L443.90,150.84 L444.00,150.83 L444.10,150.83 L444.20,150.83 L444.30,150.83 L444.40,150.83 L444.50,150.82 L444.60,150.82 L444.70,150.82 L444.80,150.82 L444.90,150.82 L445.00,150.82 L445.10,150.81 L445.20,150.81 L445.30,150.81 L445.40,150.81 L445.50,150.81 L445.60,150.80 L445.70,150.80 L445.80,150.80 L445.90,150.80 L446.00,150.80 L446.10,150.79 L446.20,150.79 L446.30,150.79 L446.40,150.79 L446.50,150.79 L446.60,150.78 L446.70,150.78 L446.80,150.78 L446.90,150.78 L447.00,150.78 L447.10,150.77 L447.20,150.77 L447.30,150.77 L447.40,150.77 L447.50,150.77 L447.60,150.76 L447.70,150.76 L447.80,150.76 L447.90,150.76 L448.00,150.76 L448.10,150.76 L448.20,150.75 L448.30,150.75 L448.40,150.75 L448.50,150.75 L448.60,150.75 L448.70,150.74 L448.80,150.74 L448.90,150.74 L449.00,150.74 L449.10,150.74 L449.20,150.73 L449.30,150.73 L449.40,150.73 L449.50,150.73 L449.60,150.73 L449.70,150.72 L449.80,150.72 L449.90,150.72 L450.00,150.72 L450.10,150.72 L450.20,150.71 L450.30,150.71 L450.40,150.71 L450.50,150.71 L450.60,150.71 L450.70,150.71 L450.80,150.70 L450.90,150.70 L451.00,150.70 L451.10,150.70 L451.20,150.70 L451.30,150.69 L451.40,150.69 L451.50,150.69 L451.60,150.69 L451.70,150.69 L451.80,150.68 L451.90,150.68 L452.00,150.68 L452.10,150.68 L452.20,150.68 L452.30,150.67 L452.40,150.67 L452.50,150.67 L452.60,150.67 L452.70,150.67 L452.80,150.66 L452.90,150.66 L453.00,150.66 L453.10,150.66 L453.20,150.66 L453.30,150.66 L453.40,150.65 L453.50,150.65 L453.60,150.65 L453.70,150.65 L453.80,150.65 L453.90,150.64 L454.00,150.64 L454.10,150.64 L454.20,150.64 L454.30,150.64 L454.40,150.63 L454.50,150.63 L454.60,150.63 L454.70,150.63 L454.80,150.63 L454.90,150.62 L455.00,150.62 L455.10,150.62 L455.20,150.62 L455.30,150.62 L455.40,150.61 L455.50,150.61 L455.60,150.61 L455.70,150.61 L455.80,150.61 L455.90,150.61 L456.00,150.60 L456.10,150.60 L456.20,150.60 L456.30,150.60 L456.40,150.60 L456.50,150.59 L456.60,150.59 L456.70,150.59" stroke="#008000" stroke-dasharray="3.5 1.3 0.75 1.3"/>
<path d="M243.50,159.49 L243.60,159.48 L243.70,159.47 L243.80,159.45 L243.90,159.44 L244.00,159.43 L244.10,159.41 L244.20,159.40 L244.30,159.38 L244.40,159.37 L244.50,159.35 L244.60,159.33 L244.70,159.32 L244.80,159.30 L244.90,159.28 L245.00,159.26 L245.10,159.25 L245.20,159.23 L245.30,159.21 L245.40,159.18 L245.50,159.16 L245.60,159.14 L245.70,159.12 L245.80,159.09 L245.90,159.07 L246.00,159.04 L246.10,159.02 L246.20,158.99 L246.30,158.96 L246.40,158.93 L246.50,158.90 L246.60,158.87 L246.70,158.84 L246.80,158.80 L246.90,158.77 L247.00,158.73 L247.10,158.69 L247.20,158.65 L247.30,158.61 L247.40,158.57 L247.50,158.52 L247.60,158.47 L247.70,158.42 L247.80,158.37 L247.90,158.32 L248.00,158.26 L248.10,158.20 L248.20,158.14 L248.30,158.08 L248.40,158.01 L248.50,157.94 L248.60,157.86 L248.70,157.78 L248.80,157.70 L248.90,157.61 L249.00,157.52 L249.10,157.42 L249.20,157.32 L249.30,157.21 L249.40,157.10 L249.50,156.97 L249.60,156.84 L249.70,156.71 L249.80,156.56 L249.90,156.40 L250.00,156.23 L250.10,156.06 L250.20,155.86 L250.30,155.66 L250.40,155.44 L250.50,155.20 L250.60,154.95 L250.70,154.67 L250.80,154.37 L250.90,154.05 L251.00,153.69 L251.10,153.31 L251.20,152.89 L251.30,152.43 L251.40,151.92 L251.50,151.37 L251.60,150.75 L251.70,150.07 L251.80,149.31 L251.90,148.46 L252.00,147.51 L252.10,146.43 L252.20,145.22 L252.30,143.83 L252.40,142.24 L252.50,140.41 L252.60,138.29 L252.70,135.80 L252.80,132.87 L252.90,129.38 L253.00,125.18 L253.10,120.08 L253.20,113.79 L253.30,105.93 L253.40,95.95 L253.50,83.03 L253.60,65.97 L253.70,42.91 L253.80,15.17 L253.90,15.17 L254.00,15.17 L254.10,15.17 L254.20,15.17 L254.30,15.17 L254.40,15.17 L254.50,15.17 L254.60,15.17 L254.70,15.17 L254.80,15.17 L254.90,15.17 L255.00,15.17 L255.10,15.17 L255.20,42.88 L255.30,65.94 L255.40,82.99 L255.50,95.91 L255.60,105.88 L255.70,113.74 L255.80,120.02 L255.90,125.13 L256.00,129.32 L256.10,132.80 L256.20,135.73 L256.30,138.21 L256.40,140.34 L256.50,142.16 L256.60,143.75 L256.70,145.13 L256.80,146.34 L256.90,147.41 L257.00,148.36 L257.10,149.20 L257.20,149.96 L257.30,150.64 L257.40,151.25 L257.50,151.80 L257.60,152.30 L257.70,152.76 L257.80,153.17 L257.90,153.55 L258.00,153.90 L258.10,154.22 L258.20,154.51 L258.30,154.79 L258.40,155.04 L258.50,155.27 L258.60,155.49 L258.70,155.69 L258.80,155.87 L258.90,156.05 L259.00,156.21 L259.10,156.36 L259.20,156.50 L259.30,156.64 L259.40,156.76 L259.50,156.88 L259.60,156.99 L259.70,157.09 L259.80,157.19 L259.90,157.28 L260.00,157.37 L260.10,157.45 L260.20,157.52 L260.30,157.60 L260.40,157.67 L260.50,157.73 L260.60,157.79 L260.70,157.85 L260.80,157.91 L260.90,157.96 L261.00,158.01 L261.10,158.05 L261.20,158.10 L261.30,158.14 L261.40,158.18 L261.50,158.22 L261.60,158.25 L261.70,158.29 L261.80,158.32 L261.90,158.35 L262.00,158.38 L262.10,158.41 L262.20,158.43 L262.30,158.46 L262.40,158.48 L262.50,158.50 L262.60,158.52 L262.70,158.54 L262.80,158.56 L262.90,158.57 L263.00,158.59 L263.10,158.60 L263.20,158.61 L263.30,158.63 L263.40,158.64 L263.50,158.65 L263.60,158.66 L263.70,158.66 L263.80,158.67 L263.90,158.68 L264.00,158.68 L264.10,158.69 L264.20,158.69 L264.30,158.69 L264.40,158.69 L264.50,158.70 L264.60,158.70 L264.70,158.69 L264.80,158.69 L264.90,158.69 L265.00,158.69 L265.10,158.68 L265.20,158.67 L265.30,158.67 L265.40,158.66 L265.50,158.65 L265.60,158.64 L265.70,158.63 L265.80,158.62 L265.90,158.61 L266.00,158.59 L266.10,158.58 L266.20,158.56 L266.30,158.54 L266.40,158.53 L266.50,158.51 L266.60,158.48 L266.70,158.46 L266.80,158.44 L266.90,158.41 L267.00,158.38 L267.10,158.35 L267.20,158.32 L267.30,158.29 L267.40,158.26 L267.50,158.22 L267.60,158.18 L267.70,158.14 L267.80,158.10 L267.90,158.05 L268.00,158.00 L268.10,157.95 L268.20,157.89 L268.30,157.83 L268.40,157.77 L268.50,157.71 L268.60,157.64 L268.70,157.56 L268.80,157.48 L268.90,157.40 L269.00,157.31 L269.10,157.21 L269.20,157.11 L269.30,157.00 L269.40,156.89 L269.50,156.76 L269.60,156.63 L269.70,156.48 L269.80,156.33 L269.90,156.17 L270.00,155.99 L270.10,155.79 L270.20,155.59 L270.30,155.36 L270.40,155.11 L270.50,154.85 L270.60,154.56 L270.70,154.24 L270.80,153.89 L270.90,153.50 L271.00,153.08 L271.10,152.61 L271.20,152.09 L271.30,151.51 L271.40,150.87 L271.50,150.14 L271.60,149.32 L271.70,148.39 L271.80,147.33 L271.90,146.12 L272.00,144.72 L272.10,143.10 L272.20,141.20 L272.30,138.96 L272.40,136.29 L272.50,133.08 L272.60,129.18 L272.70,124.38 L272.80,118.37 L272.90,110.74 L273.00,100.87 L273.10,87.83 L273.20,70.20 L273.30,45.75 L273.40,28.18 L273.50,16.50 L273.60,15.17 L273.70,15.17 L273.80,15.17 L273.90,15.17 L274.00,15.17 L274.10,15.17 L274.20,15.17 L274.30,15.17 L274.40,16.46 L274.50,28.13 L274.60,45.72 L274.70,70.17 L274.80,87.79 L274.90,100.83 L275.00,110.69 L275.10,118.32 L275.20,124.32 L275.30,129.12 L275.40,133.02 L275.50,136.22 L275.60,138.88 L275.70,141.12 L275.80,143.01 L275.90,144.63 L276.00,146.03 L276.10,147.23 L276.20,148.29 L276.30,149.21 L276.40,150.03 L276.50,150.75 L276.60,151.39 L276.70,151.96 L276.80,152.48 L276.90,152.94 L277.00,153.36 L277.10,153.73 L277.20,154.08 L277.30,154.39 L277.40,154.67 L277.50,154.93 L277.60,155.17 L277.70,155.39 L277.80,155.59 L277.90,155.78 L278.00,155.95 L278.10,156.11 L278.20,156.26 L278.30,156.39 L278.40,156.52 L278.50,156.63 L278.60,156.74 L278.70,156.84 L278.80,156.93 L278.90,157.02 L279.00,157.10 L279.10,157.17 L279.20,157.24 L279.30,157.30 L279.40,157.36 L279.50,157.42 L279.60,157.47 L279.70,157.51 L279.80,157.56 L279.90,157.60 L280.00,157.63 L280.10,157.66 L280.20,157.69 L280.30,157.72 L280.40,157.74 L280.50,157.76 L280.60,157.78 L280.70,157.80 L280.80,157.81 L280.90,157.82 L281.00,157.83 L281.10,157.83 L281.20,157.83 L281.30,157.83 L281.40,157.83 L281.50,157.83 L281.60,157.82 L281.70,157.81 L281.80,157.80 L281.90,157.79 L282.00,157.77 L282.10,157.75 L282.20,157.73 L282.30,157.71 L282.40,157.68 L282.50,157.65 L282.60,157.62 L282.70,157.58 L282.80,157.54 L282.90,157.50 L283.00,157.45 L283.10,157.40 L283.20,157.35 L283.30,157.29 L283.40,157.23 L283.50,157.16 L283.60,157.09 L283.70,157.01 L283.80,156.93 L283.90,156.84 L284.00,156.75 L284.10,156.65 L284.20,156.54 L284.30,156.43 L284.40,156.30 L284.50,156.17 L284.60,156.03 L284.70,155.87 L284.80,155.71 L284.90,155.53 L285.00,155.34 L285.10,155.14 L285.20,154.91 L285.30,154.67 L285.40,154.41 L285.50,154.13 L285.60,153.82 L285.70,153.49 L285.80,153.13 L285.90,152.73 L286.00,152.29 L286.10,151.81 L286.20,151.29 L286.30,150.71 L286.40,150.07 L286.50,149.36 L286.60,148.57 L286.70,147.68 L286.80,146.70 L286.90,145.59 L287.00,144.34 L287.10,142.93 L287.20,141.33 L287.30,139.50 L287.40,137.41 L287.50,135.01 L287.60,132.25 L287.70,129.06 L287.80,125.37 L287.90,121.09 L288.00,116.14 L288.10,110.42 L288.20,103.86 L288.30,96.43 L288.40,88.19 L288.50,79.34 L288.60,70.29 L288.70,61.70 L288.80,54.49 L288.90,49.63 L289.00,47.91 L289.10,49.63 L289.20,54.50 L289.30,61.71 L289.40,70.30 L289.50,79.36 L289.60,88.22 L289.70,96.47 L289.80,103.90 L289.90,110.46 L290.00,116.19 L290.10,121.15 L290.20,125.43 L290.30,129.13 L290.40,132.32 L290.50,135.09 L290.60,137.49 L290.70,139.58 L290.80,141.41 L290.90,143.02 L291.00,144.43 L291.10,145.69 L291.20,146.80 L291.30,147.79 L291.40,148.68 L291.50,149.47 L291.60,150.18 L291.70,150.83 L291.80,151.41 L291.90,151.94 L292.00,152.42 L292.10,152.85 L292.20,153.25 L292.30,153.62 L292.40,153.95 L292.50,154.26 L292.60,154.54 L292.70,154.80 L292.80,155.04 L292.90,155.25 L293.00,155.46 L293.10,155.64 L293.20,155.81 L293.30,155.96 L293.40,156.10 L293.50,156.23 L293.60,156.35 L293.70,156.45 L293.80,156.54 L293.90,156.62 L294.00,156.68 L294.10,156.73 L294.20,156.76 L294.30,156.78 L294.40,156.78 L294.50,156.75 L294.60,156.70 L294.70,156.62 L294.80,156.50 L294.90,156.32 L295.00,156.08 L295.10,155.28 L295.20,154.36 L295.30,153.28 L295.40,151.97 L295.50,150.35 L295.60,148.33 L295.70,145.87 L295.80,143.11 L295.90,140.62 L296.00,139.34 L296.10,139.77 L296.20,141.41 L296.30,143.31 L296.40,144.93 L296.50,146.09 L296.60,146.87 L296.70,147.33 L296.80,147.57 L296.90,147.64 L297.00,147.60 L297.10,147.47 L297.20,147.27 L297.30,147.03 L297.40,146.74 L297.50,146.43 L297.60,146.48 L297.70,146.50 L297.80,146.51 L297.90,146.51 L298.00,146.49 L298.10,146.47 L298.20,146.44 L298.30,146.41 L298.40,146.37 L298.50,146.33 L298.60,146.28 L298.70,146.23 L298.80,146.18 L298.90,146.12 L299.00,146.06 L299.10,146.00 L299.20,145.94 L299.30,145.87 L299.40,145.81 L299.50,145.74 L299.60,145.67 L299.70,145.60 L299.80,145.53 L299.90,145.46 L300.00,145.39 L300.10,145.32 L300.20,145.24 L300.30,145.17 L300.40,145.09 L300.50,145.02 L300.60,144.94 L300.70,144.86 L300.80,144.79 L300.90,144.71 L301.00,144.63 L301.10,144.55 L301.20,144.47 L301.30,144.39 L301.40,144.31 L301.50,144.23 L301.60,144.15 L301.70,144.07 L301.80,143.99 L301.90,143.91 L302.00,143.82 L302.10,143.74 L302.20,143.66 L302.30,143.58 L302.40,143.49 L302.50,143.41 L302.60,143.33 L302.70,143.24 L302.80,143.16 L302.90,143.08 L303.00,142.99 L303.10,142.91 L303.20,142.83 L303.30,142.74 L303.40,142.66 L303.50,142.57 L303.60,142.60 L303.70,142.63 L303.80,142.66 L303.90,142.69 L304.00,142.72 L304.10,142.75 L304.20,142.77 L304.30,142.80 L304.40,142.83 L304.50,142.86 L304.60,142.89 L304.70,142.92 L304.80,142.94 L304.90,142.97 L305.00,143.00 L305.10,143.03 L305.20,143.06 L305.30,143.08 L305.40,143.11 L305.50,143.14 L305.60,143.17 L305.70,143.19 L305.80,143.22 L305.90,143.25 L306.00,143.28 L306.10,143.30 L306.20,143.33 L306.30,143.36 L306.40,143.39 L306.50,143.41 L306.60,143.44 L306.70,143.47 L306.80,143.49 L306.90,143.52 L307.00,143.55 L307.10,143.58 L307.20,143.60 L307.30,143.63 L307.40,143.66 L307.50,143.68 L307.60,143.71 L307.70,143.74 L307.80,143.76 L307.90,143.79 L308.00,143.82 L308.10,143.84 L308.20,143.87 L308.30,143.90 L308.40,143.93 L308.50,143.95 L308.60,143.98 L308.70,144.01 L308.80,144.03 L308.90,144.06 L309.00,144.09 L309.10,144.11 L309.20,144.14 L309.30,144.17 L309.40,144.19 L309.50,144.22 L309.60,144.25 L309.70,144.28 L309.80,144.30 L309.90,144.33 L310.00,144.36 L310.10,144.38 L310.20,144.41 L310.30,144.44 L310.40,144.46 L310.50,144.49 L310.60,144.52 L310.70,144.55 L310.80,144.57 L310.90,144.60 L311.00,144.63 L311.10,144.66 L311.20,144.68 L311.30,144.71 L311.40,144.74 L311.50,144.76 L311.60,144.79 L311.70,144.82 L311.80,144.85 L311.90,144.87 L312.00,144.90 L312.10,144.93 L312.20,144.96 L312.30,144.99 L312.40,145.01 L312.50,145.04 L312.60,145.07 L312.70,145.10 L312.80,145.12 L312.90,145.15 L313.00,145.18 L313.10,145.21 L313.20,145.24 L313.30,145.26 L313.40,145.29 L313.50,145.32 L313.60,145.35 L313.70,145.38 L313.80,145.41 L313.90,145.43 L314.00,145.46 L314.10,145.49 L314.20,145.52 L314.30,145.55 L314.40,145.58 L314.50,145.61 L314.60,145.63 L314.70,145.66 L314.80,145.69 L314.90,145.72 L315.00,145.75 L315.10,145.78 L315.20,145.81 L315.30,145.84 L315.40,145.87 L315.50,145.89 L315.60,145.92 L315.70,145.95 L315.80,145.98 L315.90,146.01 L316.00,146.04 L316.10,146.07 L316.20,146.10 L316.30,146.13 L316.40,146.16 L316.50,146.19 L316.60,146.22 L316.70,146.24 L316.80,146.27 L316.90,146.30 L317.00,146.33 L317.10,146.36 L317.20,146.39 L317.30,146.42 L317.40,146.45 L317.50,146.48 L317.60,146.51 L317.70,146.54 L317.80,146.57 L317.90,146.60 L318.00,146.63 L318.10,146.66 L318.20,146.68 L318.30,146.71 L318.40,146.74 L318.50,146.77 L318.60,146.80 L318.70,146.83 L318.80,146.86 L318.90,146.89 L319.00,146.92 L319.10,146.95 L319.20,146.98 L319.30,147.01 L319.40,147.03 L319.50,147.06 L319.60,147.09 L319.70,147.12 L319.80,147.15 L319.90,147.18 L320.00,147.21 L320.10,147.24 L320.20,147.28 L320.30,147.32 L320.40,147.35 L320.50,147.39 L320.60,147.43 L320.70,147.46 L320.80,147.50 L320.90,147.53 L321.00,147.57 L321.10,147.61 L321.20,147.64 L321.30,147.68 L321.40,147.71 L321.50,147.75 L321.60,147.78 L321.70,147.82 L321.80,147.86 L321.90,147.89 L322.00,147.93 L322.10,147.96 L322.20,148.00 L322.30,148.03 L322.40,148.07 L322.50,148.10 L322.60,148.14 L322.70,148.17 L322.80,148.21 L322.90,148.24 L323.00,148.28 L323.10,148.31 L323.20,148.35 L323.30,148.38 L323.40,148.42 L323.50,148.45 L323.60,148.48 L323.70,148.52 L323.80,148.55 L323.90,148.59 L324.00,148.62 L324.10,148.66 L324.20,148.69 L324.30,148.72 L324.40,148.76 L324.50,148.79 L324.60,148.83 L324.70,148.86 L324.80,148.89 L324.90,148.93 L325.00,148.96 L325.10,148.99 L325.20,149.03 L325.30,149.06 L325.40,149.09 L325.50,149.13 L325.60,149.16 L325.70,149.19 L325.80,149.23 L325.90,149.26 L326.00,149.29 L326.10,149.33 L326.20,149.36 L326.30,149.39 L326.40,149.42 L326.50,149.46 L326.60,149.49 L326.70,149.52 L326.80,149.55 L326.90,149.59 L327.00,149.62 L327.10,149.65 L327.20,149.68 L327.30,149.72 L327.40,149.75 L327.50,149.78 L327.60,149.81 L327.70,149.85 L327.80,149.88 L327.90,149.91 L328.00,149.94 L328.10,149.97 L328.20,150.01 L328.30,150.04 L328.40,150.07 L328.50,150.10 L328.60,150.13 L328.70,150.17 L328.80,150.20 L328.90,150.23 L329.00,150.26 L329.10,150.29 L329.20,150.32 L329.30,150.36 L329.40,150.39 L329.50,150.42 L329.60,150.45 L329.70,150.48 L329.80,150.51 L329.90,150.55 L330.00,150.58 L330.10,150.59 L330.20,150.61 L330.30,150.62 L330.40,150.64 L330.50,150.66 L330.60,150.67 L330.70,150.69 L330.80,150.70 L330.90,150.72 L331.00,150.73 L331.10,150.75 L331.20,150.76 L331.30,150.78 L331.40,150.79 L331.50,150.81 L331.60,150.83 L331.70,150.84 L331.80,150.86 L331.90,150.87 L332.00,150.89 L332.10,150.90 L332.20,150.92 L332.30,150.93 L332.40,150.95 L332.50,150.96 L332.60,150.98 L332.70,150.99 L332.80,151.01 L332.90,151.02 L333.00,151.04 L333.10,151.05 L333.20,151.07 L333.30,151.08 L333.40,151.10 L333.50,151.11 L333.60,151.13 L333.70,151.14 L333.80,151.16 L333.90,151.17 L334.00,151.19 L334.10,151.20 L334.20,151.22 L334.30,151.23 L334.40,151.25 L334.50,151.26 L334.60,151.28 L334.70,151.29 L334.80,151.31 L334.90,151.32 L335.00,151.34 L335.10,151.35 L335.20,151.37 L335.30,151.38 L335.40,151.40 L335.50,151.41 L335.60,151.43 L335.70,151.44 L335.80,151.46 L335.90,151.47 L336.00,151.49 L336.10,151.50 L336.20,151.52 L336.30,151.53 L336.40,151.54 L336.50,151.56 L336.60,151.57 L336.70,151.59 L336.80,151.60 L336.90,151.62 L337.00,151.63 L337.10,151.66 L337.20,151.68 L337.30,151.71 L337.40,151.74 L337.50,151.76 L337.60,151.79 L337.70,151.81 L337.80,151.84 L337.90,151.86 L338.00,151.89 L338.10,151.92 L338.20,151.94 L338.30,151.97 L338.40,151.99 L338.50,152.02 L338.60,152.04 L338.70,152.07 L338.80,152.10 L338.90,152.12 L339.00,152.15 L339.10,152.17 L339.20,152.20 L339.30,152.22 L339.40,152.25 L339.50,152.28 L339.60,152.30 L339.70,152.33 L339.80,152.35 L339.90,152.38 L340.00,152.40 L340.10,152.43 L340.20,152.46 L340.30,152.48 L340.40,152.51 L340.50,152.53 L340.60,152.56 L340.70,152.58 L340.80,152.61 L340.90,152.63 L341.00,152.66 L341.10,152.69 L341.20,152.71 L341.30,152.74 L341.40,152.76 L341.50,152.79 L341.60,152.81 L341.70,152.84 L341.80,152.86 L341.90,152.89 L342.00,152.92 L342.10,152.94 L342.20,152.97 L342.30,152.99 L342.40,153.02 L342.50,153.04 L342.60,153.07 L342.70,153.09 L342.80,153.12 L342.90,153.15 L343.00,153.17 L343.10,153.20 L343.20,153.22 L343.30,153.25 L343.40,153.27 L343.50,153.30 L343.60,153.32 L343.70,153.35 L343.80,153.38 L343.90,153.40 L344.00,153.43 L344.10,153.45 L344.20,153.48 L344.30,153.50 L344.40,153.52 L344.50,153.55 L344.60,153.57 L344.70,153.60 L344.80,153.62 L344.90,153.65 L345.00,153.67 L345.10,153.69 L345.20,153.72 L345.30,153.74 L345.40,153.77 L345.50,153.79 L345.60,153.81 L345.70,153.84 L345.80,153.86 L345.90,153.89 L346.00,153.91 L346.10,153.93 L346.20,153.96 L346.30,153.98 L346.40,154.01 L346.50,154.03 L346.60,154.06 L346.70,154.08 L346.80,154.10 L346.90,154.13 L347.00,154.15 L347.10,154.18 L347.20,154.20 L347.30,154.22 L347.40,154.25 L347.50,154.27 L347.60,154.30 L347.70,154.32 L347.80,154.34 L347.90,154.37 L348.00,154.39 L348.10,154.42 L348.20,154.44 L348.30,154.46 L348.40,154.49 L348.50,154.51 L348.60,154.54 L348.70,154.56 L348.80,154.59 L348.90,154.61 L349.00,154.63 L349.10,154.66 L349.20,154.68 L349.30,154.71 L349.40,154.73 L349.50,154.75 L349.60,154.78 L349.70,154.80 L349.80,154.83 L349.90,154.85 L350.00,154.87 L350.10,154.90 L350.20,154.92 L350.30,154.95 L350.40,154.97 L350.50,154.99 L350.60,155.02 L350.70,155.04 L350.80,155.07 L350.90,155.09 L351.00,155.11 L351.10,155.14 L351.20,155.16 L351.30,155.17 L351.40,155.17 L351.50,155.18 L351.60,155.19 L351.70,155.19 L351.80,155.20 L351.90,155.20 L352.00,155.21 L352.10,155.21 L352.20,155.22 L352.30,155.23 L352.40,155.23 L352.50,155.24 L352.60,155.24 L352.70,155.25 L352.80,155.26 L352.90,155.26 L353.00,155.27 L353.10,155.27 L353.20,155.28 L353.30,155.28 L353.40,155.29 L353.50,155.30 L353.60,155.30 L353.70,155.31 L353.80,155.31 L353.90,155.32 L354.00,155.33 L354.10,155.33 L354.20,155.34 L354.30,155.34 L354.40,155.35 L354.50,155.35 L354.60,155.36 L354.70,155.37 L354.80,155.37 L354.90,155.38 L355.00,155.38 L355.10,155.39 L355.20,155.40 L355.30,155.40 L355.40,155.41 L355.50,155.41 L355.60,155.42 L355.70,155.42 L355.80,155.43 L355.90,155.44 L356.00,155.44 L356.10,155.45 L356.20,155.45 L356.30,155.46 L356.40,155.46 L356.50,155.47 L356.60,155.48 L356.70,155.48 L356.80,155.49 L356.90,155.49 L357.00,155.50 L357.10,155.51 L357.20,155.51 L357.30,155.52 L357.40,155.52 L357.50,155.53 L357.60,155.53 L357.70,155.54 L357.80,155.55 L357.90,155.55 L358.00,155.56 L358.10,155.56 L358.20,155.57 L358.30,155.57 L358.40,155.57 L358.50,155.57 L358.60,155.57 L358.70,155.57 L358.80,155.57 L358.90,155.57 L359.00,155.57 L359.10,155.57 L359.20,155.57 L359.30,155.57 L359.40,155.57 L359.50,155.57 L359.60,155.57 L359.70,155.57 L359.80,155.57 L359.90,155.57 L360.00,155.57 L360.10,155.57 L360.20,155.57 L360.30,155.57 L360.40,155.57 L360.50,155.57 L360.60,155.57 L360.70,155.57 L360.80,155.57 L360.90,155.57 L361.00,155.57 L361.10,155.57 L361.20,155.57 L361.30,155.57 L361.40,155.57 L361.50,155.57 L361.60,155.57 L361.70,155.57 L361.80,155.57 L361.90,155.57 L362.00,155.57 L362.10,155.57 L362.20,155.57 L362.30,155.57 L362.40,155.57 L362.50,155.57 L362.60,155.57 L362.70,155.57 L362.80,155.57 L362.90,155.57 L363.00,155.57 L363.10,155.57 L363.20,155.57 L363.30,155.57 L363.40,155.57 L363.50,155.57 L363.60,155.57 L363.70,155.57 L363.80,155.57 L363.90,155.57 L364.00,155.57 L364.10,155.57 L364.20,155.57 L364.30,155.57 L364.40,155.57 L364.50,155.57 L364.60,155.57 L364.70,155.57 L364.80,155.57 L364.90,155.57 L365.00,155.57 L365.10,155.57 L365.20,155.57 L365.30,155.57 L365.40,155.57 L365.50,155.57 L365.60,155.57 L365.70,155.57 L365.80,155.57 L365.90,155.57 L366.00,155.57 L366.10,155.57 L366.20,155.57 L366.30,155.57 L366.40,155.57 L366.50,155.57 L366.60,155.57 L366.70,155.57 L366.80,155.57 L366.90,155.57 L367.00,155.57 L367.10,155.58 L367.20,155.58 L367.30,155.58 L367.40,155.58 L367.50,155.58 L367.60,155.58 L367.70,155.58 L367.80,155.58 L367.90,155.58 L368.00,155.58 L368.10,155.58 L368.20,155.58 L368.30,155.58 L368.40,155.58 L368.50,155.58 L368.60,155.58 L368.70,155.58 L368.80,155.58 L368.90,155.58 L369.00,155.58 L369.10,155.58 L369.20,155.58 L369.30,155.58 L369.40,155.58 L369.50,155.58 L369.60,155.58 L369.70,155.58 L369.80,155.58 L369.90,155.58 L370.00,155.58 L370.10,155.58 L370.20,155.58 L370.30,155.58 L370.40,155.58 L370.50,155.58 L370.60,155.58 L370.70,155.58 L370.80,155.58 L370.90,155.58 L371.00,155.58 L371.10,155.58 L371.20,155.58 L371.30,155.58 L371.40,155.58 L371.50,155.58 L371.60,155.58 L371.70,155.58 L371.80,155.58 L371.90,155.58 L372.00,155.58 L372.10,155.58 L372.20,155.58 L372.30,155.58 L372.40,155.58 L372.50,155.58 L372.60,155.58 L372.70,155.58 L372.80,155.58 L372.90,155.58 L373.00,155.58 L373.10,155.58 L373.20,155.58 L373.30,155.58 L373.40,155.58 L373.50,155.58 L373.60,155.58 L373.70,155.58 L373.80,155.58 L373.90,155.58 L374.00,155.58 L374.10,155.58 L374.20,155.58 L374.30,155.58 L374.40,155.58 L374.50,155.58 L374.60,155.58 L374.70,155.58 L374.80,155.58 L374.90,155.58 L375.00,155.58 L375.10,155.58 L375.20,155.58 L375.30,155.58 L375.40,155.58 L375.50,155.58 L375.60,155.58 L375.70,155.58 L375.80,155.58 L375.90,155.58 L376.00,155.58 L376.10,155.58 L376.20,155.58 L376.30,155.58 L376.40,155.58 L376.50,155.58 L376.60,155.58 L376.70,155.58 L376.80,155.58 L376.90,155.58 L377.00,155.58 L377.10,155.58 L377.20,155.58 L377.30,155.58 L377.40,155.58 L377.50,155.58 L377.60,155.58 L377.70,155.58 L377.80,155.58 L377.90,155.58 L378.00,155.58 L378.10,155.58 L378.20,155.58 L378.30,155.58 L378.40,155.58 L378.50,155.58 L378.60,155.58 L378.70,155.58 L378.80,155.58 L378.90,155.58 L379.00,155.58 L379.10,155.58 L379.20,155.58 L379.30,155.58 L379.40,155.58 L379.50,155.58 L379.60,155.58 L379.70,155.58 L379.80,155.58 L379.90,155.58 L380.00,155.58 L380.10,155.58 L380.20,155.58 L380.30,155.58 L380.40,155.58 L380.50,155.58 L380.60,155.58 L380.70,155.58 L380.80,155.58 L380.90,155.58 L381.00,155.58 L381.10,155.58 L381.20,155.58 L381.30,155.58 L381.40,155.58 L381.50,155.58 L381.60,155.58 L381.70,155.58 L381.80,155.58 L381.90,155.58 L382.00,155.58 L382.10,155.58 L382.20,155.58 L382.30,155.58 L382.40,155.58 L382.50,155.58 L382.60,155.58 L382.70,155.58 L382.80,155.58 L382.90,155.58 L383.00,155.58 L383.10,155.58 L383.20,155.58 L383.30,155.58 L383.40,155.58 L383.50,155.58 L383.60,155.58 L383.70,155.58 L383.80,155.58 L383.90,155.58 L384.00,155.58 L384.10,155.58 L384.20,155.58 L384.30,155.58 L384.40,155.58 L384.50,155.58 L384.60,155.58 L384.70,155.58 L384.80,155.58 L384.90,155.58 L385.00,155.58 L385.10,155.58 L385.20,155.58 L385.30,155.58 L385.40,155.58 L385.50,155.58 L385.60,155.58 L385.70,155.58 L385.80,155.58 L385.90,155.58 L386.00,155.58 L386.10,155.58 L386.20,155.58 L386.30,155.58 L386.40,155.58 L386.50,155.58 L386.60,155.58 L386.70,155.58 L386.80,155.58 L386.90,155.58 L387.00,155.58 L387.10,155.58 L387.20,155.58 L387.30,155.58 L387.40,155.58 L387.50,155.58 L387.60,155.58 L387.70,155.58 L387.80,155.58 L387.90,155.58 L388.00,155.58 L388.10,155.58 L388.20,155.58 L388.30,155.58 L388.40,155.58 L388.50,155.58 L388.60,155.58 L388.70,155.58 L388.80,155.58 L388.90,155.58 L389.00,155.58 L389.10,155.58 L389.20,155.58 L389.30,155.58 L389.40,155.58 L389.50,155.58 L389.60,155.58 L389.70,155.58 L389.80,155.58 L389.90,155.58 L390.00,155.58 L390.10,155.58 L390.20,155.58 L390.30,155.58 L390.40,155.58 L390.50,155.58 L390.60,155.58 L390.70,155.58 L390.80,155.58 L390.90,155.58 L391.00,155.58 L391.10,155.58 L391.20,155.58 L391.30,155.58 L391.40,155.58 L391.50,155.58 L391.60,155.58 L391.70,155.58 L391.80,155.58 L391.90,155.58 L392.00,155.58 L392.10,155.58 L392.20,155.58 L392.30,155.58 L392.40,155.58 L392.50,155.58 L392.60,155.58 L392.70,155.58 L392.80,155.58 L392.90,155.58 L393.00,155.59 L393.10,155.59 L393.20,155.59 L393.30,155.59 L393.40,155.59 L393.50,155.59 L393.60,155.59 L393.70,155.59 L393.80,155.59 L393.90,155.59 L394.00,155.59 L394.10,155.59 L394.20,155.59 L394.30,155.59 L394.40,155.59 L394.50,155.59 L394.60,155.59 L394.70,155.59 L394.80,155.59 L394.90,155.59 L395.00,155.59 L395.10,155.59 L395.20,155.59 L395.30,155.59 L395.40,155.59 L395.50,155.59 L395.60,155.59 L395.70,155.59 L395.80,155.59 L395.90,155.59 L396.00,155.59 L396.10,155.59 L396.20,155.59 L396.30,155.59 L396.40,155.59 L396.50,155.59 L396.60,155.59 L396.70,155.59 L396.80,155.59 L396.90,155.59 L397.00,155.59 L397.10,155.59 L397.20,155.59 L397.30,155.59 L397.40,155.59 L397.50,155.59 L397.60,155.59 L397.70,155.59 L397.80,155.59 L397.90,155.59 L398.00,155.59 L398.10,155.59 L398.20,155.59 L398.30,155.59 L398.40,155.59 L398.50,155.59 L398.60,155.59 L398.70,155.59 L398.80,155.59 L398.90,155.59 L399.00,155.59 L399.10,155.59 L399.20,155.59 L399.30,155.59 L399.40,155.59 L399.50,155.59 L399.60,155.59 L399.70,155.59 L399.80,155.59 L399.90,155.59 L400.00,155.59 L400.10,155.59 L400.20,155.59 L400.30,155.59 L400.40,155.59 L400.50,155.59 L400.60,155.60 L400.70,155.60 L400.80,155.60 L400.90,155.60 L401.00,155.60 L401.10,155.60 L401.20,155.60 L401.30,155.61 L401.40,155.61 L401.50,155.61 L401.60,155.61 L401.70,155.61 L401.80,155.61 L401.90,155.61 L402.00,155.62 L402.10,155.62 L402.20,155.62 L402.30,155.62 L402.40,155.62 L402.50,155.62 L402.60,155.62 L402.70,155.63 L402.80,155.63 L402.90,155.63 L403.00,155.63 L403.10,155.63 L403.20,155.63 L403.30,155.63 L403.40,155.64 L403.50,155.64 L403.60,155.64 L403.70,155.64 L403.80,155.64 L403.90,155.64 L404.00,155.64 L404.10,155.65 L404.20,155.65 L404.30,155.65 L404.40,155.65 L404.50,155.65 L404.60,155.65 L404.70,155.65 L404.80,155.66 L404.90,155.66 L405.00,155.66 L405.10,155.66 L405.20,155.66 L405.30,155.66 L405.40,155.66 L405.50,155.67 L405.60,155.67 L405.70,155.67 L405.80,155.67 L405.90,155.67 L406.00,155.67 L406.10,155.67 L406.20,155.68 L406.30,155.68 L406.40,155.68 L406.50,155.68 L406.60,155.68 L406.70,155.68 L406.80,155.68 L406.90,155.69 L407.00,155.69 L407.10,155.69 L407.20,155.69 L407.30,155.69 L407.40,155.69 L407.50,155.69 L407.60,155.70 L407.70,155.70 L407.80,155.70 L407.90,155.70 L408.00,155.70 L408.10,155.70 L408.20,155.70 L408.30,155.71 L408.40,155.71 L408.50,155.71 L408.60,155.71 L408.70,155.71 L408.80,155.71 L408.90,155.71 L409.00,155.72 L409.10,155.72 L409.20,155.72 L409.30,155.72 L409.40,155.72 L409.50,155.72 L409.60,155.72 L409.70,155.73 L409.80,155.73 L409.90,155.73 L410.00,155.73 L410.10,155.73 L410.20,155.73 L410.30,155.73 L410.40,155.74 L410.50,155.74 L410.60,155.74 L410.70,155.74 L410.80,155.74 L410.90,155.74 L411.00,155.74 L411.10,155.75 L411.20,155.75 L411.30,155.75 L411.40,155.75 L411.50,155.75 L411.60,155.75 L411.70,155.75 L411.80,155.76 L411.90,155.76 L412.00,155.76 L412.10,155.76 L412.20,155.76 L412.30,155.76 L412.40,155.76 L412.50,155.77 L412.60,155.77 L412.70,155.77 L412.80,155.77 L412.90,155.77 L413.00,155.77 L413.10,155.77 L413.20,155.78 L413.30,155.78 L413.40,155.78 L413.50,155.78 L413.60,155.78 L413.70,155.78 L413.80,155.78 L413.90,155.79 L414.00,155.79 L414.10,155.79 L414.20,155.79 L414.30,155.79 L414.40,155.79 L414.50,155.79 L414.60,155.80 L414.70,155.80 L414.80,155.80 L414.90,155.80 L415.00,155.80 L415.10,155.80 L415.20,155.80 L415.30,155.81 L415.40,155.81 L415.50,155.81 L415.60,155.81 L415.70,155.81 L415.80,155.81 L415.90,155.81 L416.00,155.82 L416.10,155.82 L416.20,155.82 L416.30,155.82 L416.40,155.82 L416.50,155.82 L416.60,155.82 L416.70,155.83 L416.80,155.83 L416.90,155.83 L417.00,155.83 L417.10,155.83 L417.20,155.83 L417.30,155.83 L417.40,155.84 L417.50,155.84 L417.60,155.84 L417.70,155.84 L417.80,155.84 L417.90,155.84 L418.00,155.84 L418.10,155.85 L418.20,155.85 L418.30,155.85 L418.40,155.85 L418.50,155.85 L418.60,155.85 L418.70,155.85 L418.80,155.86 L418.90,155.86 L419.00,155.86 L419.10,155.86 L419.20,155.86 L419.30,155.86 L419.40,155.86 L419.50,155.87 L419.60,155.87 L419.70,155.87 L419.80,155.87 L419.90,155.87 L420.00,155.87 L420.10,155.87 L420.20,155.88 L420.30,155.88 L420.40,155.88 L420.50,155.88 L420.60,155.88 L420.70,155.88 L420.80,155.88 L420.90,155.89 L421.00,155.89 L421.10,155.89 L421.20,155.89 L421.30,155.89 L421.40,155.89 L421.50,155.89 L421.60,155.90 L421.70,155.90 L421.80,155.90 L421.90,155.90 L422.00,155.90 L422.10,155.90 L422.20,155.90 L422.30,155.91 L422.40,155.91 L422.50,155.91 L422.60,155.91 L422.70,155.91 L422.80,155.91 L422.90,155.91 L423.00,155.92 L423.10,155.92 L423.20,155.92 L423.30,155.92 L423.40,155.92 L423.50,155.92 L423.60,155.92 L423.70,155.93 L423.80,155.93 L423.90,155.93 L424.00,155.93 L424.10,155.93 L424.20,155.93 L424.30,155.93 L424.40,155.93 L424.50,155.94 L424.60,155.94 L424.70,155.94 L424.80,155.94 L424.90,155.94 L425.00,155.94 L425.10,155.94 L425.20,155.95 L425.30,155.95 L425.40,155.95 L425.50,155.95 L425.60,155.95 L425.70,155.95 L425.80,155.95 L425.90,155.96 L426.00,155.96 L426.10,155.96 L426.20,155.96 L426.30,155.96 L426.40,155.96 L426.50,155.96 L426.60,155.97 L426.70,155.97 L426.80,155.97 L426.90,155.97 L427.00,155.97 L427.10,155.97 L427.20,155.97 L427.30,155.98 L427.40,155.98 L427.50,155.98 L427.60,155.98 L427.70,155.98 L427.80,155.98 L427.90,155.98 L428.00,155.99 L428.10,155.99 L428.20,155.99 L428.30,155.99 L428.40,155.99 L428.50,155.99 L428.60,155.99 L428.70,156.00 L428.80,156.00 L428.90,156.00 L429.00,156.00 L429.10,156.00 L429.20,156.00 L429.30,156.00 L429.40,156.01 L429.50,156.01 L429.60,156.01 L429.70,156.01 L429.80,156.01 L429.90,156.01 L430.00,156.01 L430.10,156.02 L430.20,156.02 L430.30,156.02 L430.40,156.02 L430.50,156.02 L430.60,156.02 L430.70,156.02 L430.80,156.03 L430.90,156.03 L431.00,156.03 L431.10,156.03 L431.20,156.03 L431.30,156.03 L431.40,156.03 L431.50,156.04 L431.60,156.04 L431.70,156.04 L431.80,156.04 L431.90,156.04 L432.00,156.04 L432.10,156.04 L432.20,156.05 L432.30,156.05 L432.40,156.05 L432.50,156.05 L432.60,156.05 L432.70,156.05 L432.80,156.05 L432.90,156.06 L433.00,156.06 L433.10,156.06 L433.20,156.06 L433.30,156.06 L433.40,156.06 L433.50,156.06 L433.60,156.07 L433.70,156.07 L433.80,156.07 L433.90,156.07 L434.00,156.07 L434.10,156.07 L434.20,156.07 L434.30,156.08 L434.40,156.08 L434.50,156.08 L434.60,156.08 L434.70,156.08 L434.80,156.08 L434.90,156.08 L435.00,156.09 L435.10,156.09 L435.20,156.09 L435.30,156.09 L435.40,156.09 L435.50,156.09 L435.60,156.09 L435.70,156.10 L435.80,156.10 L435.90,156.10 L436.00,156.10 L436.10,156.10 L436.20,156.10 L436.30,156.10 L436.40,156.11 L436.50,156.11 L436.60,156.11 L436.70,156.11 L436.80,156.11 L436.90,156.11 L437.00,156.11 L437.10,156.12 L437.20,156.12 L437.30,156.12 L437.40,156.12 L437.50,156.12 L437.60,156.12 L437.70,156.12 L437.80,156.13 L437.90,156.13 L438.00,156.13 L438.10,156.13 L438.20,156.13 L438.30,156.13 L438.40,156.13 L438.50,156.14 L438.60,156.14 L438.70,156.14 L438.80,156.14 L438.90,156.14 L439.00,156.14 L439.10,156.14 L439.20,156.15 L439.30,156.15 L439.40,156.15 L439.50,156.15 L439.60,156.15 L439.70,156.15 L439.80,156.15 L439.90,156.16 L440.00,156.16 L440.10,156.16 L440.20,156.16 L440.30,156.16 L440.40,156.16 L440.50,156.16 L440.60,156.17 L440.70,156.17 L440.80,156.17 L440.90,156.17 L441.00,156.17 L441.10,156.17 L441.20,156.17 L441.30,156.18 L441.40,156.18 L441.50,156.18 L441.60,156.18 L441.70,156.18 L441.80,156.18 L441.90,156.18 L442.00,156.19 L442.10,156.19 L442.20,156.19 L442.30,156.19 L442.40,156.19 L442.50,156.19 L442.60,156.19 L442.70,156.20 L442.80,156.20 L442.90,156.20 L443.00,156.20 L443.10,156.20 L443.20,156.20 L443.30,156.20 L443.40,156.21 L443.50,156.21 L443.60,156.21 L443.70,156.21 L443.80,156.21 L443.90,156.21 L444.00,156.21 L444.10,156.21 L444.20,156.22 L444.30,156.22 L444.40,156.22 L444.50,156.22 L444.60,156.22 L444.70,156.22 L444.80,156.22 L444.90,156.23 L445.00,156.23 L445.10,156.23 L445.20,156.23 L445.30,156.23 L445.40,156.23 L445.50,156.23 L445.60,156.24 L445.70,156.24 L445.80,156.24 L445.90,156.24 L446.00,156.24 L446.10,156.24 L446.20,156.24 L446.30,156.25 L446.40,156.25 L446.50,156.25 L446.60,156.25 L446.70,156.25 L446.80,156.25 L446.90,156.25 L447.00,156.26 L447.10,156.26 L447.20,156.26 L447.30,156.26 L447.40,156.26 L447.50,156.26 L447.60,156.26 L447.70,156.27 L447.80,156.27 L447.90,156.27 L448.00,156.27 L448.10,156.27 L448.20,156.27 L448.30,156.27 L448.40,156.28 L448.50,156.28 L448.60,156.28 L448.70,156.28 L448.80,156.28 L448.90,156.28 L449.00,156.28 L449.10,156.29 L449.20,156.29 L449.30,156.29 L449.40,156.29 L449.50,156.29 L449.60,156.29 L449.70,156.29 L449.80,156.30 L449.90,156.30 L450.00,156.30 L450.10,156.30 L450.20,156.30 L450.30,156.30 L450.40,156.30 L450.50,156.31 L450.60,156.31 L450.70,156.31 L450.80,156.31 L450.90,156.31 L451.00,156.31 L451.10,156.31 L451.20,156.32 L451.30,156.32 L451.40,156.32 L451.50,156.32 L451.60,156.32 L451.70,156.32 L451.80,156.32 L451.90,156.33 L452.00,156.33 L452.10,156.33 L452.20,156.33 L452.30,156.33 L452.40,156.33 L452.50,156.33 L452.60,156.34 L452.70,156.34 L452.80,156.34 L452.90,156.34 L453.00,156.34 L453.10,156.34 L453.20,156.34 L453.30,156.35 L453.40,156.35 L453.50,156.35 L453.60,156.35 L453.70,156.35 L453.80,156.35 L453.90,156.35 L454.00,156.36 L454.10,156.36 L454.20,156.36 L454.30,156.36 L454.40,156.36 L454.50,156.36 L454.60,156.36 L454.70,156.37 L454.80,156.37 L454.90,156.37 L455.00,156.37 L455.10,156.37 L455.20,156.37 L455.30,156.37 L455.40,156.38 L455.50,156.38 L455.60,156.38 L455.70,156.38 L455.80,156.38 L455.90,156.38 L456.00,156.38 L456.10,156.39 L456.20,156.39 L456.30,156.39 L456.40,156.39 L456.50,156.39 L456.60,156.39 L456.70,156.39" stroke="#00f" stroke-dasharray="2 1.46"/>
</g>
<g stroke="#000" stroke-width="1" fill="none">
<rect x="39.5" y="17.4" width="432.1" height="282.6"/>
<rect x="243.5" y="31.4" width="213.2" height="129.79999999999998"/>
<path d="M39.5,29.5 h4.5 M471.6,29.5 h-4.5 M39.5,69.88 h4.5 M471.6,69.88 h-4.5 M39.5,110.26 h4.5 M471.6,110.26 h-4.5 M39.5,150.64 h4.5 M471.6,150.64 h-4.5 M39.5,191.02 h4.5 M471.6,191.02 h-4.5 M39.5,231.4 h4.5 M471.6,231.4 h-4.5 M39.5,271.78 h4.5 M471.6,271.78 h-4.5 M108.5,300.0 v-4.5 M199.3,300.0 v-4.5 M290.1,300.0 v-4.5 M380.9,300.0 v-4.5 M243.5,128.75 h4.5 M243.5,96.3 h4.5 M243.5,63.85 h4.5 M243.5,31.4 h4.5 M253.5,161.2 v-4.5 M321.24,161.2 v-4.5 M388.98,161.2 v-4.5 M456.72,161.2 v-4.5 "/>
</g>
<g transform="translate(31.20,36.50) scale(1,1.07)"><text text-anchor="end">10<tspan font-size="11.2" dy="-7.2">2</tspan></text></g>
<g transform="translate(31.20,76.88) scale(1,1.07)"><text text-anchor="end">10<tspan font-size="11.2" dy="-7.2">1</tspan></text></g>
<g transform="translate(30.20,115.16) scale(1,1.07)"><text text-anchor="end">1</text></g>
<g transform="translate(30.80,157.64) scale(1,1.07)"><text text-anchor="end">10<tspan font-size="11.2" dy="-7.2">-1</tspan></text></g>
<g transform="translate(30.80,198.02) scale(1,1.07)"><text text-anchor="end">10<tspan font-size="11.2" dy="-7.2">-2</tspan></text></g>
<g transform="translate(30.80,238.40) scale(1,1.07)"><text text-anchor="end">10<tspan font-size="11.2" dy="-7.2">-3</tspan></text></g>
<g transform="translate(30.80,278.78) scale(1,1.07)"><text text-anchor="end">10<tspan font-size="11.2" dy="-7.2">-4</tspan></text></g>
<g transform="translate(108.50,319.50) scale(1,1.07)"><text text-anchor="middle">0.1</text></g>
<g transform="translate(199.30,319.50) scale(1,1.07)"><text text-anchor="middle">0.2</text></g>
<g transform="translate(290.10,319.50) scale(1,1.07)"><text text-anchor="middle">0.3</text></g>
<g transform="translate(380.90,319.50) scale(1,1.07)"><text text-anchor="middle">0.4</text></g>
<g transform="translate(471.70,319.50) scale(1,1.07)"><text text-anchor="middle">0.5</text></g>
<g transform="translate(234.80,133.65) scale(1,1.07)"><text text-anchor="end">0.1</text></g>
<g transform="translate(234.80,101.20) scale(1,1.07)"><text text-anchor="end">0.2</text></g>
<g transform="translate(234.80,68.75) scale(1,1.07)"><text text-anchor="end">0.3</text></g>
<g transform="translate(234.80,36.30) scale(1,1.07)"><text text-anchor="end">0.4</text></g>
<g transform="translate(253.50,180.60) scale(1,1.07)"><text text-anchor="middle">4</text></g>
<g transform="translate(321.24,180.60) scale(1,1.07)"><text text-anchor="middle">6</text></g>
<g transform="translate(388.98,180.60) scale(1,1.07)"><text text-anchor="middle">8</text></g>
<g transform="translate(456.72,180.60) scale(1,1.07)"><text text-anchor="middle">10</text></g>
<g transform="translate(49.30,36.30) scale(1,1.07)"><text text-anchor="start">G(<tspan class="sy">τ</tspan>) [GeV<tspan font-size="12.8" dy="-7.0" dx="-0.6">3</tspan><tspan dy="7.0" dx="-0.3">]</tspan></text></g>
<g transform="translate(256.00,341.00) scale(1,1.07)"><text text-anchor="middle"><tspan class="sy">τ</tspan> [fm]</text></g>
<g transform="translate(349.80,203.30) scale(1,1.07)"><text text-anchor="middle"><tspan class="sy">ω</tspan> [GeV]</text></g>
<g transform="translate(236.50,236.30) scale(1,1.07)"><text text-anchor="end" style="fill:#f00">lattice</text></g>
<g transform="translate(236.50,249.50) scale(1,1.07)"><text text-anchor="end" style="fill:#000"><tspan class="sy">μ</tspan>=0.2GeV, r<tspan font-size="11.2" dy="3.3">med</tspan><tspan dy="-3.3">=1.5fm</tspan></text></g>
<g transform="translate(236.50,263.90) scale(1,1.07)"><text text-anchor="end" style="fill:#f00"><tspan class="sy">μ</tspan>=0.1GeV, r<tspan font-size="11.2" dy="3.3">med</tspan><tspan dy="-3.3">=1.5fm</tspan></text></g>
<g transform="translate(236.50,278.30) scale(1,1.07)"><text text-anchor="end" style="fill:#008000"><tspan class="sy">μ</tspan>=0.1GeV, r<tspan font-size="11.2" dy="3.3">med</tspan><tspan dy="-3.3">=2.0fm</tspan></text></g>
<g transform="translate(236.50,293.80) scale(1,1.07)"><text text-anchor="end" style="fill:#00f">NR</text></g>
<g fill="none" stroke-width="1">
<path d="M244.5,245.85 H285.5" stroke="#a4a4a4" stroke-dasharray="1 1"/>
<path d="M244.8,260.4 H286" stroke="#f00" stroke-width="0.6"/>
<path d="M244.5,274.75 H285.5" stroke="#008000" stroke-dasharray="3.5 1.3 0.75 1.3" stroke-width="0.8"/>
<path d="M244.3,289.4 H285" stroke="#00f" stroke-dasharray="2 1.46" stroke-width="0.8"/>
</g>
</svg></body></html>
